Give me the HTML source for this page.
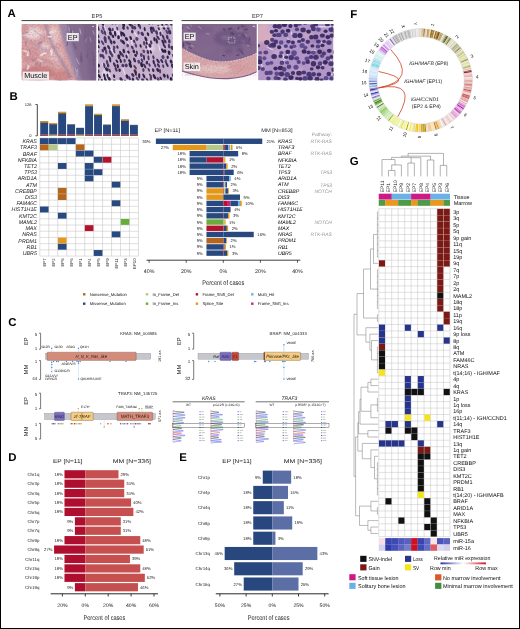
<!DOCTYPE html>
<html><head><meta charset="utf-8"><title>Figure</title>
<style>
html,body{margin:0;padding:0;background:#fff;}
body{width:520px;height:629px;overflow:hidden;font-family:'Liberation Sans', sans-serif;}
svg{display:block;font-family:"Liberation Sans",sans-serif;opacity:0.999;will-change:transform;}
svg text{text-rendering:geometricPrecision;}
</style></head><body>
<svg width="520" height="629" viewBox="0 0 520 629">
<rect x="0" y="0" width="520" height="629" fill="#fff"/>
<defs>
<filter id="bl1" x="-20%" y="-20%" width="140%" height="140%"><feGaussianBlur stdDeviation="1.6"/></filter>
<filter id="bl08" x="-20%" y="-20%" width="140%" height="140%"><feGaussianBlur stdDeviation="0.9"/></filter>
<filter id="bl05" x="-20%" y="-20%" width="140%" height="140%"><feGaussianBlur stdDeviation="0.5"/></filter>
<filter id="bl03" x="-20%" y="-20%" width="140%" height="140%"><feGaussianBlur stdDeviation="0.32"/></filter>
<filter id="nz1" x="0" y="0" width="100%" height="100%"><feTurbulence type="fractalNoise" baseFrequency="0.55" numOctaves="3" seed="3" result="n"/><feColorMatrix in="n" type="matrix" values="0 0 0 0 0.25  0 0 0 0 0.15  0 0 0 0 0.35  0 0 0 -3.2 1.75"/><feGaussianBlur stdDeviation="0.35"/></filter>
<filter id="nz2" x="0" y="0" width="100%" height="100%"><feTurbulence type="fractalNoise" baseFrequency="0.35" numOctaves="2" seed="11" result="n"/><feColorMatrix in="n" type="matrix" values="0 0 0 0 1  0 0 0 0 0.95  0 0 0 0 0.95  0 0 0 3.4 -1.75"/></filter>
<clipPath id="ca1"><rect x="21.5" y="24" width="74.8" height="56.4"/></clipPath>
<clipPath id="ca2"><rect x="98" y="24" width="74.9" height="56.4"/></clipPath>
<clipPath id="ca3"><rect x="181.9" y="24" width="74.8" height="56.4"/></clipPath>
<clipPath id="ca4"><rect x="258.1" y="24" width="75.4" height="56.4"/></clipPath>
</defs>
<line x1="21.50" y1="20.60" x2="172.60" y2="20.60" stroke="#222" stroke-width="0.9"/>
<line x1="181.50" y1="20.60" x2="333.30" y2="20.60" stroke="#222" stroke-width="0.9"/>
<text x="97.00" y="17.94" font-size="5.7" text-anchor="middle" fill="#333">EP5</text>
<text x="257.50" y="17.94" font-size="5.7" text-anchor="middle" fill="#333">EP7</text>
<g clip-path="url(#ca1)">
<rect x="21.50" y="24.00" width="74.80" height="56.40" fill="#dca6a4"/>
<g filter="url(#bl1)">
<ellipse cx="33" cy="33" rx="10" ry="6" fill="#efd8d6"/>
<ellipse cx="54" cy="36" rx="6" ry="10" fill="#e8c2c0"/>
<ellipse cx="56" cy="56" rx="7" ry="7" fill="#e6bcba"/>
<ellipse cx="30" cy="54" rx="9" ry="8" fill="#d89a9a"/>
<ellipse cx="38" cy="73" rx="18" ry="7" fill="#cc8280"/>
<ellipse cx="62" cy="76" rx="9" ry="6" fill="#d08a88"/>
<ellipse cx="25" cy="29" rx="4" ry="5" fill="#d69c9c"/>
<ellipse cx="45" cy="47" rx="5" ry="4" fill="#eacaca"/>
<path d="M59 22 L98 22 L98 82 L77 82 L72 66 L66 50 L62 36 Z" fill="#846c8e"/>
<path d="M59 22 L66 22 L70 40 L76 60 L82 82 L77 82 L72 66 L66 50 L62 36 Z" fill="#9a86a6"/>
<path d="M82 22 L98 22 L98 82 L90 82 Z" fill="#7a6286"/>
</g>
<g filter="url(#bl08)" fill="none" opacity="0.85">
<path d="M45 23 C48 33 50 42 56 52 S66 68 71 78" stroke="#94809e" stroke-width="2.2"/>
<path d="M22 37 C30 42 38 47 50 52" stroke="#b494aa" stroke-width="1.8"/>
<path d="M30 24 C34 30 40 36 47 40" stroke="#c09eae" stroke-width="1.2"/>
<path d="M24 60 C34 58 44 60 54 64" stroke="#b88a92" stroke-width="1.4"/>
</g>
<g filter="url(#bl05)">
<ellipse cx="72.7" cy="32.4" rx="2.2" ry="0.6" fill="#b4a0b8" transform="rotate(86 72.7 32.4)"/>
<ellipse cx="69.1" cy="28.8" rx="2.7" ry="0.6" fill="#b4a0b8" transform="rotate(77 69.1 28.8)"/>
<ellipse cx="76.0" cy="70.3" rx="2.7" ry="0.6" fill="#b4a0b8" transform="rotate(65 76.0 70.3)"/>
<ellipse cx="93.3" cy="56.3" rx="4.9" ry="0.6" fill="#6a5478" transform="rotate(76 93.3 56.3)"/>
<ellipse cx="80.4" cy="31.5" rx="3.6" ry="0.6" fill="#b4a0b8" transform="rotate(77 80.4 31.5)"/>
<ellipse cx="81.2" cy="59.8" rx="3.6" ry="0.6" fill="#6a5478" transform="rotate(75 81.2 59.8)"/>
<ellipse cx="80.6" cy="58.7" rx="3.6" ry="0.6" fill="#705880" transform="rotate(80 80.6 58.7)"/>
<ellipse cx="77.4" cy="75.7" rx="2.7" ry="0.6" fill="#a590ac" transform="rotate(74 77.4 75.7)"/>
<ellipse cx="85.1" cy="37.7" rx="3.6" ry="0.6" fill="#705880" transform="rotate(83 85.1 37.7)"/>
<ellipse cx="86.1" cy="40.1" rx="2.4" ry="0.6" fill="#9a84a4" transform="rotate(99 86.1 40.1)"/>
<ellipse cx="67.4" cy="43.2" rx="3.3" ry="0.6" fill="#6a5478" transform="rotate(97 67.4 43.2)"/>
<ellipse cx="87.2" cy="56.1" rx="2.9" ry="0.6" fill="#705880" transform="rotate(95 87.2 56.1)"/>
<ellipse cx="81.6" cy="56.5" rx="4.5" ry="0.6" fill="#705880" transform="rotate(78 81.6 56.5)"/>
<ellipse cx="77.6" cy="61.2" rx="4.1" ry="0.6" fill="#b4a0b8" transform="rotate(62 77.6 61.2)"/>
<ellipse cx="94.8" cy="70.0" rx="3.2" ry="0.6" fill="#705880" transform="rotate(71 94.8 70.0)"/>
<ellipse cx="65.9" cy="27.3" rx="2.4" ry="0.6" fill="#a590ac" transform="rotate(91 65.9 27.3)"/>
<ellipse cx="67.5" cy="46.5" rx="2.4" ry="0.6" fill="#9a84a4" transform="rotate(71 67.5 46.5)"/>
<ellipse cx="90.5" cy="39.6" rx="3.1" ry="0.6" fill="#9a84a4" transform="rotate(77 90.5 39.6)"/>
<ellipse cx="93.6" cy="32.5" rx="2.7" ry="0.6" fill="#a590ac" transform="rotate(67 93.6 32.5)"/>
<ellipse cx="71.3" cy="32.2" rx="3.8" ry="0.6" fill="#705880" transform="rotate(81 71.3 32.2)"/>
<ellipse cx="93.5" cy="62.7" rx="3.9" ry="0.6" fill="#6a5478" transform="rotate(81 93.5 62.7)"/>
<ellipse cx="77.1" cy="72.8" rx="4.0" ry="0.6" fill="#b4a0b8" transform="rotate(98 77.1 72.8)"/>
<ellipse cx="74.9" cy="46.3" rx="3.9" ry="0.6" fill="#6a5478" transform="rotate(64 74.9 46.3)"/>
<ellipse cx="43.5" cy="54.1" rx="3.9" ry="1.1" fill="#f3e2e0" transform="rotate(157 43.5 54.1)"/>
<ellipse cx="45.3" cy="32.3" rx="2.1" ry="0.8" fill="#ecd0ce" transform="rotate(85 45.3 32.3)"/>
<ellipse cx="26.4" cy="51.3" rx="3.9" ry="0.9" fill="#ecd0ce" transform="rotate(15 26.4 51.3)"/>
<ellipse cx="25.9" cy="43.2" rx="2.2" ry="1.2" fill="#c98886" transform="rotate(93 25.9 43.2)"/>
<ellipse cx="29.8" cy="77.3" rx="2.4" ry="1.1" fill="#f3e2e0" transform="rotate(136 29.8 77.3)"/>
<ellipse cx="33.3" cy="60.0" rx="1.7" ry="1.3" fill="#b08a9c" transform="rotate(66 33.3 60.0)"/>
<ellipse cx="28.3" cy="67.2" rx="2.8" ry="1.2" fill="#ecd0ce" transform="rotate(115 28.3 67.2)"/>
<ellipse cx="45.3" cy="68.2" rx="3.4" ry="0.7" fill="#c98886" transform="rotate(147 45.3 68.2)"/>
<ellipse cx="50.1" cy="36.7" rx="2.8" ry="0.8" fill="#f3e2e0" transform="rotate(178 50.1 36.7)"/>
<ellipse cx="52.0" cy="50.4" rx="2.0" ry="1.0" fill="#ecd0ce" transform="rotate(81 52.0 50.4)"/>
<ellipse cx="57.6" cy="79.3" rx="3.9" ry="0.8" fill="#c98886" transform="rotate(18 57.6 79.3)"/>
<ellipse cx="39.9" cy="42.9" rx="2.7" ry="1.4" fill="#b08a9c" transform="rotate(151 39.9 42.9)"/>
<ellipse cx="40.2" cy="60.6" rx="3.5" ry="0.6" fill="#f0dcda" transform="rotate(22 40.2 60.6)"/>
<ellipse cx="36.8" cy="63.8" rx="2.0" ry="1.3" fill="#c58088" transform="rotate(142 36.8 63.8)"/>
<ellipse cx="34.6" cy="68.8" rx="3.9" ry="0.9" fill="#c58088" transform="rotate(134 34.6 68.8)"/>
<ellipse cx="25.2" cy="32.9" rx="4.0" ry="0.5" fill="#b08a9c" transform="rotate(163 25.2 32.9)"/>
<ellipse cx="52.6" cy="32.2" rx="3.6" ry="1.4" fill="#f0dcda" transform="rotate(169 52.6 32.2)"/>
<ellipse cx="27.9" cy="54.7" rx="1.6" ry="1.2" fill="#f0dcda" transform="rotate(117 27.9 54.7)"/>
<ellipse cx="42.0" cy="76.3" rx="2.6" ry="1.3" fill="#c98886" transform="rotate(5 42.0 76.3)"/>
<ellipse cx="30.1" cy="52.1" rx="3.4" ry="0.8" fill="#b08a9c" transform="rotate(75 30.1 52.1)"/>
<ellipse cx="27.0" cy="75.0" rx="2.4" ry="0.9" fill="#b08a9c" transform="rotate(147 27.0 75.0)"/>
<ellipse cx="41.6" cy="70.3" rx="3.7" ry="0.6" fill="#c98886" transform="rotate(94 41.6 70.3)"/>
<ellipse cx="22.7" cy="48.6" rx="2.0" ry="0.5" fill="#c98886" transform="rotate(31 22.7 48.6)"/>
<ellipse cx="40.0" cy="64.6" rx="2.9" ry="0.8" fill="#b08a9c" transform="rotate(96 40.0 64.6)"/>
<ellipse cx="40.3" cy="67.5" rx="3.7" ry="0.6" fill="#c98886" transform="rotate(50 40.3 67.5)"/>
<ellipse cx="51.3" cy="52.4" rx="2.9" ry="1.2" fill="#f3e2e0" transform="rotate(80 51.3 52.4)"/>
</g>
<rect x="21.50" y="24.00" width="74.80" height="56.40" fill="#000" filter="url(#nz1)" opacity="0.32"/>
<rect x="66.60" y="33.00" width="12.20" height="8.20" fill="#f4f0f2" opacity="0.93"/>
<text x="72.70" y="39.81" font-size="7.3" text-anchor="middle" fill="#111">EP</text>
<rect x="22.60" y="71.60" width="26.40" height="8.20" fill="#f4f0f2" opacity="0.93"/>
<text x="35.80" y="78.21" font-size="7.3" text-anchor="middle" fill="#111">Muscle</text>
<rect x="92.30" y="25.90" width="1.60" height="0.80" fill="#fff"/>
</g>
<g clip-path="url(#ca2)">
<rect x="98.00" y="24.00" width="74.90" height="56.40" fill="#c6b2cc"/>
<g filter="url(#bl1)">
<ellipse cx="143.9" cy="52.3" rx="6.6" ry="3.4" fill="#c2a6c2" transform="rotate(68 143.9 52.3)"/>
<ellipse cx="136.1" cy="69.2" rx="6.5" ry="2.5" fill="#d0b0c0" transform="rotate(68 136.1 69.2)"/>
<ellipse cx="163.7" cy="76.8" rx="5.3" ry="3.1" fill="#b7a0c0" transform="rotate(68 163.7 76.8)"/>
<ellipse cx="161.0" cy="31.7" rx="4.6" ry="2.9" fill="#e2d6e4" transform="rotate(68 161.0 31.7)"/>
<ellipse cx="148.3" cy="48.0" rx="5.1" ry="2.6" fill="#e2d6e4" transform="rotate(68 148.3 48.0)"/>
<ellipse cx="165.3" cy="32.6" rx="7.6" ry="3.3" fill="#b7a0c0" transform="rotate(68 165.3 32.6)"/>
<ellipse cx="117.0" cy="31.7" rx="6.3" ry="3.5" fill="#e2d6e4" transform="rotate(68 117.0 31.7)"/>
<ellipse cx="127.9" cy="51.3" rx="8.9" ry="3.7" fill="#b7a0c0" transform="rotate(68 127.9 51.3)"/>
<ellipse cx="151.0" cy="79.7" rx="6.0" ry="2.8" fill="#d8bfd0" transform="rotate(68 151.0 79.7)"/>
<ellipse cx="121.9" cy="64.4" rx="4.1" ry="3.1" fill="#c2a6c2" transform="rotate(68 121.9 64.4)"/>
<ellipse cx="150.7" cy="45.5" rx="6.6" ry="2.6" fill="#e2d6e4" transform="rotate(68 150.7 45.5)"/>
<ellipse cx="106.5" cy="75.4" rx="5.1" ry="3.8" fill="#e2d6e4" transform="rotate(68 106.5 75.4)"/>
<ellipse cx="117.9" cy="26.2" rx="7.9" ry="2.5" fill="#b7a0c0" transform="rotate(68 117.9 26.2)"/>
<ellipse cx="159.5" cy="71.6" rx="7.4" ry="3.9" fill="#c2a6c2" transform="rotate(68 159.5 71.6)"/>
</g>
<g filter="url(#bl03)">
<ellipse cx="109.2" cy="75.5" rx="4.5" ry="0.5" fill="#efe6ef" transform="rotate(73 109.2 75.5)"/>
<ellipse cx="104.7" cy="27.2" rx="4.9" ry="0.5" fill="#efe6ef" transform="rotate(67 104.7 27.2)"/>
<ellipse cx="103.4" cy="76.5" rx="4.7" ry="0.5" fill="#efe6ef" transform="rotate(76 103.4 76.5)"/>
<ellipse cx="104.3" cy="71.9" rx="2.7" ry="0.5" fill="#efe6ef" transform="rotate(77 104.3 71.9)"/>
<ellipse cx="132.0" cy="43.0" rx="4.4" ry="0.5" fill="#efe6ef" transform="rotate(78 132.0 43.0)"/>
<ellipse cx="118.1" cy="31.2" rx="4.3" ry="0.5" fill="#efe6ef" transform="rotate(63 118.1 31.2)"/>
<ellipse cx="106.2" cy="33.0" rx="2.7" ry="0.5" fill="#efe6ef" transform="rotate(62 106.2 33.0)"/>
<ellipse cx="121.4" cy="41.1" rx="5.2" ry="0.5" fill="#efe6ef" transform="rotate(64 121.4 41.1)"/>
<ellipse cx="135.5" cy="34.0" rx="3.7" ry="0.5" fill="#efe6ef" transform="rotate(58 135.5 34.0)"/>
<ellipse cx="116.8" cy="24.9" rx="5.1" ry="0.5" fill="#efe6ef" transform="rotate(70 116.8 24.9)"/>
<ellipse cx="112.2" cy="50.6" rx="5.8" ry="0.5" fill="#efe6ef" transform="rotate(60 112.2 50.6)"/>
<ellipse cx="159.4" cy="48.2" rx="4.2" ry="0.5" fill="#efe6ef" transform="rotate(76 159.4 48.2)"/>
<ellipse cx="127.5" cy="52.4" rx="4.9" ry="0.5" fill="#efe6ef" transform="rotate(80 127.5 52.4)"/>
<ellipse cx="123.7" cy="70.6" rx="5.0" ry="0.5" fill="#efe6ef" transform="rotate(72 123.7 70.6)"/>
<ellipse cx="128.4" cy="43.5" rx="2.7" ry="0.5" fill="#efe6ef" transform="rotate(61 128.4 43.5)"/>
<ellipse cx="103.3" cy="65.5" rx="3.4" ry="0.5" fill="#efe6ef" transform="rotate(62 103.3 65.5)"/>
<ellipse cx="102.7" cy="24.0" rx="2.0" ry="1.1" fill="#2c2044" transform="rotate(64 102.7 24.0)"/>
<ellipse cx="105.5" cy="21.9" rx="2.1" ry="1.5" fill="#4a3566" transform="rotate(67 105.5 21.9)"/>
<ellipse cx="112.2" cy="22.9" rx="1.7" ry="1.2" fill="#2c2044" transform="rotate(67 112.2 22.9)"/>
<ellipse cx="115.9" cy="22.7" rx="1.8" ry="1.4" fill="#3f2d5a" transform="rotate(81 115.9 22.7)"/>
<ellipse cx="118.6" cy="22.0" rx="2.0" ry="1.3" fill="#54406e" transform="rotate(65 118.6 22.0)"/>
<ellipse cx="123.6" cy="24.8" rx="2.4" ry="1.4" fill="#2c2044" transform="rotate(81 123.6 24.8)"/>
<ellipse cx="129.9" cy="24.0" rx="2.7" ry="1.4" fill="#2c2044" transform="rotate(56 129.9 24.0)"/>
<ellipse cx="134.7" cy="22.3" rx="2.3" ry="1.4" fill="#33244c" transform="rotate(72 134.7 22.3)"/>
<ellipse cx="138.7" cy="24.8" rx="2.5" ry="1.1" fill="#33244c" transform="rotate(78 138.7 24.8)"/>
<ellipse cx="149.0" cy="23.1" rx="1.8" ry="1.0" fill="#54406e" transform="rotate(70 149.0 23.1)"/>
<ellipse cx="152.2" cy="21.9" rx="2.6" ry="1.2" fill="#54406e" transform="rotate(81 152.2 21.9)"/>
<ellipse cx="162.1" cy="23.4" rx="2.7" ry="1.1" fill="#3f2d5a" transform="rotate(82 162.1 23.4)"/>
<ellipse cx="166.4" cy="23.4" rx="1.8" ry="1.5" fill="#4a3566" transform="rotate(83 166.4 23.4)"/>
<ellipse cx="171.0" cy="24.0" rx="1.9" ry="1.1" fill="#4a3566" transform="rotate(58 171.0 24.0)"/>
<ellipse cx="98.2" cy="28.1" rx="2.9" ry="1.0" fill="#3f2d5a" transform="rotate(71 98.2 28.1)"/>
<ellipse cx="103.3" cy="28.3" rx="2.3" ry="1.0" fill="#54406e" transform="rotate(70 103.3 28.3)"/>
<ellipse cx="109.9" cy="29.6" rx="2.3" ry="1.4" fill="#2c2044" transform="rotate(56 109.9 29.6)"/>
<ellipse cx="112.8" cy="29.5" rx="1.8" ry="1.0" fill="#54406e" transform="rotate(86 112.8 29.5)"/>
<ellipse cx="117.3" cy="28.5" rx="2.0" ry="1.0" fill="#4a3566" transform="rotate(76 117.3 28.5)"/>
<ellipse cx="123.5" cy="28.2" rx="1.7" ry="1.2" fill="#2c2044" transform="rotate(56 123.5 28.2)"/>
<ellipse cx="127.6" cy="27.9" rx="1.8" ry="1.1" fill="#4a3566" transform="rotate(67 127.6 27.9)"/>
<ellipse cx="132.5" cy="27.0" rx="2.6" ry="1.4" fill="#4a3566" transform="rotate(86 132.5 27.0)"/>
<ellipse cx="134.8" cy="27.8" rx="1.8" ry="1.5" fill="#4a3566" transform="rotate(84 134.8 27.8)"/>
<ellipse cx="140.0" cy="26.8" rx="2.5" ry="1.0" fill="#4a3566" transform="rotate(77 140.0 26.8)"/>
<ellipse cx="144.7" cy="29.1" rx="2.2" ry="1.0" fill="#2c2044" transform="rotate(81 144.7 29.1)"/>
<ellipse cx="151.2" cy="28.4" rx="1.8" ry="1.4" fill="#2c2044" transform="rotate(79 151.2 28.4)"/>
<ellipse cx="153.4" cy="29.4" rx="2.8" ry="1.3" fill="#3f2d5a" transform="rotate(71 153.4 29.4)"/>
<ellipse cx="158.6" cy="27.6" rx="2.9" ry="1.1" fill="#3f2d5a" transform="rotate(79 158.6 27.6)"/>
<ellipse cx="163.9" cy="27.9" rx="1.9" ry="1.1" fill="#2c2044" transform="rotate(61 163.9 27.9)"/>
<ellipse cx="168.2" cy="27.7" rx="2.2" ry="1.3" fill="#3f2d5a" transform="rotate(80 168.2 27.7)"/>
<ellipse cx="95.8" cy="32.1" rx="2.4" ry="1.4" fill="#2c2044" transform="rotate(64 95.8 32.1)"/>
<ellipse cx="102.3" cy="32.0" rx="2.6" ry="1.2" fill="#54406e" transform="rotate(64 102.3 32.0)"/>
<ellipse cx="105.1" cy="32.9" rx="2.7" ry="1.1" fill="#4a3566" transform="rotate(76 105.1 32.9)"/>
<ellipse cx="110.5" cy="33.4" rx="2.1" ry="1.4" fill="#33244c" transform="rotate(69 110.5 33.4)"/>
<ellipse cx="115.2" cy="33.7" rx="2.9" ry="1.2" fill="#33244c" transform="rotate(82 115.2 33.7)"/>
<ellipse cx="121.3" cy="33.9" rx="2.9" ry="1.1" fill="#33244c" transform="rotate(83 121.3 33.9)"/>
<ellipse cx="123.6" cy="34.4" rx="2.7" ry="1.3" fill="#2c2044" transform="rotate(59 123.6 34.4)"/>
<ellipse cx="132.3" cy="31.7" rx="1.7" ry="1.3" fill="#3f2d5a" transform="rotate(74 132.3 31.7)"/>
<ellipse cx="138.5" cy="32.7" rx="1.8" ry="1.1" fill="#54406e" transform="rotate(80 138.5 32.7)"/>
<ellipse cx="142.3" cy="33.8" rx="2.3" ry="1.5" fill="#4a3566" transform="rotate(55 142.3 33.8)"/>
<ellipse cx="148.0" cy="34.1" rx="2.0" ry="1.1" fill="#2c2044" transform="rotate(71 148.0 34.1)"/>
<ellipse cx="151.6" cy="31.4" rx="2.5" ry="1.2" fill="#4a3566" transform="rotate(71 151.6 31.4)"/>
<ellipse cx="156.6" cy="32.5" rx="2.5" ry="1.3" fill="#4a3566" transform="rotate(71 156.6 32.5)"/>
<ellipse cx="160.5" cy="33.9" rx="2.3" ry="1.1" fill="#3f2d5a" transform="rotate(79 160.5 33.9)"/>
<ellipse cx="167.0" cy="32.0" rx="2.6" ry="1.1" fill="#54406e" transform="rotate(62 167.0 32.0)"/>
<ellipse cx="169.7" cy="32.0" rx="2.5" ry="1.5" fill="#3f2d5a" transform="rotate(69 169.7 32.0)"/>
<ellipse cx="98.0" cy="36.1" rx="2.2" ry="1.3" fill="#3f2d5a" transform="rotate(75 98.0 36.1)"/>
<ellipse cx="105.1" cy="38.8" rx="2.9" ry="1.5" fill="#4a3566" transform="rotate(79 105.1 38.8)"/>
<ellipse cx="109.0" cy="37.7" rx="2.1" ry="1.3" fill="#4a3566" transform="rotate(70 109.0 37.7)"/>
<ellipse cx="112.9" cy="36.3" rx="1.8" ry="1.2" fill="#33244c" transform="rotate(58 112.9 36.3)"/>
<ellipse cx="118.5" cy="37.2" rx="2.1" ry="1.4" fill="#33244c" transform="rotate(80 118.5 37.2)"/>
<ellipse cx="126.5" cy="38.9" rx="2.1" ry="1.4" fill="#33244c" transform="rotate(61 126.5 38.9)"/>
<ellipse cx="130.7" cy="38.0" rx="2.2" ry="1.2" fill="#33244c" transform="rotate(68 130.7 38.0)"/>
<ellipse cx="136.8" cy="38.9" rx="2.0" ry="1.5" fill="#54406e" transform="rotate(66 136.8 38.9)"/>
<ellipse cx="145.9" cy="39.0" rx="2.6" ry="1.3" fill="#33244c" transform="rotate(65 145.9 39.0)"/>
<ellipse cx="154.4" cy="39.1" rx="2.2" ry="1.1" fill="#2c2044" transform="rotate(86 154.4 39.1)"/>
<ellipse cx="158.0" cy="37.6" rx="2.8" ry="1.1" fill="#3f2d5a" transform="rotate(55 158.0 37.6)"/>
<ellipse cx="163.2" cy="37.0" rx="2.6" ry="1.0" fill="#3f2d5a" transform="rotate(67 163.2 37.0)"/>
<ellipse cx="167.3" cy="37.3" rx="2.3" ry="1.2" fill="#3f2d5a" transform="rotate(76 167.3 37.3)"/>
<ellipse cx="174.1" cy="39.2" rx="1.8" ry="1.0" fill="#2c2044" transform="rotate(64 174.1 39.2)"/>
<ellipse cx="98.4" cy="41.3" rx="2.3" ry="1.4" fill="#3f2d5a" transform="rotate(59 98.4 41.3)"/>
<ellipse cx="102.6" cy="42.8" rx="2.7" ry="1.1" fill="#54406e" transform="rotate(59 102.6 42.8)"/>
<ellipse cx="105.5" cy="41.5" rx="1.9" ry="1.1" fill="#4a3566" transform="rotate(70 105.5 41.5)"/>
<ellipse cx="111.0" cy="41.7" rx="2.9" ry="1.2" fill="#3f2d5a" transform="rotate(68 111.0 41.7)"/>
<ellipse cx="114.2" cy="42.2" rx="1.7" ry="1.4" fill="#3f2d5a" transform="rotate(56 114.2 42.2)"/>
<ellipse cx="121.2" cy="40.8" rx="1.8" ry="1.1" fill="#54406e" transform="rotate(65 121.2 40.8)"/>
<ellipse cx="123.3" cy="42.3" rx="2.4" ry="1.4" fill="#33244c" transform="rotate(61 123.3 42.3)"/>
<ellipse cx="134.2" cy="41.4" rx="1.9" ry="1.1" fill="#4a3566" transform="rotate(67 134.2 41.4)"/>
<ellipse cx="144.2" cy="43.3" rx="2.2" ry="1.2" fill="#54406e" transform="rotate(82 144.2 43.3)"/>
<ellipse cx="146.7" cy="43.2" rx="1.8" ry="1.0" fill="#2c2044" transform="rotate(73 146.7 43.2)"/>
<ellipse cx="151.2" cy="42.4" rx="2.2" ry="1.1" fill="#4a3566" transform="rotate(77 151.2 42.4)"/>
<ellipse cx="156.6" cy="40.9" rx="2.8" ry="1.2" fill="#33244c" transform="rotate(80 156.6 40.9)"/>
<ellipse cx="162.9" cy="41.9" rx="2.6" ry="1.1" fill="#33244c" transform="rotate(62 162.9 41.9)"/>
<ellipse cx="165.0" cy="41.1" rx="2.4" ry="1.2" fill="#3f2d5a" transform="rotate(58 165.0 41.1)"/>
<ellipse cx="169.3" cy="41.2" rx="2.2" ry="1.3" fill="#4a3566" transform="rotate(82 169.3 41.2)"/>
<ellipse cx="98.3" cy="46.5" rx="1.9" ry="1.0" fill="#2c2044" transform="rotate(60 98.3 46.5)"/>
<ellipse cx="104.8" cy="48.5" rx="1.9" ry="1.5" fill="#2c2044" transform="rotate(62 104.8 48.5)"/>
<ellipse cx="108.8" cy="47.4" rx="2.6" ry="1.3" fill="#3f2d5a" transform="rotate(58 108.8 47.4)"/>
<ellipse cx="114.2" cy="47.4" rx="1.9" ry="1.2" fill="#54406e" transform="rotate(75 114.2 47.4)"/>
<ellipse cx="117.4" cy="47.1" rx="1.8" ry="1.1" fill="#3f2d5a" transform="rotate(68 117.4 47.1)"/>
<ellipse cx="127.7" cy="45.5" rx="1.8" ry="1.3" fill="#54406e" transform="rotate(83 127.7 45.5)"/>
<ellipse cx="132.3" cy="47.5" rx="2.0" ry="1.2" fill="#4a3566" transform="rotate(65 132.3 47.5)"/>
<ellipse cx="135.9" cy="45.5" rx="2.3" ry="1.1" fill="#54406e" transform="rotate(75 135.9 45.5)"/>
<ellipse cx="140.6" cy="46.0" rx="1.8" ry="1.0" fill="#2c2044" transform="rotate(71 140.6 46.0)"/>
<ellipse cx="146.2" cy="47.0" rx="1.7" ry="1.0" fill="#4a3566" transform="rotate(77 146.2 47.0)"/>
<ellipse cx="149.9" cy="45.6" rx="2.2" ry="1.5" fill="#3f2d5a" transform="rotate(72 149.9 45.6)"/>
<ellipse cx="164.3" cy="45.8" rx="2.8" ry="1.1" fill="#3f2d5a" transform="rotate(59 164.3 45.8)"/>
<ellipse cx="169.0" cy="46.1" rx="2.4" ry="1.1" fill="#4a3566" transform="rotate(82 169.0 46.1)"/>
<ellipse cx="172.2" cy="48.0" rx="2.3" ry="1.5" fill="#3f2d5a" transform="rotate(60 172.2 48.0)"/>
<ellipse cx="97.3" cy="50.9" rx="1.9" ry="1.2" fill="#4a3566" transform="rotate(67 97.3 50.9)"/>
<ellipse cx="102.8" cy="50.6" rx="1.8" ry="1.2" fill="#4a3566" transform="rotate(81 102.8 50.6)"/>
<ellipse cx="106.1" cy="51.8" rx="2.8" ry="1.1" fill="#54406e" transform="rotate(78 106.1 51.8)"/>
<ellipse cx="110.5" cy="52.7" rx="2.9" ry="1.3" fill="#4a3566" transform="rotate(64 110.5 52.7)"/>
<ellipse cx="114.1" cy="50.8" rx="2.8" ry="1.1" fill="#54406e" transform="rotate(75 114.1 50.8)"/>
<ellipse cx="120.4" cy="53.2" rx="2.5" ry="1.1" fill="#33244c" transform="rotate(74 120.4 53.2)"/>
<ellipse cx="123.8" cy="51.0" rx="2.2" ry="1.2" fill="#33244c" transform="rotate(76 123.8 51.0)"/>
<ellipse cx="128.4" cy="52.2" rx="1.7" ry="1.1" fill="#33244c" transform="rotate(56 128.4 52.2)"/>
<ellipse cx="133.9" cy="51.4" rx="1.9" ry="1.2" fill="#2c2044" transform="rotate(65 133.9 51.4)"/>
<ellipse cx="136.9" cy="52.7" rx="2.2" ry="1.0" fill="#3f2d5a" transform="rotate(78 136.9 52.7)"/>
<ellipse cx="143.8" cy="51.4" rx="1.7" ry="1.3" fill="#54406e" transform="rotate(64 143.8 51.4)"/>
<ellipse cx="147.9" cy="52.0" rx="2.3" ry="1.2" fill="#3f2d5a" transform="rotate(75 147.9 52.0)"/>
<ellipse cx="150.8" cy="51.8" rx="2.0" ry="1.0" fill="#33244c" transform="rotate(68 150.8 51.8)"/>
<ellipse cx="162.7" cy="50.6" rx="2.4" ry="1.2" fill="#2c2044" transform="rotate(62 162.7 50.6)"/>
<ellipse cx="165.0" cy="51.1" rx="1.8" ry="1.4" fill="#2c2044" transform="rotate(65 165.0 51.1)"/>
<ellipse cx="169.1" cy="52.8" rx="2.3" ry="1.4" fill="#2c2044" transform="rotate(80 169.1 52.8)"/>
<ellipse cx="100.8" cy="55.6" rx="1.8" ry="1.4" fill="#4a3566" transform="rotate(76 100.8 55.6)"/>
<ellipse cx="103.2" cy="56.6" rx="2.6" ry="1.2" fill="#4a3566" transform="rotate(69 103.2 56.6)"/>
<ellipse cx="109.8" cy="57.7" rx="2.3" ry="1.0" fill="#3f2d5a" transform="rotate(58 109.8 57.7)"/>
<ellipse cx="112.2" cy="55.3" rx="1.9" ry="1.2" fill="#54406e" transform="rotate(85 112.2 55.3)"/>
<ellipse cx="118.9" cy="56.8" rx="2.5" ry="1.5" fill="#2c2044" transform="rotate(78 118.9 56.8)"/>
<ellipse cx="122.4" cy="54.8" rx="2.8" ry="1.1" fill="#4a3566" transform="rotate(56 122.4 54.8)"/>
<ellipse cx="126.6" cy="56.7" rx="1.9" ry="1.0" fill="#33244c" transform="rotate(74 126.6 56.7)"/>
<ellipse cx="135.6" cy="55.3" rx="1.7" ry="1.3" fill="#33244c" transform="rotate(56 135.6 55.3)"/>
<ellipse cx="141.4" cy="55.0" rx="2.1" ry="1.4" fill="#54406e" transform="rotate(74 141.4 55.0)"/>
<ellipse cx="144.0" cy="57.6" rx="2.8" ry="1.0" fill="#3f2d5a" transform="rotate(85 144.0 57.6)"/>
<ellipse cx="148.5" cy="57.8" rx="2.6" ry="1.0" fill="#4a3566" transform="rotate(85 148.5 57.8)"/>
<ellipse cx="153.4" cy="57.3" rx="2.1" ry="1.1" fill="#4a3566" transform="rotate(76 153.4 57.3)"/>
<ellipse cx="163.0" cy="57.1" rx="2.1" ry="1.5" fill="#54406e" transform="rotate(67 163.0 57.1)"/>
<ellipse cx="167.7" cy="57.2" rx="1.7" ry="1.2" fill="#33244c" transform="rotate(81 167.7 57.2)"/>
<ellipse cx="173.5" cy="56.5" rx="2.7" ry="1.0" fill="#4a3566" transform="rotate(62 173.5 56.5)"/>
<ellipse cx="95.5" cy="60.1" rx="2.9" ry="1.0" fill="#2c2044" transform="rotate(80 95.5 60.1)"/>
<ellipse cx="107.2" cy="62.6" rx="2.8" ry="1.2" fill="#54406e" transform="rotate(75 107.2 62.6)"/>
<ellipse cx="110.2" cy="60.2" rx="2.3" ry="1.0" fill="#33244c" transform="rotate(78 110.2 60.2)"/>
<ellipse cx="116.9" cy="61.3" rx="2.1" ry="1.0" fill="#2c2044" transform="rotate(58 116.9 61.3)"/>
<ellipse cx="120.7" cy="60.9" rx="2.1" ry="1.1" fill="#2c2044" transform="rotate(76 120.7 60.9)"/>
<ellipse cx="124.6" cy="60.7" rx="2.0" ry="1.2" fill="#54406e" transform="rotate(84 124.6 60.7)"/>
<ellipse cx="129.8" cy="61.4" rx="2.4" ry="1.2" fill="#2c2044" transform="rotate(56 129.8 61.4)"/>
<ellipse cx="134.5" cy="60.0" rx="2.6" ry="1.3" fill="#3f2d5a" transform="rotate(69 134.5 60.0)"/>
<ellipse cx="138.8" cy="61.7" rx="2.0" ry="1.4" fill="#54406e" transform="rotate(72 138.8 61.7)"/>
<ellipse cx="142.0" cy="60.3" rx="2.3" ry="1.0" fill="#4a3566" transform="rotate(66 142.0 60.3)"/>
<ellipse cx="146.9" cy="62.6" rx="1.9" ry="1.3" fill="#3f2d5a" transform="rotate(88 146.9 62.6)"/>
<ellipse cx="153.7" cy="62.0" rx="2.2" ry="1.1" fill="#33244c" transform="rotate(79 153.7 62.0)"/>
<ellipse cx="158.0" cy="61.0" rx="2.7" ry="1.2" fill="#3f2d5a" transform="rotate(55 158.0 61.0)"/>
<ellipse cx="161.8" cy="61.0" rx="2.4" ry="1.2" fill="#3f2d5a" transform="rotate(60 161.8 61.0)"/>
<ellipse cx="165.8" cy="61.3" rx="2.2" ry="1.1" fill="#54406e" transform="rotate(80 165.8 61.3)"/>
<ellipse cx="171.1" cy="61.6" rx="2.1" ry="1.3" fill="#33244c" transform="rotate(70 171.1 61.6)"/>
<ellipse cx="98.5" cy="65.5" rx="1.9" ry="1.4" fill="#2c2044" transform="rotate(79 98.5 65.5)"/>
<ellipse cx="104.3" cy="65.5" rx="2.8" ry="1.1" fill="#4a3566" transform="rotate(77 104.3 65.5)"/>
<ellipse cx="108.2" cy="65.8" rx="1.7" ry="1.2" fill="#3f2d5a" transform="rotate(87 108.2 65.8)"/>
<ellipse cx="114.5" cy="64.8" rx="2.7" ry="1.2" fill="#3f2d5a" transform="rotate(66 114.5 64.8)"/>
<ellipse cx="117.7" cy="66.2" rx="2.3" ry="1.2" fill="#2c2044" transform="rotate(82 117.7 66.2)"/>
<ellipse cx="122.9" cy="65.5" rx="1.8" ry="1.5" fill="#4a3566" transform="rotate(80 122.9 65.5)"/>
<ellipse cx="126.2" cy="65.4" rx="1.8" ry="1.5" fill="#4a3566" transform="rotate(57 126.2 65.4)"/>
<ellipse cx="130.3" cy="65.2" rx="2.8" ry="1.5" fill="#2c2044" transform="rotate(68 130.3 65.2)"/>
<ellipse cx="135.1" cy="67.2" rx="2.7" ry="1.1" fill="#54406e" transform="rotate(57 135.1 67.2)"/>
<ellipse cx="141.6" cy="64.7" rx="2.7" ry="1.4" fill="#2c2044" transform="rotate(77 141.6 64.7)"/>
<ellipse cx="144.7" cy="66.0" rx="2.7" ry="1.1" fill="#3f2d5a" transform="rotate(59 144.7 66.0)"/>
<ellipse cx="149.5" cy="65.0" rx="1.9" ry="1.0" fill="#4a3566" transform="rotate(69 149.5 65.0)"/>
<ellipse cx="155.0" cy="65.2" rx="2.4" ry="1.0" fill="#4a3566" transform="rotate(71 155.0 65.2)"/>
<ellipse cx="158.5" cy="65.4" rx="2.4" ry="1.1" fill="#3f2d5a" transform="rotate(58 158.5 65.4)"/>
<ellipse cx="163.2" cy="66.1" rx="2.0" ry="1.0" fill="#4a3566" transform="rotate(77 163.2 66.1)"/>
<ellipse cx="167.1" cy="64.7" rx="2.6" ry="1.1" fill="#3f2d5a" transform="rotate(63 167.1 64.7)"/>
<ellipse cx="172.6" cy="65.9" rx="2.5" ry="1.5" fill="#33244c" transform="rotate(75 172.6 65.9)"/>
<ellipse cx="98.2" cy="71.4" rx="1.9" ry="1.3" fill="#54406e" transform="rotate(83 98.2 71.4)"/>
<ellipse cx="106.7" cy="69.3" rx="2.2" ry="1.4" fill="#2c2044" transform="rotate(59 106.7 69.3)"/>
<ellipse cx="109.5" cy="70.4" rx="2.3" ry="1.2" fill="#54406e" transform="rotate(60 109.5 70.4)"/>
<ellipse cx="116.1" cy="69.4" rx="2.5" ry="1.2" fill="#4a3566" transform="rotate(66 116.1 69.4)"/>
<ellipse cx="119.6" cy="70.2" rx="1.8" ry="1.3" fill="#33244c" transform="rotate(87 119.6 70.2)"/>
<ellipse cx="135.3" cy="71.5" rx="2.3" ry="1.4" fill="#3f2d5a" transform="rotate(58 135.3 71.5)"/>
<ellipse cx="143.4" cy="70.0" rx="2.1" ry="1.2" fill="#54406e" transform="rotate(83 143.4 70.0)"/>
<ellipse cx="148.8" cy="69.8" rx="2.0" ry="1.0" fill="#4a3566" transform="rotate(66 148.8 69.8)"/>
<ellipse cx="153.2" cy="70.2" rx="2.0" ry="1.2" fill="#3f2d5a" transform="rotate(72 153.2 70.2)"/>
<ellipse cx="157.7" cy="70.0" rx="2.1" ry="1.3" fill="#33244c" transform="rotate(65 157.7 70.0)"/>
<ellipse cx="160.0" cy="71.2" rx="2.4" ry="1.0" fill="#4a3566" transform="rotate(84 160.0 71.2)"/>
<ellipse cx="99.2" cy="76.1" rx="2.3" ry="1.2" fill="#2c2044" transform="rotate(57 99.2 76.1)"/>
<ellipse cx="104.3" cy="75.8" rx="2.5" ry="1.1" fill="#2c2044" transform="rotate(75 104.3 75.8)"/>
<ellipse cx="107.5" cy="75.7" rx="2.2" ry="1.0" fill="#33244c" transform="rotate(84 107.5 75.7)"/>
<ellipse cx="114.1" cy="76.1" rx="2.0" ry="1.1" fill="#2c2044" transform="rotate(74 114.1 76.1)"/>
<ellipse cx="127.1" cy="76.5" rx="2.3" ry="1.4" fill="#2c2044" transform="rotate(71 127.1 76.5)"/>
<ellipse cx="132.8" cy="75.0" rx="2.2" ry="1.3" fill="#3f2d5a" transform="rotate(55 132.8 75.0)"/>
<ellipse cx="135.8" cy="73.9" rx="2.0" ry="1.0" fill="#33244c" transform="rotate(76 135.8 73.9)"/>
<ellipse cx="139.2" cy="75.7" rx="2.7" ry="1.1" fill="#33244c" transform="rotate(88 139.2 75.7)"/>
<ellipse cx="143.9" cy="75.9" rx="2.6" ry="1.1" fill="#33244c" transform="rotate(63 143.9 75.9)"/>
<ellipse cx="150.6" cy="75.8" rx="2.6" ry="1.1" fill="#54406e" transform="rotate(60 150.6 75.8)"/>
<ellipse cx="154.4" cy="76.6" rx="2.9" ry="1.3" fill="#33244c" transform="rotate(63 154.4 76.6)"/>
<ellipse cx="164.3" cy="75.6" rx="2.1" ry="1.3" fill="#2c2044" transform="rotate(68 164.3 75.6)"/>
<ellipse cx="167.7" cy="76.6" rx="2.3" ry="1.0" fill="#33244c" transform="rotate(79 167.7 76.6)"/>
<ellipse cx="173.3" cy="75.6" rx="2.2" ry="1.4" fill="#4a3566" transform="rotate(69 173.3 75.6)"/>
<ellipse cx="97.2" cy="79.2" rx="2.9" ry="1.3" fill="#54406e" transform="rotate(57 97.2 79.2)"/>
<ellipse cx="101.9" cy="81.4" rx="2.4" ry="1.1" fill="#2c2044" transform="rotate(82 101.9 81.4)"/>
<ellipse cx="105.4" cy="79.5" rx="2.6" ry="1.1" fill="#2c2044" transform="rotate(67 105.4 79.5)"/>
<ellipse cx="109.3" cy="79.1" rx="2.4" ry="1.4" fill="#33244c" transform="rotate(69 109.3 79.1)"/>
<ellipse cx="114.3" cy="81.1" rx="1.9" ry="1.5" fill="#54406e" transform="rotate(88 114.3 81.1)"/>
<ellipse cx="121.2" cy="79.4" rx="2.4" ry="1.4" fill="#3f2d5a" transform="rotate(58 121.2 79.4)"/>
<ellipse cx="125.3" cy="81.4" rx="1.8" ry="1.2" fill="#3f2d5a" transform="rotate(65 125.3 81.4)"/>
<ellipse cx="129.5" cy="78.3" rx="2.3" ry="1.2" fill="#4a3566" transform="rotate(68 129.5 78.3)"/>
<ellipse cx="133.0" cy="80.2" rx="2.8" ry="1.2" fill="#2c2044" transform="rotate(85 133.0 80.2)"/>
<ellipse cx="137.5" cy="79.0" rx="2.7" ry="1.1" fill="#54406e" transform="rotate(58 137.5 79.0)"/>
<ellipse cx="142.7" cy="80.0" rx="1.8" ry="1.5" fill="#4a3566" transform="rotate(60 142.7 80.0)"/>
<ellipse cx="147.2" cy="79.8" rx="2.1" ry="1.0" fill="#4a3566" transform="rotate(58 147.2 79.8)"/>
<ellipse cx="150.8" cy="78.4" rx="2.7" ry="1.2" fill="#54406e" transform="rotate(88 150.8 78.4)"/>
<ellipse cx="158.1" cy="79.2" rx="2.2" ry="1.3" fill="#54406e" transform="rotate(58 158.1 79.2)"/>
<ellipse cx="160.7" cy="78.4" rx="1.9" ry="1.0" fill="#33244c" transform="rotate(62 160.7 78.4)"/>
<ellipse cx="171.2" cy="79.9" rx="2.8" ry="1.4" fill="#2c2044" transform="rotate(83 171.2 79.9)"/>
</g>
<rect x="157.20" y="26.40" width="13.30" height="0.90" fill="#fff"/>
</g>
<g clip-path="url(#ca3)">
<rect x="181.90" y="24.00" width="74.80" height="56.40" fill="#fbf9fa"/>
<g filter="url(#bl05)">
<path d="M181 24 L257 24 L257 71.5 Q246 77.5 228 78.6 Q210 79 196 75 Q188 73 181 70.6 Z" fill="#d9a6a8"/>
<path d="M181 70.6 Q188 73 196 75 Q210 79 228 78.6 Q246 77.5 257 71.5" fill="none" stroke="#7e5e86" stroke-width="1.2"/>
<path d="M181 24 L257 24 L257 53 Q250 56 243 58.6 Q226 63.5 210 60.5 Q196 56.5 181 47.8 Z" fill="#80668c"/>
</g>
<g filter="url(#bl1)">
<ellipse cx="232" cy="38" rx="18" ry="9" fill="#6c5480" opacity="0.9"/>
<ellipse cx="248.6" cy="44.4" rx="2.3" ry="1.6" fill="#5c4870" opacity="0.8"/>
<ellipse cx="228.8" cy="50.9" rx="4.0" ry="1.8" fill="#644e78" opacity="0.8"/>
<ellipse cx="243.5" cy="35.6" rx="2.7" ry="2.2" fill="#5c4870" opacity="0.8"/>
<ellipse cx="186.7" cy="32.7" rx="3.1" ry="2.5" fill="#8c6e90" opacity="0.8"/>
<ellipse cx="242.6" cy="27.2" rx="4.4" ry="2.2" fill="#644e78" opacity="0.8"/>
<ellipse cx="187.9" cy="29.8" rx="4.3" ry="2.5" fill="#94748e" opacity="0.8"/>
<ellipse cx="225.3" cy="37.5" rx="4.0" ry="1.9" fill="#94748e" opacity="0.8"/>
<ellipse cx="202.0" cy="29.2" rx="3.4" ry="1.4" fill="#5c4870" opacity="0.8"/>
<ellipse cx="240.5" cy="49.8" rx="4.7" ry="1.9" fill="#5c4870" opacity="0.8"/>
<ellipse cx="239.9" cy="30.1" rx="4.5" ry="1.3" fill="#a07e98" opacity="0.8"/>
<ellipse cx="244.7" cy="49.1" rx="2.4" ry="1.8" fill="#8c6e90" opacity="0.8"/>
<ellipse cx="248.8" cy="36.0" rx="2.1" ry="1.3" fill="#94748e" opacity="0.8"/>
<ellipse cx="206.6" cy="32.1" rx="2.3" ry="1.7" fill="#94748e" opacity="0.8"/>
<ellipse cx="199.5" cy="27.5" rx="4.1" ry="2.0" fill="#5c4870" opacity="0.8"/>
<ellipse cx="214.7" cy="29.9" rx="3.3" ry="1.5" fill="#8c6e90" opacity="0.8"/>
<ellipse cx="203.0" cy="47.8" rx="3.0" ry="1.4" fill="#644e78" opacity="0.8"/>
<ellipse cx="200" cy="30" rx="14" ry="5" fill="#7a6088" opacity="0.9"/>
<ellipse cx="205" cy="50" rx="10" ry="4" fill="#846a8c" opacity="0.8"/>
<ellipse cx="215" cy="69" rx="22" ry="4" fill="#e6c3be" opacity="0.9"/>
<ellipse cx="240" cy="68" rx="12" ry="4" fill="#d5a09e" opacity="0.9"/>
<ellipse cx="190" cy="60" rx="7" ry="5" fill="#d9aaa8" opacity="0.9"/>
</g>
<g filter="url(#bl05)">
<ellipse cx="190.1" cy="39.1" rx="2.2" ry="0.6" fill="#544068" transform="rotate(10 190.1 39.1)"/>
<ellipse cx="248.2" cy="45.7" rx="1.6" ry="0.7" fill="#a88aa6" transform="rotate(21 248.2 45.7)"/>
<ellipse cx="237.9" cy="55.1" rx="2.1" ry="0.6" fill="#5a446e" transform="rotate(167 237.9 55.1)"/>
<ellipse cx="189.2" cy="34.0" rx="3.0" ry="0.5" fill="#a88aa6" transform="rotate(26 189.2 34.0)"/>
<ellipse cx="229.3" cy="38.7" rx="2.2" ry="0.8" fill="#8a6c90" transform="rotate(0 229.3 38.7)"/>
<ellipse cx="243.6" cy="41.3" rx="1.6" ry="0.7" fill="#8a6c90" transform="rotate(39 243.6 41.3)"/>
<ellipse cx="224.3" cy="29.3" rx="1.6" ry="0.9" fill="#5a446e" transform="rotate(35 224.3 29.3)"/>
<ellipse cx="187.9" cy="27.7" rx="2.4" ry="0.7" fill="#a88aa6" transform="rotate(32 187.9 27.7)"/>
<ellipse cx="192.1" cy="45.8" rx="2.5" ry="0.6" fill="#a88aa6" transform="rotate(36 192.1 45.8)"/>
<ellipse cx="186.9" cy="47.7" rx="2.0" ry="0.9" fill="#9a7c9c" transform="rotate(93 186.9 47.7)"/>
<ellipse cx="207.7" cy="33.7" rx="2.5" ry="1.0" fill="#9a7c9c" transform="rotate(3 207.7 33.7)"/>
<ellipse cx="249.4" cy="39.8" rx="2.9" ry="0.6" fill="#5a446e" transform="rotate(101 249.4 39.8)"/>
<ellipse cx="254.9" cy="26.1" rx="2.6" ry="0.8" fill="#9a7c9c" transform="rotate(64 254.9 26.1)"/>
<ellipse cx="251.0" cy="55.0" rx="1.3" ry="0.7" fill="#5a446e" transform="rotate(147 251.0 55.0)"/>
<ellipse cx="246.0" cy="35.0" rx="2.6" ry="0.7" fill="#9a7c9c" transform="rotate(52 246.0 35.0)"/>
<ellipse cx="190.0" cy="47.7" rx="2.1" ry="0.5" fill="#544068" transform="rotate(24 190.0 47.7)"/>
<ellipse cx="200.0" cy="27.7" rx="2.4" ry="0.6" fill="#a88aa6" transform="rotate(45 200.0 27.7)"/>
<ellipse cx="242.5" cy="25.9" rx="1.4" ry="0.8" fill="#5a446e" transform="rotate(47 242.5 25.9)"/>
<ellipse cx="244.0" cy="44.7" rx="2.1" ry="0.6" fill="#8a6c90" transform="rotate(19 244.0 44.7)"/>
<ellipse cx="246.3" cy="47.2" rx="1.3" ry="0.6" fill="#8a6c90" transform="rotate(105 246.3 47.2)"/>
<ellipse cx="238.4" cy="28.4" rx="1.4" ry="0.9" fill="#544068" transform="rotate(107 238.4 28.4)"/>
<ellipse cx="245.7" cy="29.6" rx="2.3" ry="0.9" fill="#5a446e" transform="rotate(171 245.7 29.6)"/>
<ellipse cx="183.4" cy="44.7" rx="2.6" ry="0.8" fill="#544068" transform="rotate(95 183.4 44.7)"/>
<ellipse cx="239.5" cy="35.5" rx="1.7" ry="0.7" fill="#8a6c90" transform="rotate(152 239.5 35.5)"/>
<ellipse cx="223.8" cy="55.6" rx="1.8" ry="0.7" fill="#544068" transform="rotate(10 223.8 55.6)"/>
<ellipse cx="220.3" cy="54.7" rx="3.1" ry="0.6" fill="#8a6c90" transform="rotate(119 220.3 54.7)"/>
<ellipse cx="182.9" cy="28.4" rx="1.6" ry="0.7" fill="#5a446e" transform="rotate(91 182.9 28.4)"/>
<ellipse cx="183.5" cy="29.3" rx="3.1" ry="0.9" fill="#8a6c90" transform="rotate(114 183.5 29.3)"/>
<ellipse cx="241.9" cy="52.4" rx="3.0" ry="0.5" fill="#544068" transform="rotate(48 241.9 52.4)"/>
<ellipse cx="232.2" cy="33.5" rx="2.3" ry="1.0" fill="#544068" transform="rotate(18 232.2 33.5)"/>
<ellipse cx="191.0" cy="25.4" rx="1.7" ry="0.5" fill="#9a7c9c" transform="rotate(55 191.0 25.4)"/>
<ellipse cx="229.9" cy="28.7" rx="2.4" ry="1.0" fill="#544068" transform="rotate(162 229.9 28.7)"/>
<ellipse cx="188.3" cy="43.3" rx="3.1" ry="0.7" fill="#544068" transform="rotate(24 188.3 43.3)"/>
</g>
<path d="M181 47.8 Q196 56.5 210 60.5 Q226 63.5 243 58.6 Q250 56 257 53" fill="none" stroke="#f3ecf0" stroke-width="0.7" stroke-dasharray="1.6 1.3"/>
<rect x="181.90" y="24.00" width="74.80" height="52.00" fill="#000" filter="url(#nz1)" opacity="0.24"/>
<rect x="228.3" y="37.3" width="6.6" height="5.6" fill="none" stroke="#efe8f0" stroke-width="0.6" stroke-dasharray="1.3 1.1"/>
<rect x="183.60" y="32.60" width="12.00" height="8.00" fill="#f4f0f2" opacity="0.92"/>
<text x="189.60" y="39.31" font-size="7.3" text-anchor="middle" fill="#111">EP</text>
<rect x="183.60" y="62.60" width="16.40" height="8.40" fill="#f4f0f2" opacity="0.92"/>
<text x="191.80" y="69.41" font-size="7.3" text-anchor="middle" fill="#111">Skin</text>
<rect x="252.80" y="25.90" width="1.60" height="0.80" fill="#fff"/>
</g>
<g clip-path="url(#ca4)">
<rect x="258.10" y="24.00" width="75.40" height="56.40" fill="#b296c6"/>
<g filter="url(#bl1)">
<ellipse cx="265" cy="34" rx="10" ry="12" fill="#d6acbe"/>
<ellipse cx="262" cy="50" rx="5" ry="8" fill="#b893b8"/>
<ellipse cx="282.8" cy="46.8" rx="4.2" ry="2.5" fill="#c2a8d0"/>
<ellipse cx="314.6" cy="40.1" rx="4.8" ry="3.4" fill="#a084b8"/>
<ellipse cx="308.2" cy="35.3" rx="5.8" ry="2.9" fill="#c8a4c4"/>
<ellipse cx="283.6" cy="50.8" rx="6.3" ry="2.1" fill="#b89cc8"/>
<ellipse cx="277.7" cy="52.7" rx="4.5" ry="3.2" fill="#c2a8d0"/>
<ellipse cx="327.6" cy="33.1" rx="6.8" ry="2.6" fill="#b89cc8"/>
<ellipse cx="296.9" cy="39.9" rx="7.0" ry="2.6" fill="#c2a8d0"/>
<ellipse cx="273.3" cy="27.7" rx="6.5" ry="2.9" fill="#c2a8d0"/>
<ellipse cx="298.7" cy="70.7" rx="4.4" ry="3.5" fill="#c8a4c4"/>
<ellipse cx="278.0" cy="77.7" rx="6.0" ry="2.3" fill="#b89cc8"/>
<ellipse cx="309.4" cy="31.9" rx="3.8" ry="3.2" fill="#b89cc8"/>
<ellipse cx="320.3" cy="53.0" rx="6.0" ry="3.5" fill="#9a7cb2"/>
</g>
<g filter="url(#bl03)">
<ellipse cx="281.1" cy="60.8" rx="2.8" ry="0.45" fill="#efe4f0" transform="rotate(127 281.1 60.8)"/>
<ellipse cx="291.3" cy="33.4" rx="2.3" ry="0.45" fill="#efe4f0" transform="rotate(99 291.3 33.4)"/>
<ellipse cx="270.3" cy="48.7" rx="3.5" ry="0.45" fill="#efe4f0" transform="rotate(27 270.3 48.7)"/>
<ellipse cx="322.3" cy="42.5" rx="2.7" ry="0.45" fill="#efe4f0" transform="rotate(20 322.3 42.5)"/>
<ellipse cx="322.5" cy="64.0" rx="2.1" ry="0.45" fill="#efe4f0" transform="rotate(63 322.5 64.0)"/>
<ellipse cx="287.1" cy="55.4" rx="2.7" ry="0.45" fill="#efe4f0" transform="rotate(117 287.1 55.4)"/>
<ellipse cx="262.5" cy="66.8" rx="3.5" ry="0.45" fill="#efe4f0" transform="rotate(69 262.5 66.8)"/>
<ellipse cx="283.3" cy="55.9" rx="3.1" ry="0.45" fill="#efe4f0" transform="rotate(78 283.3 55.9)"/>
<ellipse cx="288.8" cy="40.1" rx="3.1" ry="0.45" fill="#efe4f0" transform="rotate(59 288.8 40.1)"/>
<ellipse cx="330.8" cy="59.6" rx="2.0" ry="0.45" fill="#efe4f0" transform="rotate(59 330.8 59.6)"/>
<ellipse cx="331.0" cy="74.3" rx="3.4" ry="0.45" fill="#efe4f0" transform="rotate(5 331.0 74.3)"/>
<ellipse cx="280.2" cy="74.6" rx="2.1" ry="0.45" fill="#efe4f0" transform="rotate(97 280.2 74.6)"/>
<ellipse cx="284.2" cy="60.2" rx="2.4" ry="0.45" fill="#efe4f0" transform="rotate(149 284.2 60.2)"/>
<ellipse cx="313.6" cy="50.4" rx="2.4" ry="0.45" fill="#efe4f0" transform="rotate(7 313.6 50.4)"/>
<ellipse cx="275.1" cy="26.2" rx="2.4" ry="2.3" fill="#423268"/>
<ellipse cx="279.2" cy="26.4" rx="2.6" ry="2.4" fill="#423268"/>
<ellipse cx="284.4" cy="24.5" rx="2.7" ry="2.5" fill="#3a2c5e"/>
<ellipse cx="290.4" cy="25.9" rx="2.1" ry="2.0" fill="#3a2c5e"/>
<ellipse cx="296.0" cy="25.3" rx="2.2" ry="2.2" fill="#423268"/>
<ellipse cx="299.5" cy="23.5" rx="2.5" ry="2.3" fill="#544282"/>
<ellipse cx="305.1" cy="23.5" rx="1.9" ry="1.6" fill="#5e4c92"/>
<ellipse cx="312.5" cy="26.2" rx="2.4" ry="2.0" fill="#4a3876"/>
<ellipse cx="315.7" cy="24.0" rx="2.6" ry="2.2" fill="#423268"/>
<ellipse cx="327.4" cy="24.9" rx="2.3" ry="2.2" fill="#423268"/>
<ellipse cx="332.9" cy="23.9" rx="2.1" ry="1.8" fill="#423268"/>
<ellipse cx="271.9" cy="31.8" rx="2.3" ry="2.1" fill="#4a3876"/>
<ellipse cx="276.0" cy="30.7" rx="2.1" ry="1.7" fill="#3a2c5e"/>
<ellipse cx="282.6" cy="31.8" rx="2.3" ry="2.3" fill="#4a3876"/>
<ellipse cx="288.1" cy="30.7" rx="2.3" ry="2.0" fill="#3a2c5e"/>
<ellipse cx="297.0" cy="29.4" rx="2.2" ry="1.8" fill="#544282"/>
<ellipse cx="303.1" cy="29.9" rx="2.7" ry="2.4" fill="#423268"/>
<ellipse cx="308.6" cy="31.6" rx="2.4" ry="2.1" fill="#3a2c5e"/>
<ellipse cx="313.4" cy="29.0" rx="2.5" ry="2.2" fill="#4a3876"/>
<ellipse cx="318.4" cy="29.5" rx="2.4" ry="2.3" fill="#5e4c92"/>
<ellipse cx="325.6" cy="31.3" rx="2.0" ry="1.8" fill="#3a2c5e"/>
<ellipse cx="331.3" cy="29.5" rx="2.8" ry="2.5" fill="#4a3876"/>
<ellipse cx="335.8" cy="31.7" rx="2.8" ry="2.6" fill="#3a2c5e"/>
<ellipse cx="274.6" cy="35.2" rx="2.3" ry="1.9" fill="#4a3876"/>
<ellipse cx="278.9" cy="34.9" rx="2.7" ry="2.2" fill="#544282"/>
<ellipse cx="285.7" cy="34.9" rx="2.5" ry="2.1" fill="#544282"/>
<ellipse cx="295.0" cy="35.5" rx="2.7" ry="2.6" fill="#4a3876"/>
<ellipse cx="300.0" cy="35.4" rx="2.6" ry="2.5" fill="#3a2c5e"/>
<ellipse cx="311.4" cy="37.3" rx="2.3" ry="2.2" fill="#423268"/>
<ellipse cx="315.7" cy="37.0" rx="2.6" ry="2.4" fill="#423268"/>
<ellipse cx="322.4" cy="35.6" rx="2.6" ry="2.2" fill="#423268"/>
<ellipse cx="327.8" cy="37.1" rx="2.4" ry="2.1" fill="#3a2c5e"/>
<ellipse cx="332.0" cy="35.6" rx="2.5" ry="2.2" fill="#423268"/>
<ellipse cx="266.8" cy="42.4" rx="2.7" ry="2.5" fill="#423268"/>
<ellipse cx="272.2" cy="39.8" rx="2.2" ry="2.1" fill="#544282"/>
<ellipse cx="275.8" cy="41.8" rx="2.3" ry="2.2" fill="#4a3876"/>
<ellipse cx="281.2" cy="42.5" rx="2.3" ry="2.3" fill="#5e4c92"/>
<ellipse cx="288.5" cy="41.6" rx="2.3" ry="1.9" fill="#4a3876"/>
<ellipse cx="292.9" cy="42.5" rx="2.0" ry="1.9" fill="#423268"/>
<ellipse cx="299.1" cy="41.4" rx="2.1" ry="1.7" fill="#4a3876"/>
<ellipse cx="302.8" cy="39.9" rx="2.2" ry="2.0" fill="#4a3876"/>
<ellipse cx="307.8" cy="41.8" rx="2.3" ry="2.1" fill="#4a3876"/>
<ellipse cx="318.4" cy="41.6" rx="2.5" ry="2.1" fill="#4a3876"/>
<ellipse cx="324.0" cy="41.6" rx="2.0" ry="1.8" fill="#4a3876"/>
<ellipse cx="329.0" cy="42.6" rx="2.7" ry="2.4" fill="#4a3876"/>
<ellipse cx="258.1" cy="45.7" rx="2.0" ry="1.7" fill="#4a3876"/>
<ellipse cx="270.4" cy="45.6" rx="2.3" ry="2.1" fill="#544282"/>
<ellipse cx="273.2" cy="45.1" rx="2.8" ry="2.7" fill="#423268"/>
<ellipse cx="279.2" cy="47.3" rx="2.1" ry="2.0" fill="#3a2c5e"/>
<ellipse cx="285.8" cy="46.1" rx="2.2" ry="1.9" fill="#544282"/>
<ellipse cx="291.5" cy="47.1" rx="2.1" ry="1.8" fill="#4a3876"/>
<ellipse cx="294.3" cy="46.3" rx="2.0" ry="1.8" fill="#5e4c92"/>
<ellipse cx="302.1" cy="45.6" rx="2.6" ry="2.5" fill="#5e4c92"/>
<ellipse cx="305.3" cy="47.6" rx="2.2" ry="1.9" fill="#5e4c92"/>
<ellipse cx="312.4" cy="45.9" rx="2.0" ry="1.6" fill="#3a2c5e"/>
<ellipse cx="318.0" cy="46.6" rx="2.3" ry="2.0" fill="#544282"/>
<ellipse cx="322.5" cy="45.5" rx="2.1" ry="1.8" fill="#3a2c5e"/>
<ellipse cx="260.2" cy="52.7" rx="1.9" ry="1.8" fill="#5e4c92"/>
<ellipse cx="265.8" cy="52.5" rx="2.4" ry="2.1" fill="#544282"/>
<ellipse cx="281.4" cy="52.7" rx="2.2" ry="1.8" fill="#5e4c92"/>
<ellipse cx="287.8" cy="51.9" rx="2.4" ry="2.2" fill="#3a2c5e"/>
<ellipse cx="294.0" cy="53.1" rx="2.8" ry="2.8" fill="#5e4c92"/>
<ellipse cx="304.1" cy="51.5" rx="2.5" ry="2.3" fill="#3a2c5e"/>
<ellipse cx="308.7" cy="52.4" rx="2.2" ry="1.9" fill="#423268"/>
<ellipse cx="313.3" cy="52.7" rx="2.5" ry="2.1" fill="#5e4c92"/>
<ellipse cx="319.6" cy="51.7" rx="2.4" ry="2.2" fill="#3a2c5e"/>
<ellipse cx="323.9" cy="53.4" rx="2.1" ry="2.0" fill="#4a3876"/>
<ellipse cx="329.3" cy="50.8" rx="2.4" ry="2.1" fill="#3a2c5e"/>
<ellipse cx="335.2" cy="52.1" rx="2.5" ry="2.4" fill="#5e4c92"/>
<ellipse cx="259.5" cy="57.9" rx="2.6" ry="2.2" fill="#5e4c92"/>
<ellipse cx="264.4" cy="58.2" rx="2.0" ry="2.0" fill="#5e4c92"/>
<ellipse cx="274.1" cy="56.4" rx="2.8" ry="2.5" fill="#423268"/>
<ellipse cx="280.5" cy="56.1" rx="2.1" ry="1.9" fill="#423268"/>
<ellipse cx="286.3" cy="57.3" rx="2.0" ry="1.7" fill="#423268"/>
<ellipse cx="291.3" cy="57.6" rx="2.7" ry="2.7" fill="#4a3876"/>
<ellipse cx="296.6" cy="58.3" rx="2.6" ry="2.1" fill="#544282"/>
<ellipse cx="306.9" cy="58.7" rx="2.5" ry="2.1" fill="#5e4c92"/>
<ellipse cx="311.1" cy="56.9" rx="2.4" ry="2.0" fill="#4a3876"/>
<ellipse cx="315.9" cy="57.2" rx="2.7" ry="2.5" fill="#423268"/>
<ellipse cx="322.1" cy="56.1" rx="2.1" ry="1.8" fill="#544282"/>
<ellipse cx="327.9" cy="58.4" rx="2.4" ry="2.1" fill="#544282"/>
<ellipse cx="331.3" cy="56.9" rx="2.0" ry="1.9" fill="#423268"/>
<ellipse cx="259.8" cy="61.8" rx="2.6" ry="2.5" fill="#3a2c5e"/>
<ellipse cx="267.7" cy="63.4" rx="2.3" ry="2.0" fill="#5e4c92"/>
<ellipse cx="271.3" cy="62.9" rx="2.2" ry="1.8" fill="#5e4c92"/>
<ellipse cx="281.9" cy="62.7" rx="2.4" ry="2.2" fill="#544282"/>
<ellipse cx="287.1" cy="62.8" rx="2.1" ry="1.8" fill="#5e4c92"/>
<ellipse cx="298.7" cy="62.1" rx="2.1" ry="2.0" fill="#544282"/>
<ellipse cx="303.7" cy="63.1" rx="2.0" ry="1.9" fill="#5e4c92"/>
<ellipse cx="307.7" cy="61.9" rx="2.3" ry="2.1" fill="#423268"/>
<ellipse cx="313.5" cy="63.7" rx="2.7" ry="2.7" fill="#423268"/>
<ellipse cx="320.1" cy="63.5" rx="2.4" ry="2.2" fill="#544282"/>
<ellipse cx="325.3" cy="62.3" rx="2.5" ry="2.4" fill="#3a2c5e"/>
<ellipse cx="331.1" cy="63.7" rx="2.8" ry="2.4" fill="#4a3876"/>
<ellipse cx="258.4" cy="68.0" rx="2.4" ry="2.1" fill="#4a3876"/>
<ellipse cx="262.8" cy="68.9" rx="2.1" ry="2.0" fill="#544282"/>
<ellipse cx="275.6" cy="68.5" rx="2.2" ry="1.9" fill="#3a2c5e"/>
<ellipse cx="280.5" cy="68.0" rx="2.7" ry="2.2" fill="#3a2c5e"/>
<ellipse cx="284.1" cy="69.4" rx="2.4" ry="2.3" fill="#544282"/>
<ellipse cx="289.0" cy="66.8" rx="2.3" ry="2.3" fill="#544282"/>
<ellipse cx="296.0" cy="67.3" rx="2.6" ry="2.5" fill="#5e4c92"/>
<ellipse cx="311.7" cy="68.9" rx="1.9" ry="1.7" fill="#423268"/>
<ellipse cx="318.0" cy="67.3" rx="2.2" ry="2.1" fill="#3a2c5e"/>
<ellipse cx="322.6" cy="67.7" rx="2.0" ry="1.7" fill="#423268"/>
<ellipse cx="333.5" cy="69.7" rx="2.3" ry="2.2" fill="#423268"/>
<ellipse cx="266.8" cy="73.0" rx="2.3" ry="2.2" fill="#544282"/>
<ellipse cx="270.4" cy="72.7" rx="2.4" ry="2.3" fill="#544282"/>
<ellipse cx="276.8" cy="73.7" rx="2.4" ry="2.2" fill="#5e4c92"/>
<ellipse cx="281.5" cy="74.0" rx="2.6" ry="2.4" fill="#423268"/>
<ellipse cx="287.1" cy="74.4" rx="2.8" ry="2.5" fill="#544282"/>
<ellipse cx="293.0" cy="72.9" rx="2.1" ry="2.0" fill="#423268"/>
<ellipse cx="299.0" cy="73.2" rx="2.8" ry="2.4" fill="#423268"/>
<ellipse cx="303.8" cy="72.5" rx="2.4" ry="2.0" fill="#4a3876"/>
<ellipse cx="309.1" cy="74.3" rx="2.7" ry="2.6" fill="#4a3876"/>
<ellipse cx="313.7" cy="74.2" rx="2.3" ry="2.2" fill="#4a3876"/>
<ellipse cx="319.0" cy="74.5" rx="2.3" ry="2.0" fill="#423268"/>
<ellipse cx="328.8" cy="74.0" rx="2.3" ry="2.2" fill="#423268"/>
<ellipse cx="335.0" cy="74.8" rx="2.2" ry="2.1" fill="#4a3876"/>
<ellipse cx="268.4" cy="78.6" rx="2.2" ry="2.0" fill="#544282"/>
<ellipse cx="275.8" cy="78.1" rx="2.4" ry="2.0" fill="#544282"/>
<ellipse cx="278.7" cy="78.4" rx="2.0" ry="1.6" fill="#4a3876"/>
<ellipse cx="285.5" cy="79.3" rx="2.3" ry="2.1" fill="#4a3876"/>
<ellipse cx="291.0" cy="77.6" rx="2.6" ry="2.3" fill="#3a2c5e"/>
<ellipse cx="297.0" cy="78.4" rx="1.9" ry="1.6" fill="#423268"/>
<ellipse cx="300.3" cy="79.0" rx="2.2" ry="2.1" fill="#3a2c5e"/>
<ellipse cx="305.1" cy="78.5" rx="2.7" ry="2.6" fill="#544282"/>
<ellipse cx="310.2" cy="78.2" rx="2.6" ry="2.5" fill="#423268"/>
<ellipse cx="317.1" cy="79.2" rx="2.5" ry="2.4" fill="#423268"/>
<ellipse cx="321.6" cy="80.1" rx="2.0" ry="1.8" fill="#4a3876"/>
<ellipse cx="326.0" cy="78.2" rx="2.4" ry="2.2" fill="#5e4c92"/>
<ellipse cx="331.6" cy="78.6" rx="2.3" ry="2.3" fill="#544282"/>
</g>
<rect x="318.30" y="26.40" width="12.80" height="0.90" fill="#fff"/>
</g>
<rect x="40.25" y="121.30" width="7.92" height="14.50" fill="#27497f"/>
<rect x="40.25" y="121.30" width="7.92" height="1.30" fill="#e3981c"/>
<rect x="40.25" y="134.10" width="7.92" height="0.70" fill="#5d9a55"/>
<rect x="40.25" y="134.80" width="7.92" height="1.00" fill="#cf2a5e"/>
<rect x="49.22" y="123.00" width="7.92" height="12.80" fill="#27497f"/>
<rect x="49.22" y="123.00" width="7.92" height="1.30" fill="#e3981c"/>
<rect x="49.22" y="134.10" width="7.92" height="0.70" fill="#5d9a55"/>
<rect x="49.22" y="134.80" width="7.92" height="1.00" fill="#d9a066"/>
<rect x="58.19" y="111.90" width="7.92" height="23.90" fill="#27497f"/>
<rect x="58.19" y="111.90" width="7.92" height="1.50" fill="#e3981c"/>
<rect x="58.19" y="134.10" width="7.92" height="0.70" fill="#5d9a55"/>
<rect x="58.19" y="134.80" width="7.92" height="1.00" fill="#cf2a5e"/>
<rect x="67.16" y="124.40" width="7.92" height="11.40" fill="#27497f"/>
<rect x="67.16" y="124.40" width="7.92" height="0.50" fill="#7a6a50"/>
<rect x="67.16" y="134.10" width="7.92" height="0.70" fill="#5d9a55"/>
<rect x="67.16" y="134.80" width="7.92" height="1.00" fill="#cf2a5e"/>
<rect x="76.13" y="127.80" width="7.92" height="8.00" fill="#27497f"/>
<rect x="76.13" y="134.10" width="7.92" height="0.70" fill="#5d9a55"/>
<rect x="76.13" y="134.80" width="7.92" height="1.00" fill="#d9a066"/>
<rect x="85.10" y="104.70" width="7.92" height="31.10" fill="#27497f"/>
<rect x="85.10" y="104.70" width="7.92" height="1.60" fill="#e3981c"/>
<rect x="85.10" y="134.10" width="7.92" height="0.70" fill="#5d9a55"/>
<rect x="85.10" y="134.80" width="7.92" height="1.00" fill="#cf2a5e"/>
<rect x="94.07" y="113.90" width="7.92" height="21.90" fill="#27497f"/>
<rect x="94.07" y="113.90" width="7.92" height="1.20" fill="#e3981c"/>
<rect x="94.07" y="134.10" width="7.92" height="0.70" fill="#5d9a55"/>
<rect x="94.07" y="134.80" width="7.92" height="1.00" fill="#cf2a5e"/>
<rect x="103.04" y="124.70" width="7.92" height="11.10" fill="#27497f"/>
<rect x="103.04" y="124.70" width="7.92" height="0.40" fill="#7a6a50"/>
<rect x="103.04" y="134.10" width="7.92" height="0.70" fill="#5d9a55"/>
<rect x="103.04" y="134.80" width="7.92" height="1.00" fill="#cf2a5e"/>
<rect x="112.01" y="104.70" width="7.92" height="31.10" fill="#27497f"/>
<rect x="112.01" y="104.70" width="7.92" height="1.50" fill="#e3981c"/>
<rect x="112.01" y="134.10" width="7.92" height="0.70" fill="#5d9a55"/>
<rect x="112.01" y="134.80" width="7.92" height="1.00" fill="#cf2a5e"/>
<rect x="120.98" y="119.60" width="7.92" height="16.20" fill="#27497f"/>
<rect x="120.98" y="119.60" width="7.92" height="1.20" fill="#e3981c"/>
<rect x="120.98" y="134.10" width="7.92" height="0.70" fill="#5d9a55"/>
<rect x="120.98" y="134.80" width="7.92" height="1.00" fill="#cf2a5e"/>
<rect x="129.95" y="124.90" width="7.92" height="10.90" fill="#27497f"/>
<rect x="129.95" y="124.90" width="7.92" height="0.40" fill="#7a6a50"/>
<rect x="129.95" y="134.10" width="7.92" height="0.70" fill="#5d9a55"/>
<rect x="129.95" y="134.80" width="7.92" height="1.00" fill="#cf2a5e"/>
<line x1="37.30" y1="104.50" x2="37.30" y2="135.80" stroke="#111" stroke-width="0.8"/>
<line x1="35.40" y1="104.50" x2="37.30" y2="104.50" stroke="#111" stroke-width="0.7"/>
<line x1="35.40" y1="135.80" x2="37.30" y2="135.80" stroke="#111" stroke-width="0.7"/>
<text x="31.40" y="106.33" font-size="4.0" text-anchor="end" fill="#111">126</text>
<text x="31.40" y="137.03" font-size="4.0" text-anchor="end" fill="#111">0</text>
<rect x="39.80" y="138.00" width="98.67" height="118.08" fill="#fff"/>
<path d="M39.80 138.00V256.08M48.77 138.00V256.08M57.74 138.00V256.08M66.71 138.00V256.08M75.68 138.00V256.08M84.65 138.00V256.08M93.62 138.00V256.08M102.59 138.00V256.08M111.56 138.00V256.08M120.53 138.00V256.08M129.50 138.00V256.08M138.47 138.00V256.08M39.80 138.00H138.47M39.80 144.22H138.47M39.80 150.43H138.47M39.80 156.65H138.47M39.80 162.86H138.47M39.80 169.07H138.47M39.80 175.29H138.47M39.80 181.50H138.47M39.80 187.72H138.47M39.80 193.94H138.47M39.80 200.15H138.47M39.80 206.37H138.47M39.80 212.58H138.47M39.80 218.80H138.47M39.80 225.01H138.47M39.80 231.22H138.47M39.80 237.44H138.47M39.80 243.66H138.47M39.80 249.87H138.47M39.80 256.08H138.47" stroke="#c4c4c4" stroke-width="0.55" fill="none"/>
<rect x="39.97" y="138.17" width="8.63" height="5.88" fill="#27497f"/>
<rect x="48.94" y="138.17" width="8.63" height="5.88" fill="#27497f"/>
<rect x="57.91" y="138.17" width="8.63" height="5.88" fill="#27497f"/>
<rect x="66.88" y="138.17" width="8.63" height="5.88" fill="#27497f"/>
<rect x="39.97" y="144.38" width="8.63" height="5.88" fill="#b4651e"/>
<rect x="48.94" y="144.38" width="8.63" height="5.88" fill="#b4c88a"/>
<rect x="75.85" y="144.38" width="8.63" height="5.88" fill="#b4651e"/>
<rect x="75.85" y="150.60" width="8.63" height="5.88" fill="#27497f"/>
<rect x="84.82" y="150.60" width="8.63" height="5.88" fill="#27497f"/>
<rect x="93.79" y="156.81" width="8.63" height="5.88" fill="#27497f"/>
<rect x="102.76" y="156.81" width="8.63" height="5.88" fill="#b5122e"/>
<rect x="57.91" y="163.03" width="8.63" height="5.88" fill="#27497f"/>
<rect x="84.82" y="163.03" width="8.63" height="5.88" fill="#27497f"/>
<rect x="84.82" y="169.24" width="8.63" height="5.88" fill="#27497f"/>
<rect x="93.79" y="169.24" width="8.63" height="5.88" fill="#27497f"/>
<rect x="84.82" y="175.46" width="8.63" height="5.88" fill="#27497f"/>
<rect x="111.73" y="181.67" width="8.63" height="5.88" fill="#27497f"/>
<rect x="57.91" y="187.89" width="8.63" height="5.88" fill="#b4651e"/>
<rect x="57.91" y="194.10" width="8.63" height="5.88" fill="#b4651e"/>
<rect x="111.73" y="200.32" width="8.63" height="5.88" fill="#27497f"/>
<rect x="39.97" y="206.53" width="8.63" height="5.88" fill="#27497f"/>
<rect x="57.91" y="212.75" width="8.63" height="5.88" fill="#27497f"/>
<rect x="120.70" y="218.97" width="8.63" height="5.88" fill="#68ac3a"/>
<rect x="84.82" y="225.18" width="8.63" height="5.88" fill="#b5122e"/>
<rect x="111.73" y="231.39" width="8.63" height="5.88" fill="#27497f"/>
<rect x="57.91" y="237.61" width="8.63" height="5.88" fill="#e3981c"/>
<rect x="57.91" y="243.82" width="8.63" height="5.88" fill="#27497f"/>
<rect x="93.79" y="250.04" width="8.63" height="5.88" fill="#27497f"/>
<text x="36.90" y="143.10" font-size="5.3" text-anchor="end" fill="#1a1a1a" font-style="italic">KRAS</text>
<text x="36.90" y="149.32" font-size="5.3" text-anchor="end" fill="#1a1a1a" font-style="italic">TRAF3</text>
<text x="36.90" y="155.53" font-size="5.3" text-anchor="end" fill="#1a1a1a" font-style="italic">BRAF</text>
<text x="36.90" y="161.75" font-size="5.3" text-anchor="end" fill="#1a1a1a" font-style="italic">NFKBIA</text>
<text x="36.90" y="167.96" font-size="5.3" text-anchor="end" fill="#1a1a1a" font-style="italic">TET2</text>
<text x="36.90" y="174.18" font-size="5.3" text-anchor="end" fill="#1a1a1a" font-style="italic">TP53</text>
<text x="36.90" y="180.39" font-size="5.3" text-anchor="end" fill="#1a1a1a" font-style="italic">ARID1A</text>
<text x="36.90" y="186.61" font-size="5.3" text-anchor="end" fill="#1a1a1a" font-style="italic">ATM</text>
<text x="36.90" y="192.82" font-size="5.3" text-anchor="end" fill="#1a1a1a" font-style="italic">CREBBP</text>
<text x="36.90" y="199.04" font-size="5.3" text-anchor="end" fill="#1a1a1a" font-style="italic">DIS3</text>
<text x="36.90" y="205.25" font-size="5.3" text-anchor="end" fill="#1a1a1a" font-style="italic">FAM46C</text>
<text x="36.90" y="211.47" font-size="5.3" text-anchor="end" fill="#1a1a1a" font-style="italic">HIST1H1E</text>
<text x="36.90" y="217.68" font-size="5.3" text-anchor="end" fill="#1a1a1a" font-style="italic">KMT2C</text>
<text x="36.90" y="223.90" font-size="5.3" text-anchor="end" fill="#1a1a1a" font-style="italic">MAML2</text>
<text x="36.90" y="230.11" font-size="5.3" text-anchor="end" fill="#1a1a1a" font-style="italic">MAX</text>
<text x="36.90" y="236.33" font-size="5.3" text-anchor="end" fill="#1a1a1a" font-style="italic">NRAS</text>
<text x="36.90" y="242.54" font-size="5.3" text-anchor="end" fill="#1a1a1a" font-style="italic">PRDM1</text>
<text x="36.90" y="248.76" font-size="5.3" text-anchor="end" fill="#1a1a1a" font-style="italic">RB1</text>
<text x="36.90" y="254.97" font-size="5.3" text-anchor="end" fill="#1a1a1a" font-style="italic">UBR5</text>
<text x="44.48" y="258.4" font-size="4.3" text-anchor="end" fill="#333" transform="rotate(-90 44.48 258.4)" dy="1.5">EP7</text>
<text x="53.45" y="258.4" font-size="4.3" text-anchor="end" fill="#333" transform="rotate(-90 53.45 258.4)" dy="1.5">EP2</text>
<text x="62.42" y="258.4" font-size="4.3" text-anchor="end" fill="#333" transform="rotate(-90 62.42 258.4)" dy="1.5">EP8</text>
<text x="71.39" y="258.4" font-size="4.3" text-anchor="end" fill="#333" transform="rotate(-90 71.39 258.4)" dy="1.5">EP6</text>
<text x="80.36" y="258.4" font-size="4.3" text-anchor="end" fill="#333" transform="rotate(-90 80.36 258.4)" dy="1.5">EP1</text>
<text x="89.33" y="258.4" font-size="4.3" text-anchor="end" fill="#333" transform="rotate(-90 89.33 258.4)" dy="1.5">EP4</text>
<text x="98.31" y="258.4" font-size="4.3" text-anchor="end" fill="#333" transform="rotate(-90 98.31 258.4)" dy="1.5">EP5</text>
<text x="107.28" y="258.4" font-size="4.3" text-anchor="end" fill="#333" transform="rotate(-90 107.28 258.4)" dy="1.5">EP9</text>
<text x="116.25" y="258.4" font-size="4.3" text-anchor="end" fill="#333" transform="rotate(-90 116.25 258.4)" dy="1.5">EP11</text>
<text x="125.22" y="258.4" font-size="4.3" text-anchor="end" fill="#333" transform="rotate(-90 125.22 258.4)" dy="1.5">EP3</text>
<text x="134.19" y="258.4" font-size="4.3" text-anchor="end" fill="#333" transform="rotate(-90 134.19 258.4)" dy="1.5">EP10</text>
<rect x="155.89" y="138.56" width="67.46" height="5.40" fill="#27497f"/>
<text x="150.59" y="142.76" font-size="4.2" text-anchor="end" fill="#222">36%</text>
<rect x="223.30" y="138.56" width="38.96" height="5.40" fill="#27497f"/>
<text x="266.43" y="142.76" font-size="4.2" fill="#222">21%</text>
<text x="277.90" y="142.92" font-size="5.2" fill="#000" font-style="italic">KRAS</text>
<text x="331.90" y="143.01" font-size="4.9" text-anchor="end" fill="#959595" font-style="italic">RTK-RAS</text>
<rect x="206.45" y="144.77" width="16.90" height="5.40" fill="#b4c88a"/>
<rect x="172.74" y="144.77" width="33.76" height="5.40" fill="#e3981c"/>
<text x="169.04" y="148.98" font-size="4.2" text-anchor="end" fill="#222">27%</text>
<rect x="223.30" y="144.77" width="1.51" height="5.40" fill="#b5122e"/>
<rect x="225.06" y="144.77" width="3.37" height="5.40" fill="#27497f"/>
<rect x="228.68" y="144.77" width="1.33" height="5.40" fill="#6fb2e6"/>
<rect x="230.62" y="144.77" width="1.88" height="5.40" fill="#e3981c"/>
<text x="236.08" y="148.98" font-size="4.2" fill="#222">5%</text>
<text x="277.90" y="149.13" font-size="5.2" fill="#000" font-style="italic">TRAF3</text>
<rect x="189.59" y="150.99" width="33.76" height="5.40" fill="#27497f"/>
<text x="185.89" y="155.19" font-size="4.2" text-anchor="end" fill="#222">18%</text>
<rect x="223.30" y="150.99" width="14.86" height="5.40" fill="#27497f"/>
<text x="241.73" y="155.19" font-size="4.2" fill="#222">8%</text>
<text x="277.90" y="155.35" font-size="5.2" fill="#000" font-style="italic">BRAF</text>
<text x="331.90" y="155.44" font-size="4.9" text-anchor="end" fill="#959595" font-style="italic">RTK-RAS</text>
<rect x="206.45" y="157.20" width="16.90" height="5.40" fill="#b5122e"/>
<rect x="189.59" y="157.20" width="16.90" height="5.40" fill="#27497f"/>
<text x="185.89" y="161.41" font-size="4.2" text-anchor="end" fill="#222">18%</text>
<rect x="223.30" y="157.20" width="0.96" height="5.40" fill="#b4c88a"/>
<rect x="224.23" y="157.20" width="1.14" height="5.40" fill="#e3981c"/>
<text x="228.94" y="161.41" font-size="4.2" fill="#222">1%</text>
<text x="277.90" y="161.56" font-size="5.2" fill="#000" font-style="italic">NFKBIA</text>
<rect x="189.59" y="163.42" width="33.76" height="5.40" fill="#27497f"/>
<text x="185.89" y="167.62" font-size="4.2" text-anchor="end" fill="#222">18%</text>
<rect x="223.30" y="163.42" width="0.40" height="5.40" fill="#b5122e"/>
<rect x="223.67" y="163.42" width="2.44" height="5.40" fill="#27497f"/>
<rect x="226.08" y="163.42" width="1.51" height="5.40" fill="#e3981c"/>
<text x="231.16" y="167.62" font-size="4.2" fill="#222">2%</text>
<text x="277.90" y="167.78" font-size="5.2" fill="#000" font-style="italic">TET2</text>
<rect x="189.59" y="169.63" width="33.76" height="5.40" fill="#27497f"/>
<text x="185.89" y="173.84" font-size="4.2" text-anchor="end" fill="#222">18%</text>
<rect x="223.30" y="169.63" width="1.14" height="5.40" fill="#b5122e"/>
<rect x="224.41" y="169.63" width="9.30" height="5.40" fill="#27497f"/>
<text x="237.28" y="173.84" font-size="4.2" fill="#222">6%</text>
<text x="277.90" y="173.99" font-size="5.2" fill="#000" font-style="italic">TP53</text>
<text x="331.90" y="174.09" font-size="4.9" text-anchor="end" fill="#959595" font-style="italic">TP53</text>
<rect x="206.45" y="175.85" width="16.90" height="5.40" fill="#27497f"/>
<text x="202.75" y="180.05" font-size="4.2" text-anchor="end" fill="#222">9%</text>
<rect x="223.30" y="175.85" width="0.40" height="5.40" fill="#b5122e"/>
<rect x="223.67" y="175.85" width="5.59" height="5.40" fill="#27497f"/>
<rect x="229.23" y="175.85" width="1.51" height="5.40" fill="#6fb2e6"/>
<text x="234.32" y="180.05" font-size="4.2" fill="#222">4%</text>
<text x="277.90" y="180.21" font-size="5.2" fill="#000" font-style="italic">ARID1A</text>
<rect x="206.45" y="182.06" width="16.90" height="5.40" fill="#27497f"/>
<text x="202.75" y="186.27" font-size="4.2" text-anchor="end" fill="#222">9%</text>
<rect x="223.30" y="182.06" width="0.59" height="5.40" fill="#b5122e"/>
<rect x="223.86" y="182.06" width="0.96" height="5.40" fill="#b4c88a"/>
<rect x="225.34" y="182.06" width="1.70" height="5.40" fill="#27497f"/>
<text x="230.61" y="186.27" font-size="4.2" fill="#222">2%</text>
<text x="277.90" y="186.42" font-size="5.2" fill="#000" font-style="italic">ATM</text>
<text x="331.90" y="186.52" font-size="4.9" text-anchor="end" fill="#959595" font-style="italic">TP53</text>
<rect x="206.45" y="188.28" width="16.90" height="5.40" fill="#e3981c"/>
<text x="202.75" y="192.48" font-size="4.2" text-anchor="end" fill="#222">9%</text>
<rect x="223.30" y="188.28" width="0.59" height="5.40" fill="#b5122e"/>
<rect x="223.86" y="188.28" width="0.96" height="5.40" fill="#b4c88a"/>
<rect x="225.34" y="188.28" width="2.63" height="5.40" fill="#27497f"/>
<rect x="227.93" y="188.28" width="0.96" height="5.40" fill="#e3981c"/>
<text x="232.46" y="192.48" font-size="4.2" fill="#222">3%</text>
<text x="277.90" y="192.64" font-size="5.2" fill="#000" font-style="italic">CREBBP</text>
<text x="331.90" y="192.73" font-size="4.9" text-anchor="end" fill="#959595" font-style="italic">NOTCH</text>
<rect x="206.45" y="194.49" width="16.90" height="5.40" fill="#e3981c"/>
<text x="202.75" y="198.70" font-size="4.2" text-anchor="end" fill="#222">9%</text>
<rect x="223.30" y="194.49" width="16.72" height="5.40" fill="#27497f"/>
<text x="243.59" y="198.70" font-size="4.2" fill="#222">9%</text>
<text x="277.90" y="198.85" font-size="5.2" fill="#000" font-style="italic">DIS3</text>
<rect x="206.45" y="200.71" width="16.90" height="5.40" fill="#27497f"/>
<text x="202.75" y="204.91" font-size="4.2" text-anchor="end" fill="#222">9%</text>
<rect x="223.30" y="200.71" width="3.74" height="5.40" fill="#b5122e"/>
<rect x="227.01" y="200.71" width="3.55" height="5.40" fill="#c4247c"/>
<rect x="230.53" y="200.71" width="7.45" height="5.40" fill="#27497f"/>
<rect x="237.95" y="200.71" width="2.07" height="5.40" fill="#6fb2e6"/>
<rect x="239.99" y="200.71" width="1.70" height="5.40" fill="#e3981c"/>
<text x="245.25" y="204.91" font-size="4.2" fill="#222">10%</text>
<text x="277.90" y="205.07" font-size="5.2" fill="#000" font-style="italic">FAM46C</text>
<rect x="206.45" y="206.92" width="16.90" height="5.40" fill="#27497f"/>
<text x="202.75" y="211.13" font-size="4.2" text-anchor="end" fill="#222">9%</text>
<rect x="223.30" y="206.92" width="7.26" height="5.40" fill="#27497f"/>
<text x="234.13" y="211.13" font-size="4.2" fill="#222">4%</text>
<text x="277.90" y="211.28" font-size="5.2" fill="#000" font-style="italic">HIST1H1E</text>
<rect x="206.45" y="213.14" width="16.90" height="5.40" fill="#27497f"/>
<text x="202.75" y="217.34" font-size="4.2" text-anchor="end" fill="#222">9%</text>
<rect x="223.30" y="213.14" width="0.59" height="5.40" fill="#b5122e"/>
<rect x="223.86" y="213.14" width="4.11" height="5.40" fill="#27497f"/>
<rect x="227.94" y="213.14" width="1.51" height="5.40" fill="#e3981c"/>
<text x="233.02" y="217.34" font-size="4.2" fill="#222">3%</text>
<text x="277.90" y="217.50" font-size="5.2" fill="#000" font-style="italic">KMT2C</text>
<rect x="206.45" y="219.35" width="16.90" height="5.40" fill="#68ac3a"/>
<text x="202.75" y="223.56" font-size="4.2" text-anchor="end" fill="#222">9%</text>
<rect x="223.30" y="219.35" width="1.14" height="5.40" fill="#b4c88a"/>
<rect x="224.41" y="219.35" width="1.14" height="5.40" fill="#e3981c"/>
<text x="229.12" y="223.56" font-size="4.2" fill="#222">1%</text>
<text x="277.90" y="223.71" font-size="5.2" fill="#000" font-style="italic">MAML2</text>
<text x="331.90" y="223.81" font-size="4.9" text-anchor="end" fill="#959595" font-style="italic">NOTCH</text>
<rect x="206.45" y="225.57" width="16.90" height="5.40" fill="#b5122e"/>
<text x="202.75" y="229.77" font-size="4.2" text-anchor="end" fill="#222">9%</text>
<rect x="223.30" y="225.57" width="0.40" height="5.40" fill="#b5122e"/>
<rect x="223.67" y="225.57" width="3.18" height="5.40" fill="#27497f"/>
<rect x="226.82" y="225.57" width="1.33" height="5.40" fill="#e3981c"/>
<text x="231.72" y="229.77" font-size="4.2" fill="#222">2%</text>
<text x="277.90" y="229.93" font-size="5.2" fill="#000" font-style="italic">MAX</text>
<rect x="206.45" y="231.78" width="16.90" height="5.40" fill="#27497f"/>
<text x="202.75" y="235.99" font-size="4.2" text-anchor="end" fill="#222">9%</text>
<rect x="223.30" y="231.78" width="30.44" height="5.40" fill="#27497f"/>
<text x="257.31" y="235.99" font-size="4.2" fill="#222">16%</text>
<text x="277.90" y="236.14" font-size="5.2" fill="#000" font-style="italic">NRAS</text>
<text x="331.90" y="236.24" font-size="4.9" text-anchor="end" fill="#959595" font-style="italic">RTK-RAS</text>
<rect x="206.45" y="238.00" width="16.90" height="5.40" fill="#b4651e"/>
<text x="202.75" y="242.20" font-size="4.2" text-anchor="end" fill="#222">9%</text>
<rect x="223.30" y="238.00" width="0.40" height="5.40" fill="#b5122e"/>
<rect x="223.67" y="238.00" width="2.63" height="5.40" fill="#27497f"/>
<rect x="226.27" y="238.00" width="0.77" height="5.40" fill="#e3981c"/>
<text x="230.61" y="242.20" font-size="4.2" fill="#222">2%</text>
<text x="277.90" y="242.36" font-size="5.2" fill="#000" font-style="italic">PRDM1</text>
<rect x="206.45" y="244.21" width="16.90" height="5.40" fill="#27497f"/>
<text x="202.75" y="248.42" font-size="4.2" text-anchor="end" fill="#222">9%</text>
<rect x="223.30" y="244.21" width="0.59" height="5.40" fill="#b5122e"/>
<rect x="223.86" y="244.21" width="0.77" height="5.40" fill="#27497f"/>
<rect x="224.60" y="244.21" width="1.33" height="5.40" fill="#e3981c"/>
<text x="229.50" y="248.42" font-size="4.2" fill="#222">1%</text>
<text x="277.90" y="248.57" font-size="5.2" fill="#000" font-style="italic">RB1</text>
<rect x="206.45" y="250.43" width="16.90" height="5.40" fill="#27497f"/>
<text x="202.75" y="254.63" font-size="4.2" text-anchor="end" fill="#222">9%</text>
<rect x="223.30" y="250.43" width="0.59" height="5.40" fill="#b5122e"/>
<rect x="223.86" y="250.43" width="3.18" height="5.40" fill="#27497f"/>
<rect x="227.01" y="250.43" width="1.33" height="5.40" fill="#e3981c"/>
<text x="231.91" y="254.63" font-size="4.2" fill="#222">3%</text>
<text x="277.90" y="254.79" font-size="5.2" fill="#000" font-style="italic">UBR5</text>
<line x1="223.30" y1="138.30" x2="223.30" y2="255.88" stroke="#8090b0" stroke-width="0.35" opacity="0.75"/>
<text x="331.90" y="136.45" font-size="4.9" text-anchor="end" fill="#959595">Pathway:</text>
<text x="154.60" y="132.16" font-size="5.2" fill="#222" textLength="25.40" lengthAdjust="spacingAndGlyphs">EP [N=11]</text>
<text x="261.20" y="132.16" font-size="5.2" fill="#222" textLength="31.40" lengthAdjust="spacingAndGlyphs">MM [N=853]</text>
<line x1="146.50" y1="260.20" x2="300.40" y2="260.20" stroke="#111" stroke-width="0.8"/>
<line x1="149.14" y1="260.20" x2="149.14" y2="262.80" stroke="#111" stroke-width="0.7"/>
<text x="149.14" y="272.90" font-size="5.3" text-anchor="middle" fill="#222">40%</text>
<line x1="186.22" y1="260.20" x2="186.22" y2="262.80" stroke="#111" stroke-width="0.7"/>
<text x="186.22" y="272.90" font-size="5.3" text-anchor="middle" fill="#222">20%</text>
<line x1="223.30" y1="260.20" x2="223.30" y2="262.80" stroke="#111" stroke-width="0.7"/>
<text x="223.30" y="272.90" font-size="5.3" text-anchor="middle" fill="#222">0%</text>
<line x1="260.38" y1="260.20" x2="260.38" y2="262.80" stroke="#111" stroke-width="0.7"/>
<text x="260.38" y="272.90" font-size="5.3" text-anchor="middle" fill="#222">20%</text>
<line x1="297.46" y1="260.20" x2="297.46" y2="262.80" stroke="#111" stroke-width="0.7"/>
<text x="297.46" y="272.90" font-size="5.3" text-anchor="middle" fill="#222">40%</text>
<text x="223.30" y="285.23" font-size="6.8" text-anchor="middle" fill="#222" textLength="42.00" lengthAdjust="spacingAndGlyphs">Percent of cases</text>
<rect x="83.00" y="293.10" width="2.40" height="2.40" fill="#b4651e"/>
<text x="89.70" y="295.80" font-size="4.2" fill="#111">Nonsense_Mutation</text>
<rect x="83.00" y="302.50" width="2.40" height="2.40" fill="#27497f"/>
<text x="89.70" y="305.20" font-size="4.2" fill="#111">Missense_Mutation</text>
<rect x="145.80" y="293.10" width="2.40" height="2.40" fill="#b4c88a"/>
<text x="152.50" y="295.80" font-size="4.2" fill="#111">In_Frame_Del</text>
<rect x="145.80" y="302.50" width="2.40" height="2.40" fill="#68ac3a"/>
<text x="152.50" y="305.20" font-size="4.2" fill="#111">In_Frame_Ins</text>
<rect x="195.70" y="293.10" width="2.40" height="2.40" fill="#b5122e"/>
<text x="202.40" y="295.80" font-size="4.2" fill="#111">Frame_Shift_Del</text>
<rect x="195.70" y="302.50" width="2.40" height="2.40" fill="#e3981c"/>
<text x="202.40" y="305.20" font-size="4.2" fill="#111">Splice_Site</text>
<rect x="251.10" y="293.10" width="2.40" height="2.40" fill="#6fb2e6"/>
<text x="257.80" y="295.80" font-size="4.2" fill="#111">Multi_Hit</text>
<rect x="251.10" y="302.50" width="2.40" height="2.40" fill="#c4247c"/>
<text x="257.80" y="305.20" font-size="4.2" fill="#111">Frame_Shift_Ins</text>
<path d="M39.00 333.20H40.60V349.10H39.00" fill="none" stroke="#222" stroke-width="0.6"/>
<text x="37.20" y="335.51" font-size="4.5" text-anchor="end" fill="#222">5</text>
<text x="37.20" y="350.11" font-size="4.5" text-anchor="end" fill="#222">1</text>
<path d="M39.00 360.60H40.60V379.40H39.00" fill="none" stroke="#222" stroke-width="0.6"/>
<text x="37.20" y="362.91" font-size="4.5" text-anchor="end" fill="#222">1</text>
<text x="37.20" y="380.41" font-size="4.5" text-anchor="end" fill="#222">44</text>
<text x="26.00" y="341.20" font-size="5.8" text-anchor="middle" fill="#222" transform="rotate(-90 26.00 341.20)" dy="2.08">EP</text>
<text x="26.00" y="369.60" font-size="5.8" text-anchor="middle" fill="#222" transform="rotate(-90 26.00 369.60)" dy="2.08">MM</text>
<rect x="45.60" y="353.30" width="105.20" height="5.90" fill="#c6c6cc" stroke="#8a8a90" stroke-width="0.35"/>
<rect x="47.00" y="352.20" width="89.20" height="8.20" rx="0.7" fill="#d48b7a" stroke="#6b4a40" stroke-width="0.35"/>
<text x="91.20" y="358.01" font-size="4.5" text-anchor="middle" fill="#2a1a16" font-style="italic" textLength="31.50" lengthAdjust="spacingAndGlyphs">H_N_K_Ras_like</text>
<text x="156.80" y="335.24" font-size="4.3" text-anchor="end" fill="#222" textLength="36.60" lengthAdjust="spacingAndGlyphs">KRAS: NM_004985</text>
<text x="159.60" y="356.20" font-size="3.8" text-anchor="middle" fill="#222" transform="rotate(-90 159.60 356.20)" dy="1.36">191 aa</text>
<line x1="51.70" y1="348.40" x2="51.70" y2="352.20" stroke="#9ab8d8" stroke-width="0.4"/>
<circle cx="51.70" cy="348.30" r="0.72" fill="#3f8fe0"/>
<line x1="78.50" y1="348.40" x2="78.50" y2="352.20" stroke="#9ab8d8" stroke-width="0.4"/>
<circle cx="78.50" cy="348.30" r="0.72" fill="#3f8fe0"/>
<text x="41.40" y="347.78" font-size="3.3" fill="#111">G12R</text>
<text x="54.40" y="347.78" font-size="3.3" fill="#111">G13D</text>
<text x="66.30" y="347.78" font-size="3.3" fill="#111">A59G</text>
<text x="80.00" y="347.78" font-size="3.3" fill="#111">Q61H</text>
<line x1="51.70" y1="360.40" x2="51.70" y2="371.60" stroke="#8db4e6" stroke-width="0.5" stroke-dasharray="1 0.7"/>
<circle cx="51.70" cy="362.20" r="0.72" fill="#3f8fe0"/>
<circle cx="51.70" cy="364.50" r="0.72" fill="#3f8fe0"/>
<circle cx="51.70" cy="367.50" r="0.72" fill="#3f8fe0"/>
<circle cx="51.70" cy="371.60" r="0.72" fill="#3f8fe0"/>
<line x1="78.50" y1="360.40" x2="78.50" y2="379.00" stroke="#b7cde8" stroke-width="0.4"/>
<circle cx="78.50" cy="361.60" r="0.72" fill="#3f8fe0"/>
<circle cx="78.50" cy="363.30" r="0.72" fill="#3f8fe0"/>
<circle cx="78.50" cy="379.00" r="0.72" fill="#3f8fe0"/>
<circle cx="53.60" cy="361.50" r="0.7" fill="#3f8fe0"/>
<circle cx="56.60" cy="361.50" r="0.7" fill="#3f8fe0"/>
<circle cx="58.30" cy="361.50" r="0.7" fill="#3f8fe0"/>
<circle cx="66.40" cy="361.50" r="0.7" fill="#3f8fe0"/>
<circle cx="72.50" cy="361.50" r="0.7" fill="#3f8fe0"/>
<circle cx="77.00" cy="361.50" r="0.7" fill="#3f8fe0"/>
<circle cx="80.20" cy="361.50" r="0.7" fill="#3f8fe0"/>
<circle cx="110.00" cy="361.50" r="0.7" fill="#3f8fe0"/>
<circle cx="126.00" cy="361.50" r="0.7" fill="#3f8fe0"/>
<text x="61.40" y="365.08" font-size="3.3" fill="#111">A59E/V/S</text>
<text x="54.60" y="371.58" font-size="3.3" fill="#111">G13D/C/R</text>
<text x="45.20" y="376.78" font-size="3.3" fill="#111">G12A/V/</text>
<text x="45.20" y="380.48" font-size="3.3" fill="#111">D/R/C/S</text>
<text x="80.60" y="380.28" font-size="3.3" fill="#111">Q61H/R/L/K/E</text>
<path d="M192.10 333.20H193.70V349.10H192.10" fill="none" stroke="#222" stroke-width="0.6"/>
<text x="190.30" y="335.51" font-size="4.5" text-anchor="end" fill="#222">5</text>
<text x="190.30" y="350.11" font-size="4.5" text-anchor="end" fill="#222">1</text>
<path d="M192.10 360.60H193.70V379.40H192.10" fill="none" stroke="#222" stroke-width="0.6"/>
<text x="190.30" y="362.91" font-size="4.5" text-anchor="end" fill="#222">1</text>
<text x="190.30" y="380.41" font-size="4.5" text-anchor="end" fill="#222">32</text>
<text x="179.30" y="341.20" font-size="5.8" text-anchor="middle" fill="#222" transform="rotate(-90 179.30 341.20)" dy="2.08">EP</text>
<text x="179.30" y="369.60" font-size="5.8" text-anchor="middle" fill="#222" transform="rotate(-90 179.30 369.60)" dy="2.08">MM</text>
<rect x="198.00" y="353.30" width="110.50" height="5.90" fill="#c6c6cc" stroke="#8a8a90" stroke-width="0.35"/>
<text x="219.20" y="357.90" font-size="3.9" text-anchor="end" fill="#222" font-style="italic">Raf</text>
<rect x="220.00" y="352.20" width="11.30" height="8.20" rx="0.7" fill="#7a6cb9" stroke="#4a4080" stroke-width="0.35"/>
<text x="225.60" y="357.76" font-size="3.8" text-anchor="middle" fill="#2a2450" font-style="italic">RBD</text>
<rect x="232.00" y="352.20" width="6.60" height="8.20" rx="0.7" fill="#c24a3b" stroke="#7a2a20" stroke-width="0.35"/>
<text x="235.30" y="357.76" font-size="3.8" text-anchor="middle" fill="#4a1510">C1</text>
<rect x="263.80" y="352.20" width="36.80" height="8.20" rx="0.7" fill="#f3cc86" stroke="#6b4a20" stroke-width="0.35"/>
<rect x="263.80" y="352.30" width="1.10" height="8.00" fill="#8a3a2a"/>
<text x="282.60" y="358.05" font-size="4.6" text-anchor="middle" fill="#2a1a06" font-style="italic" textLength="32.50" lengthAdjust="spacingAndGlyphs">Pkinase/PKc_like</text>
<text x="306.80" y="335.24" font-size="4.3" text-anchor="end" fill="#222" textLength="37.20" lengthAdjust="spacingAndGlyphs">BRAF: NM_004333</text>
<text x="312.40" y="356.20" font-size="3.8" text-anchor="middle" fill="#222" transform="rotate(-90 312.40 356.20)" dy="1.36">766 aa</text>
<line x1="283.90" y1="344.90" x2="283.90" y2="352.20" stroke="#9cc0ea" stroke-width="0.5"/>
<circle cx="283.90" cy="344.80" r="0.72" fill="#3f8fe0"/>
<text x="286.40" y="343.98" font-size="3.3" fill="#111">V600E</text>
<line x1="283.90" y1="360.40" x2="283.90" y2="379.00" stroke="#9cc0ea" stroke-width="0.5" stroke-dasharray="1.2 0.6"/>
<circle cx="283.90" cy="361.60" r="0.72" fill="#3f8fe0"/>
<circle cx="283.90" cy="367.40" r="0.72" fill="#3f8fe0"/>
<circle cx="283.90" cy="379.00" r="0.72" fill="#3f8fe0"/>
<text x="286.40" y="380.28" font-size="3.3" fill="#111">V600E</text>
<circle cx="208.70" cy="361.50" r="0.7" fill="#3f8fe0"/>
<circle cx="215.00" cy="361.50" r="0.7" fill="#3f8fe0"/>
<circle cx="254.60" cy="361.50" r="0.7" fill="#3f8fe0"/>
<circle cx="255.80" cy="361.50" r="0.7" fill="#3f8fe0"/>
<circle cx="264.60" cy="361.50" r="0.7" fill="#3f8fe0"/>
<circle cx="265.40" cy="361.50" r="0.7" fill="#3f8fe0"/>
<circle cx="269.90" cy="361.50" r="0.7" fill="#3f8fe0"/>
<circle cx="282.60" cy="361.50" r="0.7" fill="#3f8fe0"/>
<circle cx="285.00" cy="361.50" r="0.7" fill="#3f8fe0"/>
<path d="M39.00 393.20H40.60V408.70H39.00" fill="none" stroke="#222" stroke-width="0.6"/>
<text x="37.20" y="395.51" font-size="4.5" text-anchor="end" fill="#222">5</text>
<text x="37.20" y="409.71" font-size="4.5" text-anchor="end" fill="#222">1</text>
<path d="M39.00 423.40H40.60V439.00H39.00" fill="none" stroke="#222" stroke-width="0.6"/>
<text x="37.20" y="425.71" font-size="4.5" text-anchor="end" fill="#222">1</text>
<text x="37.20" y="440.01" font-size="4.5" text-anchor="end" fill="#222">5</text>
<text x="25.70" y="401.00" font-size="5.8" text-anchor="middle" fill="#222" transform="rotate(-90 25.70 401.00)" dy="2.08">EP</text>
<text x="25.70" y="431.30" font-size="5.8" text-anchor="middle" fill="#222" transform="rotate(-90 25.70 431.30)" dy="2.08">MM</text>
<rect x="44.60" y="413.30" width="110.60" height="6.20" fill="#c6c6cc" stroke="#8a8a90" stroke-width="0.35"/>
<rect x="54.50" y="412.20" width="9.90" height="8.30" rx="0.7" fill="#7a6cb9" stroke="#4a4080" stroke-width="0.35"/>
<text x="59.50" y="417.90" font-size="3.9" text-anchor="middle" fill="#2a2450" font-style="italic">RING</text>
<rect x="71.00" y="412.20" width="11.00" height="8.30" rx="0.7" fill="#f3cc86" stroke="#6b4a20" stroke-width="0.35"/>
<rect x="82.00" y="412.20" width="11.20" height="8.30" rx="0.7" fill="#f3cc86" stroke="#6b4a20" stroke-width="0.35"/>
<text x="82.20" y="418.11" font-size="4.5" text-anchor="middle" fill="#2a1a06" font-style="italic">zf-TRAF</text>
<rect x="117.00" y="412.20" width="35.60" height="8.30" rx="0.7" fill="#d48b7a" stroke="#6b4a40" stroke-width="0.35"/>
<text x="134.90" y="418.18" font-size="4.7" text-anchor="middle" fill="#2a1a16" textLength="28.00" lengthAdjust="spacingAndGlyphs">MATH_TRAF3</text>
<text x="157.30" y="395.34" font-size="4.3" text-anchor="end" fill="#222" textLength="39.20" lengthAdjust="spacingAndGlyphs">TRAF3: NM_145725</text>
<text x="159.30" y="416.20" font-size="3.8" text-anchor="middle" fill="#222" transform="rotate(-90 159.30 416.20)" dy="1.36">571 aa</text>
<line x1="78.30" y1="408.80" x2="78.30" y2="412.20" stroke="#bbb" stroke-width="0.35"/>
<circle cx="78.30" cy="408.60" r="0.72" fill="#e8901a"/>
<line x1="139.20" y1="408.80" x2="139.20" y2="412.20" stroke="#bbb" stroke-width="0.35"/>
<circle cx="139.20" cy="408.60" r="0.72" fill="#6aad3a"/>
<line x1="141.90" y1="408.80" x2="141.90" y2="412.20" stroke="#bbb" stroke-width="0.35"/>
<circle cx="141.90" cy="408.60" r="0.72" fill="#e8901a"/>
<text x="81.00" y="407.65" font-size="3.2" fill="#111">E174*</text>
<text x="116.30" y="407.65" font-size="3.2" fill="#111" textLength="20.60" lengthAdjust="spacingAndGlyphs">F490_T495del</text>
<text x="145.00" y="407.65" font-size="3.2" fill="#111" textLength="8.00" lengthAdjust="spacingAndGlyphs">R505*</text>
<line x1="145.00" y1="408.30" x2="153.30" y2="408.30" stroke="#333" stroke-width="0.3"/>
<circle cx="52.20" cy="423.80" r="0.75" fill="#3f8fe0"/>
<circle cx="53.60" cy="423.80" r="0.75" fill="#c8283a"/>
<circle cx="55.00" cy="423.80" r="0.75" fill="#3f8fe0"/>
<circle cx="58.30" cy="423.80" r="0.75" fill="#3f8fe0"/>
<circle cx="60.00" cy="423.80" r="0.75" fill="#e8901a"/>
<circle cx="61.50" cy="423.80" r="0.75" fill="#e8901a"/>
<circle cx="63.00" cy="423.80" r="0.75" fill="#7ab8ea"/>
<circle cx="71.20" cy="423.80" r="0.75" fill="#c8283a"/>
<circle cx="72.60" cy="423.80" r="0.75" fill="#e8901a"/>
<circle cx="74.60" cy="423.80" r="0.75" fill="#c8283a"/>
<circle cx="76.00" cy="423.80" r="0.75" fill="#e8901a"/>
<circle cx="78.20" cy="423.80" r="0.75" fill="#7ab8ea"/>
<circle cx="79.60" cy="423.80" r="0.75" fill="#e8901a"/>
<circle cx="81.00" cy="423.80" r="0.75" fill="#e8901a"/>
<circle cx="100.60" cy="423.80" r="0.75" fill="#7ab8ea"/>
<circle cx="108.00" cy="423.80" r="0.75" fill="#c8283a"/>
<circle cx="111.00" cy="423.80" r="0.75" fill="#e8901a"/>
<circle cx="120.60" cy="423.80" r="0.75" fill="#c8283a"/>
<circle cx="123.00" cy="423.80" r="0.75" fill="#3f8fe0"/>
<circle cx="124.60" cy="423.80" r="0.75" fill="#3f8fe0"/>
<circle cx="126.00" cy="423.80" r="0.75" fill="#7ab8ea"/>
<circle cx="127.60" cy="423.80" r="0.75" fill="#c8283a"/>
<circle cx="130.80" cy="423.80" r="0.75" fill="#3f8fe0"/>
<circle cx="132.20" cy="423.80" r="0.75" fill="#7ab8ea"/>
<circle cx="134.00" cy="423.80" r="0.75" fill="#e8901a"/>
<circle cx="135.60" cy="423.80" r="0.75" fill="#c8283a"/>
<circle cx="137.20" cy="423.80" r="0.75" fill="#3f8fe0"/>
<circle cx="139.00" cy="423.80" r="0.75" fill="#c8283a"/>
<circle cx="140.60" cy="423.80" r="0.75" fill="#7ab8ea"/>
<circle cx="148.60" cy="423.80" r="0.75" fill="#c8283a"/>
<circle cx="150.00" cy="423.80" r="0.75" fill="#8a1a1a"/>
<line x1="104.20" y1="420.50" x2="104.20" y2="427.00" stroke="#bbb" stroke-width="0.35"/>
<circle cx="104.20" cy="427.00" r="0.72" fill="#e8901a"/>
<line x1="134.10" y1="420.50" x2="134.10" y2="427.00" stroke="#bbb" stroke-width="0.35"/>
<circle cx="134.10" cy="427.00" r="0.72" fill="#3f8fe0"/>
<text x="208.80" y="399.79" font-size="5.0" text-anchor="middle" fill="#111" font-style="italic">KRAS</text>
<line x1="172.60" y1="401.80" x2="244.70" y2="401.80" stroke="#444" stroke-width="0.75"/>
<text x="188.60" y="406.25" font-size="3.2" text-anchor="middle" fill="#222">WT</text>
<text x="226.30" y="406.25" font-size="3.2" text-anchor="middle" fill="#222">p.G12R (c.34G&gt;C)</text>
<path d="M173.00 410.80C175.24 411.87 184.21 411.72 184.21 412.33C184.21 412.94 175.24 412.79 173.00 413.86" fill="none" stroke="#222" stroke-width="0.45"/>
<path d="M173.00 413.43C175.44 414.56 185.21 414.40 185.21 415.04C185.21 415.68 175.44 415.52 173.00 416.65" fill="none" stroke="#3a4ad8" stroke-width="0.45"/>
<path d="M173.00 416.20C175.42 417.31 185.11 417.15 185.11 417.78C185.11 418.41 175.42 418.26 173.00 419.36" fill="none" stroke="#3a4ad8" stroke-width="0.45"/>
<path d="M173.00 418.92C174.97 419.80 182.83 419.68 182.83 420.18C182.83 420.69 174.97 420.56 173.00 421.45" fill="none" stroke="#3aa83a" stroke-width="0.45"/>
<path d="M173.00 421.09C175.15 422.26 183.74 422.10 183.74 422.77C183.74 423.44 175.15 423.27 173.00 424.44" fill="none" stroke="#3a4ad8" stroke-width="0.45"/>
<path d="M173.00 423.97C174.61 425.13 181.07 424.97 181.07 425.63C181.07 426.29 174.61 426.12 173.00 427.28" fill="none" stroke="#3aa83a" stroke-width="0.45"/>
<path d="M173.00 426.82C174.75 427.84 181.73 427.70 181.73 428.28C181.73 428.87 174.75 428.72 173.00 429.74" fill="none" stroke="#222" stroke-width="0.45"/>
<path d="M173.00 429.33C175.07 430.38 183.37 430.23 183.37 430.83C183.37 431.43 175.07 431.28 173.00 432.32" fill="none" stroke="#3a4ad8" stroke-width="0.45"/>
<path d="M173.00 431.90C174.72 432.78 181.58 432.66 181.58 433.16C181.58 433.66 174.72 433.54 173.00 434.42" fill="none" stroke="#d83a3a" stroke-width="0.45"/>
<path d="M173.00 434.06C175.42 435.03 185.08 434.89 185.08 435.44C185.08 435.99 175.42 435.85 173.00 436.82" fill="none" stroke="#3a4ad8" stroke-width="0.45"/>
<path d="M173.00 436.43C174.66 437.55 181.30 437.39 181.30 438.03C181.30 438.66 174.66 438.50 173.00 439.62" fill="none" stroke="#222" stroke-width="0.45"/>
<path d="M173.00 439.17C174.64 440.30 181.19 440.14 181.19 440.78C181.19 441.43 174.64 441.26 173.00 442.39" fill="none" stroke="#3a4ad8" stroke-width="0.45"/>
<line x1="173.00" y1="410.60" x2="173.00" y2="442.00" stroke="#c44" stroke-width="0.35"/>
<path d="M210.80 410.80C212.43 411.87 218.93 411.72 218.93 412.33C218.93 412.94 212.43 412.79 210.80 413.86" fill="none" stroke="#222" stroke-width="0.45"/>
<path d="M210.80 413.43C213.17 414.30 222.66 414.18 222.66 414.68C222.66 415.18 213.17 415.05 210.80 415.93" fill="none" stroke="#3a4ad8" stroke-width="0.45"/>
<path d="M210.80 415.58C212.52 416.52 219.38 416.39 219.38 416.92C219.38 417.46 212.52 417.33 210.80 418.27" fill="none" stroke="#3a4ad8" stroke-width="0.45"/>
<path d="M210.80 417.89C213.17 419.08 222.66 418.91 222.66 419.58C222.66 420.26 213.17 420.09 210.80 421.28" fill="none" stroke="#3aa83a" stroke-width="0.45"/>
<path d="M210.80 420.80C213.26 421.77 223.11 421.63 223.11 422.18C223.11 422.73 213.26 422.60 210.80 423.56" fill="none" stroke="#3a4ad8" stroke-width="0.45"/>
<path d="M210.80 423.18C212.98 424.22 221.69 424.07 221.69 424.67C221.69 425.27 212.98 425.12 210.80 426.16" fill="none" stroke="#222" stroke-width="0.45"/>
<path d="M210.80 425.74C213.24 426.68 223.00 426.55 223.00 427.09C223.00 427.62 213.24 427.49 210.80 428.43" fill="none" stroke="#3aa83a" stroke-width="0.45"/>
<path d="M210.80 428.05C213.27 429.14 223.13 428.99 223.13 429.61C223.13 430.24 213.27 430.08 210.80 431.17" fill="none" stroke="#3a4ad8" stroke-width="0.45"/>
<path d="M210.80 430.74C212.60 431.89 219.79 431.73 219.79 432.39C219.79 433.05 212.60 432.88 210.80 434.04" fill="none" stroke="#d83a3a" stroke-width="0.45"/>
<path d="M210.80 433.58C212.47 434.57 219.13 434.43 219.13 434.99C219.13 435.56 212.47 435.41 210.80 436.40" fill="none" stroke="#3a4ad8" stroke-width="0.45"/>
<path d="M210.80 436.01C212.37 436.93 218.63 436.80 218.63 437.32C218.63 437.85 212.37 437.72 210.80 438.64" fill="none" stroke="#222" stroke-width="0.45"/>
<path d="M210.80 438.27C212.90 439.24 221.32 439.10 221.32 439.66C221.32 440.21 212.90 440.07 210.80 441.04" fill="none" stroke="#3a4ad8" stroke-width="0.45"/>
<path d="M210.80 440.65C212.98 441.53 221.69 441.40 221.69 441.90C221.69 442.41 212.98 442.28 210.80 443.16" fill="none" stroke="#3a4ad8" stroke-width="0.45"/>
<line x1="210.80" y1="410.60" x2="210.80" y2="442.00" stroke="#c44" stroke-width="0.35"/>
<rect x="199.40" y="411.45" width="1.30" height="0.70" fill="#3a4ad8"/>
<rect x="201.50" y="411.50" width="2.28" height="0.60" fill="#9a9aa8"/>
<rect x="199.40" y="414.08" width="1.30" height="0.70" fill="#3a4ad8"/>
<rect x="201.50" y="414.13" width="2.22" height="0.60" fill="#9a9aa8"/>
<rect x="199.40" y="416.71" width="1.30" height="0.70" fill="#3aa83a"/>
<rect x="201.50" y="416.76" width="3.24" height="0.60" fill="#9a9aa8"/>
<rect x="199.40" y="419.34" width="1.30" height="0.70" fill="#3aa83a"/>
<rect x="201.50" y="419.39" width="2.56" height="0.60" fill="#9a9aa8"/>
<rect x="199.40" y="421.97" width="1.30" height="0.70" fill="#3a4ad8"/>
<rect x="201.50" y="422.02" width="2.23" height="0.60" fill="#9a9aa8"/>
<rect x="199.40" y="424.60" width="1.30" height="0.70" fill="#3a4ad8"/>
<rect x="201.50" y="424.65" width="2.56" height="0.60" fill="#9a9aa8"/>
<rect x="199.40" y="427.23" width="1.30" height="0.70" fill="#222"/>
<rect x="201.50" y="427.28" width="3.01" height="0.60" fill="#9a9aa8"/>
<rect x="199.40" y="429.86" width="1.30" height="0.70" fill="#3aa83a"/>
<rect x="201.50" y="429.91" width="1.71" height="0.60" fill="#9a9aa8"/>
<rect x="199.40" y="432.49" width="1.30" height="0.70" fill="#3a4ad8"/>
<rect x="201.50" y="432.54" width="3.55" height="0.60" fill="#9a9aa8"/>
<rect x="199.40" y="435.12" width="1.30" height="0.70" fill="#222"/>
<rect x="201.50" y="435.17" width="1.65" height="0.60" fill="#9a9aa8"/>
<rect x="199.40" y="437.75" width="1.30" height="0.70" fill="#d83a3a"/>
<rect x="201.50" y="437.80" width="3.10" height="0.60" fill="#9a9aa8"/>
<rect x="199.40" y="440.38" width="1.30" height="0.70" fill="#3a4ad8"/>
<rect x="201.50" y="440.43" width="3.29" height="0.60" fill="#9a9aa8"/>
<rect x="237.60" y="411.45" width="1.30" height="0.70" fill="#3a4ad8"/>
<rect x="239.70" y="411.50" width="1.64" height="0.60" fill="#9a9aa8"/>
<rect x="237.60" y="414.08" width="1.30" height="0.70" fill="#3a4ad8"/>
<rect x="239.70" y="414.13" width="3.18" height="0.60" fill="#9a9aa8"/>
<rect x="237.60" y="416.71" width="1.30" height="0.70" fill="#3aa83a"/>
<rect x="239.70" y="416.76" width="2.33" height="0.60" fill="#9a9aa8"/>
<rect x="237.60" y="419.34" width="1.30" height="0.70" fill="#3aa83a"/>
<rect x="239.70" y="419.39" width="2.76" height="0.60" fill="#9a9aa8"/>
<rect x="237.60" y="421.97" width="1.30" height="0.70" fill="#3a4ad8"/>
<rect x="239.70" y="422.02" width="1.62" height="0.60" fill="#9a9aa8"/>
<rect x="237.60" y="424.60" width="1.30" height="0.70" fill="#3a4ad8"/>
<rect x="239.70" y="424.65" width="1.69" height="0.60" fill="#9a9aa8"/>
<rect x="237.60" y="427.23" width="1.30" height="0.70" fill="#222"/>
<rect x="239.70" y="427.28" width="1.96" height="0.60" fill="#9a9aa8"/>
<rect x="237.60" y="429.86" width="1.30" height="0.70" fill="#3aa83a"/>
<rect x="239.70" y="429.91" width="3.51" height="0.60" fill="#9a9aa8"/>
<rect x="237.60" y="432.49" width="1.30" height="0.70" fill="#3a4ad8"/>
<rect x="239.70" y="432.54" width="1.99" height="0.60" fill="#9a9aa8"/>
<rect x="237.60" y="435.12" width="1.30" height="0.70" fill="#222"/>
<rect x="239.70" y="435.17" width="3.11" height="0.60" fill="#9a9aa8"/>
<rect x="237.60" y="437.75" width="1.30" height="0.70" fill="#d83a3a"/>
<rect x="239.70" y="437.80" width="3.46" height="0.60" fill="#9a9aa8"/>
<rect x="237.60" y="440.38" width="1.30" height="0.70" fill="#3a4ad8"/>
<rect x="239.70" y="440.43" width="3.48" height="0.60" fill="#9a9aa8"/>
<rect x="172.60" y="423.5" width="72.10" height="4.1" fill="none" stroke="#333" stroke-width="0.4"/>
<text x="289.40" y="399.79" font-size="5.0" text-anchor="middle" fill="#111" font-style="italic">TRAF3</text>
<line x1="255.70" y1="401.80" x2="329.00" y2="401.80" stroke="#444" stroke-width="0.75"/>
<text x="272.00" y="406.25" font-size="3.2" text-anchor="middle" fill="#222">WT</text>
<text x="310.40" y="406.25" font-size="3.2" text-anchor="middle" fill="#222">p.R505* (c.1513C&gt;T)</text>
<path d="M256.20 410.80C258.05 411.78 265.47 411.64 265.47 412.20C265.47 412.77 258.05 412.63 256.20 413.61" fill="none" stroke="#222" stroke-width="0.45"/>
<path d="M256.20 413.22C258.48 414.26 267.58 414.11 267.58 414.70C267.58 415.30 258.48 415.15 256.20 416.19" fill="none" stroke="#3a4ad8" stroke-width="0.45"/>
<path d="M256.20 415.77C258.45 416.68 267.44 416.55 267.44 417.07C267.44 417.59 258.45 417.46 256.20 418.37" fill="none" stroke="#3a4ad8" stroke-width="0.45"/>
<path d="M256.20 418.01C258.56 419.13 268.00 418.97 268.00 419.62C268.00 420.26 258.56 420.10 256.20 421.22" fill="none" stroke="#3aa83a" stroke-width="0.45"/>
<path d="M256.20 420.77C258.65 421.66 268.43 421.53 268.43 422.04C268.43 422.55 258.65 422.42 256.20 423.31" fill="none" stroke="#3a4ad8" stroke-width="0.45"/>
<path d="M256.20 422.95C258.04 423.86 265.40 423.73 265.40 424.24C265.40 424.76 258.04 424.63 256.20 425.53" fill="none" stroke="#3aa83a" stroke-width="0.45"/>
<path d="M256.20 425.17C258.62 426.24 268.29 426.09 268.29 426.70C268.29 427.31 258.62 427.15 256.20 428.22" fill="none" stroke="#222" stroke-width="0.45"/>
<path d="M256.20 427.80C258.62 428.78 268.32 428.64 268.32 429.20C268.32 429.76 258.62 429.62 256.20 430.60" fill="none" stroke="#3a4ad8" stroke-width="0.45"/>
<path d="M256.20 430.21C258.01 431.25 265.26 431.11 265.26 431.70C265.26 432.30 258.01 432.15 256.20 433.20" fill="none" stroke="#d83a3a" stroke-width="0.45"/>
<path d="M256.20 432.78C257.88 433.75 264.59 433.62 264.59 434.17C264.59 434.73 257.88 434.59 256.20 435.57" fill="none" stroke="#3a4ad8" stroke-width="0.45"/>
<path d="M256.20 435.18C257.85 436.07 264.44 435.95 264.44 436.46C264.44 436.97 257.85 436.85 256.20 437.75" fill="none" stroke="#222" stroke-width="0.45"/>
<path d="M256.20 437.39C258.70 438.48 268.68 438.32 268.68 438.95C268.68 439.57 258.70 439.41 256.20 440.51" fill="none" stroke="#3a4ad8" stroke-width="0.45"/>
<path d="M256.20 440.07C257.75 441.00 263.94 440.86 263.94 441.39C263.94 441.92 257.75 441.79 256.20 442.71" fill="none" stroke="#3a4ad8" stroke-width="0.45"/>
<line x1="256.20" y1="410.60" x2="256.20" y2="442.00" stroke="#c44" stroke-width="0.35"/>
<path d="M293.60 410.80C295.63 411.99 303.77 411.82 303.77 412.49C303.77 413.17 295.63 413.00 293.60 414.19" fill="none" stroke="#222" stroke-width="0.45"/>
<path d="M293.60 413.71C295.34 414.72 302.29 414.57 302.29 415.15C302.29 415.72 295.34 415.58 293.60 416.58" fill="none" stroke="#3a4ad8" stroke-width="0.45"/>
<path d="M293.60 416.18C295.93 417.24 305.23 417.09 305.23 417.70C305.23 418.30 295.93 418.15 293.60 419.21" fill="none" stroke="#3a4ad8" stroke-width="0.45"/>
<path d="M293.60 418.79C295.52 419.81 303.21 419.66 303.21 420.24C303.21 420.82 295.52 420.68 293.60 421.70" fill="none" stroke="#3aa83a" stroke-width="0.45"/>
<path d="M293.60 421.29C296.02 422.18 305.68 422.06 305.68 422.57C305.68 423.08 296.02 422.95 293.60 423.84" fill="none" stroke="#3a4ad8" stroke-width="0.45"/>
<path d="M293.60 423.48C295.59 424.37 303.57 424.24 303.57 424.75C303.57 425.25 295.59 425.13 293.60 426.01" fill="none" stroke="#222" stroke-width="0.45"/>
<path d="M293.60 425.66C295.23 426.80 301.75 426.64 301.75 427.29C301.75 427.94 295.23 427.77 293.60 428.91" fill="none" stroke="#3aa83a" stroke-width="0.45"/>
<path d="M293.60 428.46C296.05 429.56 305.85 429.41 305.85 430.04C305.85 430.67 296.05 430.51 293.60 431.62" fill="none" stroke="#3a4ad8" stroke-width="0.45"/>
<path d="M293.60 431.17C295.89 432.25 305.04 432.09 305.04 432.71C305.04 433.32 295.89 433.17 293.60 434.24" fill="none" stroke="#d83a3a" stroke-width="0.45"/>
<path d="M293.60 433.81C295.53 434.72 303.27 434.59 303.27 435.11C303.27 435.63 295.53 435.50 293.60 436.41" fill="none" stroke="#3a4ad8" stroke-width="0.45"/>
<path d="M293.60 436.04C295.94 436.97 305.32 436.83 305.32 437.36C305.32 437.89 295.94 437.76 293.60 438.68" fill="none" stroke="#222" stroke-width="0.45"/>
<path d="M293.60 438.31C295.55 439.28 303.37 439.14 303.37 439.69C303.37 440.25 295.55 440.11 293.60 441.08" fill="none" stroke="#3a4ad8" stroke-width="0.45"/>
<path d="M293.60 440.69C295.95 441.88 305.36 441.71 305.36 442.39C305.36 443.07 295.95 442.90 293.60 444.09" fill="none" stroke="#3a4ad8" stroke-width="0.45"/>
<line x1="293.60" y1="410.60" x2="293.60" y2="442.00" stroke="#c44" stroke-width="0.35"/>
<rect x="282.60" y="411.45" width="1.30" height="0.70" fill="#3a4ad8"/>
<rect x="284.70" y="411.50" width="3.55" height="0.60" fill="#9a9aa8"/>
<rect x="282.60" y="414.08" width="1.30" height="0.70" fill="#3a4ad8"/>
<rect x="284.70" y="414.13" width="2.51" height="0.60" fill="#9a9aa8"/>
<rect x="282.60" y="416.71" width="1.30" height="0.70" fill="#3aa83a"/>
<rect x="284.70" y="416.76" width="2.58" height="0.60" fill="#9a9aa8"/>
<rect x="282.60" y="419.34" width="1.30" height="0.70" fill="#3aa83a"/>
<rect x="284.70" y="419.39" width="3.06" height="0.60" fill="#9a9aa8"/>
<rect x="282.60" y="421.97" width="1.30" height="0.70" fill="#3a4ad8"/>
<rect x="284.70" y="422.02" width="2.56" height="0.60" fill="#9a9aa8"/>
<rect x="282.60" y="424.60" width="1.30" height="0.70" fill="#3a4ad8"/>
<rect x="284.70" y="424.65" width="2.18" height="0.60" fill="#9a9aa8"/>
<rect x="282.60" y="427.23" width="1.30" height="0.70" fill="#222"/>
<rect x="284.70" y="427.28" width="2.41" height="0.60" fill="#9a9aa8"/>
<rect x="282.60" y="429.86" width="1.30" height="0.70" fill="#3aa83a"/>
<rect x="284.70" y="429.91" width="1.89" height="0.60" fill="#9a9aa8"/>
<rect x="282.60" y="432.49" width="1.30" height="0.70" fill="#3a4ad8"/>
<rect x="284.70" y="432.54" width="2.35" height="0.60" fill="#9a9aa8"/>
<rect x="282.60" y="435.12" width="1.30" height="0.70" fill="#222"/>
<rect x="284.70" y="435.17" width="3.58" height="0.60" fill="#9a9aa8"/>
<rect x="282.60" y="437.75" width="1.30" height="0.70" fill="#d83a3a"/>
<rect x="284.70" y="437.80" width="3.52" height="0.60" fill="#9a9aa8"/>
<rect x="282.60" y="440.38" width="1.30" height="0.70" fill="#3a4ad8"/>
<rect x="284.70" y="440.43" width="2.85" height="0.60" fill="#9a9aa8"/>
<rect x="321.00" y="411.45" width="1.30" height="0.70" fill="#3a4ad8"/>
<rect x="323.10" y="411.50" width="2.60" height="0.60" fill="#9a9aa8"/>
<rect x="321.00" y="414.08" width="1.30" height="0.70" fill="#3a4ad8"/>
<rect x="323.10" y="414.13" width="2.28" height="0.60" fill="#9a9aa8"/>
<rect x="321.00" y="416.71" width="1.30" height="0.70" fill="#3aa83a"/>
<rect x="323.10" y="416.76" width="1.78" height="0.60" fill="#9a9aa8"/>
<rect x="321.00" y="419.34" width="1.30" height="0.70" fill="#3aa83a"/>
<rect x="323.10" y="419.39" width="2.14" height="0.60" fill="#9a9aa8"/>
<rect x="321.00" y="421.97" width="1.30" height="0.70" fill="#3a4ad8"/>
<rect x="323.10" y="422.02" width="3.16" height="0.60" fill="#9a9aa8"/>
<rect x="321.00" y="424.60" width="1.30" height="0.70" fill="#3a4ad8"/>
<rect x="323.10" y="424.65" width="3.33" height="0.60" fill="#9a9aa8"/>
<rect x="321.00" y="427.23" width="1.30" height="0.70" fill="#222"/>
<rect x="323.10" y="427.28" width="2.32" height="0.60" fill="#9a9aa8"/>
<rect x="321.00" y="429.86" width="1.30" height="0.70" fill="#3aa83a"/>
<rect x="323.10" y="429.91" width="3.17" height="0.60" fill="#9a9aa8"/>
<rect x="321.00" y="432.49" width="1.30" height="0.70" fill="#3a4ad8"/>
<rect x="323.10" y="432.54" width="3.15" height="0.60" fill="#9a9aa8"/>
<rect x="321.00" y="435.12" width="1.30" height="0.70" fill="#222"/>
<rect x="323.10" y="435.17" width="2.99" height="0.60" fill="#9a9aa8"/>
<rect x="321.00" y="437.75" width="1.30" height="0.70" fill="#d83a3a"/>
<rect x="323.10" y="437.80" width="2.93" height="0.60" fill="#9a9aa8"/>
<rect x="321.00" y="440.38" width="1.30" height="0.70" fill="#3a4ad8"/>
<rect x="323.10" y="440.43" width="3.12" height="0.60" fill="#9a9aa8"/>
<rect x="255.70" y="423.5" width="73.30" height="4.1" fill="none" stroke="#333" stroke-width="0.4"/>
<rect x="64.48" y="470.20" width="20.82" height="8.20" fill="#ae0f2f"/>
<rect x="85.30" y="470.20" width="33.20" height="8.20" fill="#c6504f"/>
<text x="39.40" y="475.88" font-size="4.4" text-anchor="end" fill="#222">Chr1q</text>
<text x="62.88" y="475.80" font-size="4.2" text-anchor="end" fill="#222">18%</text>
<text x="120.50" y="475.80" font-size="4.2" fill="#222">29%</text>
<rect x="64.48" y="479.61" width="20.82" height="8.20" fill="#ae0f2f"/>
<rect x="85.30" y="479.61" width="38.93" height="8.20" fill="#c6504f"/>
<text x="39.40" y="485.29" font-size="4.4" text-anchor="end" fill="#222">Chr3p</text>
<text x="62.88" y="485.21" font-size="4.2" text-anchor="end" fill="#222">18%</text>
<text x="126.23" y="485.21" font-size="4.2" fill="#222">34%</text>
<rect x="64.48" y="489.02" width="20.82" height="8.20" fill="#ae0f2f"/>
<rect x="85.30" y="489.02" width="38.93" height="8.20" fill="#c6504f"/>
<text x="39.40" y="494.70" font-size="4.4" text-anchor="end" fill="#222">Chr3q</text>
<text x="62.88" y="494.62" font-size="4.2" text-anchor="end" fill="#222">18%</text>
<text x="126.23" y="494.62" font-size="4.2" fill="#222">34%</text>
<rect x="64.48" y="498.43" width="20.82" height="8.20" fill="#ae0f2f"/>
<rect x="85.30" y="498.43" width="45.80" height="8.20" fill="#c6504f"/>
<text x="39.40" y="504.11" font-size="4.4" text-anchor="end" fill="#222">Chr5p</text>
<text x="62.88" y="504.03" font-size="4.2" text-anchor="end" fill="#222">18%</text>
<text x="133.10" y="504.03" font-size="4.2" fill="#222">40%</text>
<rect x="64.48" y="507.84" width="20.82" height="8.20" fill="#ae0f2f"/>
<rect x="85.30" y="507.84" width="48.09" height="8.20" fill="#c6504f"/>
<text x="39.40" y="513.52" font-size="4.4" text-anchor="end" fill="#222">Chr5q</text>
<text x="62.88" y="513.44" font-size="4.2" text-anchor="end" fill="#222">18%</text>
<text x="135.39" y="513.44" font-size="4.2" fill="#222">42%</text>
<rect x="74.89" y="517.25" width="10.41" height="8.20" fill="#ae0f2f"/>
<rect x="85.30" y="517.25" width="35.49" height="8.20" fill="#c6504f"/>
<text x="39.40" y="522.93" font-size="4.4" text-anchor="end" fill="#222">Chr7p</text>
<text x="73.29" y="522.85" font-size="4.2" text-anchor="end" fill="#222">9%</text>
<text x="122.79" y="522.85" font-size="4.2" fill="#222">31%</text>
<rect x="74.89" y="526.66" width="10.41" height="8.20" fill="#ae0f2f"/>
<rect x="85.30" y="526.66" width="35.49" height="8.20" fill="#c6504f"/>
<text x="39.40" y="532.34" font-size="4.4" text-anchor="end" fill="#222">Chr7q</text>
<text x="73.29" y="532.26" font-size="4.2" text-anchor="end" fill="#222">9%</text>
<text x="122.79" y="532.26" font-size="4.2" fill="#222">31%</text>
<rect x="64.48" y="536.07" width="20.82" height="8.20" fill="#ae0f2f"/>
<rect x="85.30" y="536.07" width="54.96" height="8.20" fill="#c6504f"/>
<text x="39.40" y="541.75" font-size="4.4" text-anchor="end" fill="#222">Chr9p</text>
<text x="62.88" y="541.67" font-size="4.2" text-anchor="end" fill="#222">18%</text>
<text x="142.26" y="541.67" font-size="4.2" fill="#222">48%</text>
<rect x="54.08" y="545.48" width="31.22" height="8.20" fill="#ae0f2f"/>
<rect x="85.30" y="545.48" width="58.40" height="8.20" fill="#c6504f"/>
<text x="39.40" y="551.16" font-size="4.4" text-anchor="end" fill="#222">Chr9q</text>
<text x="52.48" y="551.08" font-size="4.2" text-anchor="end" fill="#222">27%</text>
<text x="145.69" y="551.08" font-size="4.2" fill="#222">51%</text>
<rect x="64.48" y="554.89" width="20.82" height="8.20" fill="#ae0f2f"/>
<rect x="85.30" y="554.89" width="44.66" height="8.20" fill="#c6504f"/>
<text x="39.40" y="560.57" font-size="4.4" text-anchor="end" fill="#222">Chr11q</text>
<text x="62.88" y="560.49" font-size="4.2" text-anchor="end" fill="#222">18%</text>
<text x="131.95" y="560.49" font-size="4.2" fill="#222">39%</text>
<rect x="64.48" y="564.30" width="20.82" height="8.20" fill="#ae0f2f"/>
<rect x="85.30" y="564.30" width="54.96" height="8.20" fill="#c6504f"/>
<text x="39.40" y="569.98" font-size="4.4" text-anchor="end" fill="#222">Chr15q</text>
<text x="62.88" y="569.90" font-size="4.2" text-anchor="end" fill="#222">18%</text>
<text x="142.26" y="569.90" font-size="4.2" fill="#222">48%</text>
<rect x="64.48" y="573.71" width="20.82" height="8.20" fill="#ae0f2f"/>
<rect x="85.30" y="573.71" width="59.54" height="8.20" fill="#c6504f"/>
<text x="39.40" y="579.39" font-size="4.4" text-anchor="end" fill="#222">Chr19p</text>
<text x="62.88" y="579.31" font-size="4.2" text-anchor="end" fill="#222">18%</text>
<text x="146.84" y="579.31" font-size="4.2" fill="#222">52%</text>
<rect x="74.89" y="583.12" width="10.41" height="8.20" fill="#ae0f2f"/>
<rect x="85.30" y="583.12" width="52.67" height="8.20" fill="#c6504f"/>
<text x="39.40" y="588.80" font-size="4.4" text-anchor="end" fill="#222">Chr19q</text>
<text x="73.29" y="588.72" font-size="4.2" text-anchor="end" fill="#222">9%</text>
<text x="139.97" y="588.72" font-size="4.2" fill="#222">46%</text>
<text x="53.00" y="462.60" font-size="5.6" fill="#222" textLength="29.40" lengthAdjust="spacingAndGlyphs">EP [N=11]</text>
<text x="112.80" y="462.60" font-size="5.6" fill="#222" textLength="38.20" lengthAdjust="spacingAndGlyphs">MM [N=336]</text>
<line x1="50.60" y1="593.80" x2="158.00" y2="593.80" stroke="#111" stroke-width="0.9"/>
<line x1="62.40" y1="593.80" x2="62.40" y2="596.50" stroke="#111" stroke-width="0.8"/>
<text x="62.40" y="607.13" font-size="5.1" text-anchor="middle" fill="#222">20%</text>
<line x1="85.30" y1="593.80" x2="85.30" y2="596.50" stroke="#111" stroke-width="0.8"/>
<text x="85.30" y="607.13" font-size="5.1" text-anchor="middle" fill="#222">0%</text>
<line x1="108.20" y1="593.80" x2="108.20" y2="596.50" stroke="#111" stroke-width="0.8"/>
<text x="108.20" y="607.13" font-size="5.1" text-anchor="middle" fill="#222">20%</text>
<line x1="131.10" y1="593.80" x2="131.10" y2="596.50" stroke="#111" stroke-width="0.8"/>
<text x="131.10" y="607.13" font-size="5.1" text-anchor="middle" fill="#222">40%</text>
<line x1="154.00" y1="593.80" x2="154.00" y2="596.50" stroke="#111" stroke-width="0.8"/>
<text x="154.00" y="607.13" font-size="5.1" text-anchor="middle" fill="#222">60%</text>
<text x="104.40" y="619.83" font-size="6.8" text-anchor="middle" fill="#222" textLength="41.80" lengthAdjust="spacingAndGlyphs">Percent of cases</text>
<rect x="262.77" y="470.60" width="9.53" height="13.10" fill="#27477e"/>
<rect x="272.30" y="470.60" width="18.86" height="13.10" fill="#5b6fa6"/>
<text x="210.00" y="478.73" font-size="4.4" text-anchor="end" fill="#222">Chr1p</text>
<text x="260.97" y="478.65" font-size="4.2" text-anchor="end" fill="#222">9%</text>
<text x="293.36" y="478.65" font-size="4.2" fill="#222">18%</text>
<rect x="253.25" y="485.87" width="19.05" height="13.10" fill="#27477e"/>
<rect x="272.30" y="485.87" width="15.72" height="13.10" fill="#5b6fa6"/>
<text x="210.00" y="494.00" font-size="4.4" text-anchor="end" fill="#222">Chr4p</text>
<text x="251.45" y="493.92" font-size="4.2" text-anchor="end" fill="#222">18%</text>
<text x="290.22" y="493.92" font-size="4.2" fill="#222">15%</text>
<rect x="253.25" y="501.14" width="19.05" height="13.10" fill="#27477e"/>
<rect x="272.30" y="501.14" width="11.53" height="13.10" fill="#5b6fa6"/>
<text x="210.00" y="509.27" font-size="4.4" text-anchor="end" fill="#222">Chr4q</text>
<text x="251.45" y="509.19" font-size="4.2" text-anchor="end" fill="#222">18%</text>
<text x="286.03" y="509.19" font-size="4.2" fill="#222">11%</text>
<rect x="253.25" y="516.41" width="19.05" height="13.10" fill="#27477e"/>
<rect x="272.30" y="516.41" width="19.91" height="13.10" fill="#5b6fa6"/>
<text x="210.00" y="524.54" font-size="4.4" text-anchor="end" fill="#222">Chr8p</text>
<text x="251.45" y="524.46" font-size="4.2" text-anchor="end" fill="#222">18%</text>
<text x="294.41" y="524.46" font-size="4.2" fill="#222">19%</text>
<rect x="253.25" y="531.68" width="19.05" height="13.10" fill="#27477e"/>
<rect x="272.30" y="531.68" width="3.14" height="13.10" fill="#5b6fa6"/>
<text x="210.00" y="539.81" font-size="4.4" text-anchor="end" fill="#222">Chr9p</text>
<text x="251.45" y="539.73" font-size="4.2" text-anchor="end" fill="#222">18%</text>
<text x="277.64" y="539.73" font-size="4.2" fill="#222">3%</text>
<rect x="224.67" y="546.95" width="47.63" height="13.10" fill="#27477e"/>
<rect x="272.30" y="546.95" width="45.06" height="13.10" fill="#5b6fa6"/>
<text x="210.00" y="555.08" font-size="4.4" text-anchor="end" fill="#222">Chr13q</text>
<text x="222.87" y="555.00" font-size="4.2" text-anchor="end" fill="#222">45%</text>
<text x="319.56" y="555.00" font-size="4.2" fill="#222">43%</text>
<rect x="234.19" y="562.22" width="38.11" height="13.10" fill="#27477e"/>
<rect x="272.30" y="562.22" width="30.39" height="13.10" fill="#5b6fa6"/>
<text x="210.00" y="570.35" font-size="4.4" text-anchor="end" fill="#222">Chr14q</text>
<text x="232.39" y="570.27" font-size="4.2" text-anchor="end" fill="#222">36%</text>
<text x="304.89" y="570.27" font-size="4.2" fill="#222">29%</text>
<rect x="243.72" y="577.49" width="28.58" height="13.10" fill="#27477e"/>
<rect x="272.30" y="577.49" width="26.20" height="13.10" fill="#5b6fa6"/>
<text x="210.00" y="585.62" font-size="4.4" text-anchor="end" fill="#222">Chr16q</text>
<text x="241.92" y="585.54" font-size="4.2" text-anchor="end" fill="#222">27%</text>
<text x="300.70" y="585.54" font-size="4.2" fill="#222">25%</text>
<text x="222.30" y="462.60" font-size="5.6" fill="#222" textLength="29.40" lengthAdjust="spacingAndGlyphs">EP [N=11]</text>
<text x="283.80" y="462.60" font-size="5.6" fill="#222" textLength="38.20" lengthAdjust="spacingAndGlyphs">MM [N=336]</text>
<line x1="215.80" y1="593.80" x2="328.60" y2="593.80" stroke="#111" stroke-width="0.9"/>
<line x1="219.90" y1="593.80" x2="219.90" y2="596.50" stroke="#111" stroke-width="0.8"/>
<text x="219.90" y="607.13" font-size="5.1" text-anchor="middle" fill="#222">50%</text>
<line x1="246.10" y1="593.80" x2="246.10" y2="596.50" stroke="#111" stroke-width="0.8"/>
<text x="246.10" y="607.13" font-size="5.1" text-anchor="middle" fill="#222">25%</text>
<line x1="272.30" y1="593.80" x2="272.30" y2="596.50" stroke="#111" stroke-width="0.8"/>
<text x="272.30" y="607.13" font-size="5.1" text-anchor="middle" fill="#222">0%</text>
<line x1="298.50" y1="593.80" x2="298.50" y2="596.50" stroke="#111" stroke-width="0.8"/>
<text x="298.50" y="607.13" font-size="5.1" text-anchor="middle" fill="#222">25%</text>
<line x1="324.70" y1="593.80" x2="324.70" y2="596.50" stroke="#111" stroke-width="0.8"/>
<text x="324.70" y="607.13" font-size="5.1" text-anchor="middle" fill="#222">50%</text>
<text x="268.60" y="619.83" font-size="6.8" text-anchor="middle" fill="#222" textLength="41.80" lengthAdjust="spacingAndGlyphs">Percent of cases</text>
<path d="M419.34 28.52A51.8 51.8 0 0 1 443.24 33.66L439.68 41.05A43.6 43.6 0 0 0 419.56 36.71Z" fill="#ebe0cc" stroke="#b0b0b0" stroke-width="0.3"/>
<path d="M420.81 28.75A51.55 51.55 0 0 1 421.41 28.75L421.31 36.45A43.85 43.85 0 0 0 420.80 36.45Z" fill="#e6d9bf"/>
<path d="M421.75 28.76A51.55 51.55 0 0 1 422.77 28.79L422.46 36.49A43.85 43.85 0 0 0 421.59 36.46Z" fill="#ccb280"/>
<path d="M423.63 28.83A51.55 51.55 0 0 1 424.22 28.87L423.70 36.55A43.85 43.85 0 0 0 423.19 36.52Z" fill="#a87d26"/>
<path d="M424.23 28.87A51.55 51.55 0 0 1 424.79 28.91L424.18 36.59A43.85 43.85 0 0 0 423.71 36.55Z" fill="#734c00"/>
<path d="M425.10 28.94A51.55 51.55 0 0 1 425.87 29.01L425.10 36.67A43.85 43.85 0 0 0 424.44 36.61Z" fill="#dbc9a6"/>
<path d="M427.63 29.22A51.55 51.55 0 0 1 428.14 29.29L427.03 36.91A43.85 43.85 0 0 0 426.59 36.85Z" fill="#996600"/>
<path d="M428.29 29.31A51.55 51.55 0 0 1 428.80 29.39L427.59 36.99A43.85 43.85 0 0 0 427.16 36.93Z" fill="#b8944c"/>
<path d="M428.85 29.40A51.55 51.55 0 0 1 429.57 29.52L428.25 37.10A43.85 43.85 0 0 0 427.63 37.00Z" fill="#b8944c"/>
<path d="M431.21 29.83A51.55 51.55 0 0 1 432.08 30.02L430.38 37.53A43.85 43.85 0 0 0 429.64 37.37Z" fill="#996600"/>
<path d="M432.11 30.03A51.55 51.55 0 0 1 432.75 30.18L430.95 37.66A43.85 43.85 0 0 0 430.41 37.54Z" fill="#734c00"/>
<path d="M433.02 30.24A51.55 51.55 0 0 1 434.19 30.55L432.18 37.98A43.85 43.85 0 0 0 431.18 37.72Z" fill="#a87d26"/>
<path d="M434.28 30.57A51.55 51.55 0 0 1 434.69 30.68L432.60 38.10A43.85 43.85 0 0 0 432.25 38.00Z" fill="#734c00"/>
<path d="M434.79 30.71A51.55 51.55 0 0 1 435.41 30.89L433.21 38.27A43.85 43.85 0 0 0 432.68 38.12Z" fill="#f5f0e6"/>
<path d="M435.78 31.00A51.55 51.55 0 0 1 436.94 31.37L434.51 38.68A43.85 43.85 0 0 0 433.52 38.37Z" fill="#996600"/>
<path d="M437.05 31.41A51.55 51.55 0 0 1 437.99 31.74L435.41 38.99A43.85 43.85 0 0 0 434.61 38.72Z" fill="#b8944c"/>
<path d="M438.06 31.76A51.55 51.55 0 0 1 438.73 32.00L436.03 39.22A43.85 43.85 0 0 0 435.47 39.01Z" fill="#734c00"/>
<path d="M438.84 32.05A51.55 51.55 0 0 1 440.04 32.51L437.15 39.65A43.85 43.85 0 0 0 436.13 39.25Z" fill="#734c00"/>
<path d="M440.07 32.53A51.55 51.55 0 0 1 440.98 32.91L437.95 39.99A43.85 43.85 0 0 0 437.17 39.66Z" fill="#ccb280"/>
<path d="M441.28 33.04A51.55 51.55 0 0 1 441.76 33.25L438.61 40.28A43.85 43.85 0 0 0 438.21 40.10Z" fill="#996600"/>
<path d="M441.87 33.30A51.55 51.55 0 0 1 443.03 33.84L439.69 40.78A43.85 43.85 0 0 0 438.71 40.32Z" fill="#c2a366"/>
<text x="432.63" y="24.87" font-size="4.5" text-anchor="middle" fill="#000" transform="rotate(-77.8 432.63 24.87)" dy="1.5">1</text>
<path d="M444.06 34.06A51.8 51.8 0 0 1 462.23 49.34L455.66 54.24A43.6 43.6 0 0 0 440.36 41.38Z" fill="#e4e4d4" stroke="#b0b0b0" stroke-width="0.3"/>
<path d="M445.07 34.88A51.55 51.55 0 0 1 445.42 35.06L441.73 41.82A43.85 43.85 0 0 0 441.43 41.66Z" fill="#a2a268"/>
<path d="M445.58 35.15A51.55 51.55 0 0 1 445.95 35.36L442.18 42.07A43.85 43.85 0 0 0 441.86 41.89Z" fill="#8e8e48"/>
<path d="M446.29 35.55A51.55 51.55 0 0 1 446.87 35.89L442.96 42.52A43.85 43.85 0 0 0 442.47 42.23Z" fill="#5c5c1e"/>
<path d="M447.07 36.00A51.55 51.55 0 0 1 448.12 36.65L444.02 43.17A43.85 43.85 0 0 0 443.13 42.62Z" fill="#5c5c1e"/>
<path d="M448.29 36.76A51.55 51.55 0 0 1 448.82 37.09L444.62 43.55A43.85 43.85 0 0 0 444.17 43.26Z" fill="#cacaa9"/>
<path d="M449.10 37.28A51.55 51.55 0 0 1 449.84 37.78L445.49 44.13A43.85 43.85 0 0 0 444.86 43.70Z" fill="#afaf7e"/>
<path d="M450.06 37.92A51.55 51.55 0 0 1 451.07 38.65L446.54 44.87A43.85 43.85 0 0 0 445.67 44.25Z" fill="#7a7a28"/>
<path d="M451.20 38.74A51.55 51.55 0 0 1 452.28 39.56L447.56 45.64A43.85 43.85 0 0 0 446.65 44.95Z" fill="#dedec9"/>
<path d="M453.12 40.22A51.55 51.55 0 0 1 453.51 40.54L448.61 46.48A43.85 43.85 0 0 0 448.27 46.20Z" fill="#dedec9"/>
<path d="M453.79 40.77A51.55 51.55 0 0 1 454.38 41.27L449.35 47.10A43.85 43.85 0 0 0 448.84 46.67Z" fill="#f2f2ea"/>
<path d="M454.51 41.39A51.55 51.55 0 0 1 455.22 42.01L450.06 47.73A43.85 43.85 0 0 0 449.46 47.20Z" fill="#d0d0b4"/>
<path d="M456.58 43.29A51.55 51.55 0 0 1 456.92 43.62L451.51 49.10A43.85 43.85 0 0 0 451.22 48.82Z" fill="#bcbc94"/>
<path d="M457.16 43.86A51.55 51.55 0 0 1 457.94 44.66L452.38 49.98A43.85 43.85 0 0 0 451.71 49.30Z" fill="#a2a268"/>
<path d="M457.98 44.69A51.55 51.55 0 0 1 458.52 45.27L452.87 50.50A43.85 43.85 0 0 0 452.41 50.01Z" fill="#d0d0b4"/>
<path d="M458.52 45.27A51.55 51.55 0 0 1 459.24 46.07L453.49 51.18A43.85 43.85 0 0 0 452.87 50.50Z" fill="#afaf7e"/>
<path d="M459.32 46.16A51.55 51.55 0 0 1 459.88 46.80L454.03 51.81A43.85 43.85 0 0 0 453.55 51.26Z" fill="#dedec9"/>
<path d="M460.03 46.98A51.55 51.55 0 0 1 460.33 47.33L454.41 52.26A43.85 43.85 0 0 0 454.16 51.95Z" fill="#5c5c1e"/>
<path d="M460.42 47.43A51.55 51.55 0 0 1 461.04 48.21L455.01 53.00A43.85 43.85 0 0 0 454.48 52.34Z" fill="#8e8e48"/>
<path d="M461.10 48.28A51.55 51.55 0 0 1 461.55 48.85L455.44 53.55A43.85 43.85 0 0 0 455.06 53.06Z" fill="#dedec9"/>
<path d="M461.69 49.04A51.55 51.55 0 0 1 461.98 49.42L455.81 54.03A43.85 43.85 0 0 0 455.57 53.71Z" fill="#bcbc94"/>
<text x="457.18" y="36.90" font-size="4.5" text-anchor="middle" fill="#000" transform="rotate(-50.0 457.18 36.90)" dy="1.5">2</text>
<path d="M462.77 50.07A51.8 51.8 0 0 1 470.80 67.16L462.87 69.24A43.6 43.6 0 0 0 456.11 54.86Z" fill="#eeeed7" stroke="#b0b0b0" stroke-width="0.3"/>
<path d="M462.64 50.33A51.55 51.55 0 0 1 463.19 51.11L456.84 55.47A43.85 43.85 0 0 0 456.38 54.81Z" fill="#e1e1b9"/>
<path d="M463.19 51.12A51.55 51.55 0 0 1 463.90 52.18L457.45 56.38A43.85 43.85 0 0 0 456.85 55.47Z" fill="#cfcf92"/>
<path d="M463.96 52.27A51.55 51.55 0 0 1 464.29 52.77L457.78 56.88A43.85 43.85 0 0 0 457.50 56.46Z" fill="#b5b556"/>
<path d="M464.51 53.13A51.55 51.55 0 0 1 464.74 53.51L458.17 57.51A43.85 43.85 0 0 0 457.97 57.19Z" fill="#e1e1b9"/>
<path d="M464.93 53.83A51.55 51.55 0 0 1 465.60 54.98L458.89 58.76A43.85 43.85 0 0 0 458.33 57.78Z" fill="#d4d49c"/>
<path d="M465.77 55.28A51.55 51.55 0 0 1 466.00 55.70L459.24 59.38A43.85 43.85 0 0 0 459.04 59.01Z" fill="#e1e1b9"/>
<path d="M466.21 56.08A51.55 51.55 0 0 1 466.45 56.54L459.62 60.09A43.85 43.85 0 0 0 459.41 59.70Z" fill="#d4d49c"/>
<path d="M466.63 56.89A51.55 51.55 0 0 1 466.98 57.59L460.06 60.98A43.85 43.85 0 0 0 459.77 60.39Z" fill="#dcdcaf"/>
<path d="M467.16 57.96A51.55 51.55 0 0 1 467.63 58.97L460.62 62.15A43.85 43.85 0 0 0 460.22 61.30Z" fill="#cbcb88"/>
<path d="M467.67 59.05A51.55 51.55 0 0 1 467.94 59.66L460.88 62.74A43.85 43.85 0 0 0 460.65 62.22Z" fill="#7e7e2a"/>
<path d="M468.05 59.93A51.55 51.55 0 0 1 468.36 60.66L461.24 63.59A43.85 43.85 0 0 0 460.98 62.97Z" fill="#d4d49c"/>
<path d="M468.44 60.85A51.55 51.55 0 0 1 468.66 61.41L461.50 64.23A43.85 43.85 0 0 0 461.31 63.75Z" fill="#f6f6eb"/>
<path d="M468.72 61.55A51.55 51.55 0 0 1 469.05 62.43L461.83 65.10A43.85 43.85 0 0 0 461.55 64.35Z" fill="#dcdcaf"/>
<path d="M469.14 62.68A51.55 51.55 0 0 1 469.27 63.02L462.01 65.60A43.85 43.85 0 0 0 461.91 65.31Z" fill="#cbcb88"/>
<path d="M469.68 64.21A51.55 51.55 0 0 1 469.81 64.62L462.47 66.96A43.85 43.85 0 0 0 462.36 66.62Z" fill="#dcdcaf"/>
<path d="M469.85 64.74A51.55 51.55 0 0 1 470.09 65.55L462.72 67.75A43.85 43.85 0 0 0 462.51 67.07Z" fill="#d4d49c"/>
<path d="M470.11 65.60A51.55 51.55 0 0 1 470.46 66.84L463.03 68.85A43.85 43.85 0 0 0 462.73 67.80Z" fill="#b5b556"/>
<text x="472.00" y="56.16" font-size="4.5" text-anchor="middle" fill="#000" transform="rotate(-25.2 472.00 56.16)" dy="1.5">3</text>
<path d="M471.03 68.03A51.8 51.8 0 0 1 472.11 86.61L463.98 85.61A43.6 43.6 0 0 0 463.06 69.97Z" fill="#efd3d3" stroke="#b0b0b0" stroke-width="0.3"/>
<path d="M470.82 68.22A51.55 51.55 0 0 1 470.95 68.81L463.45 70.52A43.85 43.85 0 0 0 463.33 70.03Z" fill="#e3b2b2"/>
<path d="M471.03 69.16A51.55 51.55 0 0 1 471.15 69.70L463.61 71.28A43.85 43.85 0 0 0 463.51 70.82Z" fill="#f7e9e9"/>
<path d="M471.21 69.99A51.55 51.55 0 0 1 471.35 70.68L463.78 72.12A43.85 43.85 0 0 0 463.66 71.53Z" fill="#b02424"/>
<path d="M471.38 70.89A51.55 51.55 0 0 1 471.57 71.96L463.97 73.20A43.85 43.85 0 0 0 463.81 72.30Z" fill="#841b1b"/>
<path d="M471.79 73.41A51.55 51.55 0 0 1 471.88 74.10L464.23 75.03A43.85 43.85 0 0 0 464.16 74.44Z" fill="#f7e9e9"/>
<path d="M471.89 74.22A51.55 51.55 0 0 1 471.95 74.76L464.30 75.59A43.85 43.85 0 0 0 464.24 75.12Z" fill="#e3b2b2"/>
<path d="M471.96 74.82A51.55 51.55 0 0 1 472.01 75.36L464.35 76.10A43.85 43.85 0 0 0 464.30 75.64Z" fill="#e3b2b2"/>
<path d="M472.02 75.47A51.55 51.55 0 0 1 472.13 76.74L464.45 77.27A43.85 43.85 0 0 0 464.36 76.19Z" fill="#e3b2b2"/>
<path d="M472.15 77.11A51.55 51.55 0 0 1 472.21 78.31L464.52 78.61A43.85 43.85 0 0 0 464.47 77.58Z" fill="#f7e9e9"/>
<path d="M472.25 80.12A51.55 51.55 0 0 1 472.24 81.39L464.54 81.23A43.85 43.85 0 0 0 464.55 80.15Z" fill="#dfa7a7"/>
<path d="M472.24 81.47A51.55 51.55 0 0 1 472.21 82.31L464.52 82.01A43.85 43.85 0 0 0 464.54 81.29Z" fill="#dfa7a7"/>
<path d="M472.19 82.70A51.55 51.55 0 0 1 472.12 83.95L464.44 83.40A43.85 43.85 0 0 0 464.50 82.34Z" fill="#ebc8c8"/>
<path d="M472.11 84.12A51.55 51.55 0 0 1 471.99 85.45L464.33 84.68A43.85 43.85 0 0 0 464.43 83.55Z" fill="#d48787"/>
<path d="M471.95 85.86A51.55 51.55 0 0 1 471.88 86.49L464.23 85.57A43.85 43.85 0 0 0 464.29 85.03Z" fill="#d48787"/>
<text x="477.30" y="76.99" font-size="4.5" text-anchor="middle" fill="#000" transform="rotate(-3.3 477.30 76.99)" dy="1.5">4</text>
<path d="M472.00 87.51A51.8 51.8 0 0 1 466.61 104.30L459.34 100.50A43.6 43.6 0 0 0 463.88 86.37Z" fill="#f3d8d8" stroke="#b0b0b0" stroke-width="0.3"/>
<path d="M471.73 87.61A51.55 51.55 0 0 1 471.53 88.90L463.94 87.62A43.85 43.85 0 0 0 464.11 86.52Z" fill="#e09c9c"/>
<path d="M471.48 89.19A51.55 51.55 0 0 1 471.33 90.02L463.76 88.57A43.85 43.85 0 0 0 463.89 87.86Z" fill="#e7b0b0"/>
<path d="M471.30 90.15A51.55 51.55 0 0 1 471.03 91.44L463.51 89.78A43.85 43.85 0 0 0 463.74 88.68Z" fill="#cb5858"/>
<path d="M470.96 91.77A51.55 51.55 0 0 1 470.86 92.17L463.37 90.40A43.85 43.85 0 0 0 463.45 90.05Z" fill="#d47575"/>
<path d="M470.86 92.20A51.55 51.55 0 0 1 470.63 93.11L463.17 91.20A43.85 43.85 0 0 0 463.37 90.42Z" fill="#e09c9c"/>
<path d="M470.17 94.78A51.55 51.55 0 0 1 470.05 95.20L462.68 92.98A43.85 43.85 0 0 0 462.78 92.62Z" fill="#f0cece"/>
<path d="M470.04 95.23A51.55 51.55 0 0 1 469.92 95.64L462.56 93.35A43.85 43.85 0 0 0 462.67 93.00Z" fill="#e7b0b0"/>
<path d="M469.86 95.81A51.55 51.55 0 0 1 469.46 97.04L462.17 94.54A43.85 43.85 0 0 0 462.52 93.50Z" fill="#cb5858"/>
<path d="M469.42 97.14A51.55 51.55 0 0 1 469.10 98.04L461.87 95.39A43.85 43.85 0 0 0 462.14 94.63Z" fill="#cb5858"/>
<path d="M469.09 98.07A51.55 51.55 0 0 1 468.73 99.02L461.56 96.22A43.85 43.85 0 0 0 461.86 95.42Z" fill="#cb5858"/>
<path d="M468.65 99.24A51.55 51.55 0 0 1 468.16 100.42L461.07 97.42A43.85 43.85 0 0 0 461.48 96.41Z" fill="#e7b0b0"/>
<path d="M468.04 100.70A51.55 51.55 0 0 1 467.77 101.32L460.74 98.18A43.85 43.85 0 0 0 460.97 97.65Z" fill="#dd9393"/>
<path d="M467.70 101.48A51.55 51.55 0 0 1 467.27 102.41L460.31 99.11A43.85 43.85 0 0 0 460.68 98.32Z" fill="#dd9393"/>
<path d="M467.18 102.59A51.55 51.55 0 0 1 466.61 103.74L459.75 100.24A43.85 43.85 0 0 0 460.24 99.26Z" fill="#f9ebeb"/>
<path d="M466.61 103.74A51.55 51.55 0 0 1 466.43 104.10L459.60 100.55A43.85 43.85 0 0 0 459.75 100.24Z" fill="#cb5858"/>
<text x="474.69" y="97.63" font-size="4.5" text-anchor="middle" fill="#000" transform="rotate(17.8 474.69 97.63)" dy="1.5">5</text>
<path d="M466.18 105.10A51.8 51.8 0 0 1 456.09 118.12L450.49 112.14A43.6 43.6 0 0 0 458.98 101.17Z" fill="#f2d2ef" stroke="#b0b0b0" stroke-width="0.3"/>
<path d="M465.90 105.09A51.55 51.55 0 0 1 465.69 105.47L458.97 101.71A43.85 43.85 0 0 0 459.14 101.39Z" fill="#e6a6df"/>
<path d="M465.57 105.67A51.55 51.55 0 0 1 465.33 106.10L458.66 102.24A43.85 43.85 0 0 0 458.87 101.88Z" fill="#d363c8"/>
<path d="M465.13 106.44A51.55 51.55 0 0 1 464.49 107.49L457.95 103.43A43.85 43.85 0 0 0 458.49 102.54Z" fill="#d363c8"/>
<path d="M464.43 107.60A51.55 51.55 0 0 1 464.00 108.27L457.53 104.09A43.85 43.85 0 0 0 457.90 103.52Z" fill="#e090d8"/>
<path d="M463.83 108.54A51.55 51.55 0 0 1 463.29 109.34L456.93 105.00A43.85 43.85 0 0 0 457.39 104.32Z" fill="#901884"/>
<path d="M463.16 109.54A51.55 51.55 0 0 1 462.57 110.37L456.32 105.88A43.85 43.85 0 0 0 456.82 105.17Z" fill="#e090d8"/>
<path d="M462.49 110.48A51.55 51.55 0 0 1 461.89 111.30L455.74 106.67A43.85 43.85 0 0 0 456.25 105.97Z" fill="#efc7eb"/>
<path d="M461.82 111.39A51.55 51.55 0 0 1 461.06 112.37L455.03 107.58A43.85 43.85 0 0 0 455.68 106.75Z" fill="#d979d0"/>
<path d="M460.90 112.57A51.55 51.55 0 0 1 460.50 113.06L454.56 108.16A43.85 43.85 0 0 0 454.90 107.75Z" fill="#c941bc"/>
<path d="M460.44 113.13A51.55 51.55 0 0 1 460.00 113.67L454.13 108.68A43.85 43.85 0 0 0 454.51 108.23Z" fill="#901884"/>
<path d="M459.81 113.88A51.55 51.55 0 0 1 459.40 114.35L453.62 109.26A43.85 43.85 0 0 0 453.97 108.87Z" fill="#e9b1e3"/>
<path d="M458.46 115.40A51.55 51.55 0 0 1 457.92 115.97L452.36 110.64A43.85 43.85 0 0 0 452.82 110.16Z" fill="#dc84d4"/>
<path d="M457.91 115.98A51.55 51.55 0 0 1 457.43 116.47L451.94 111.07A43.85 43.85 0 0 0 452.35 110.65Z" fill="#efc7eb"/>
<path d="M457.22 116.68A51.55 51.55 0 0 1 456.78 117.11L451.39 111.62A43.85 43.85 0 0 0 451.77 111.24Z" fill="#d979d0"/>
<path d="M456.64 117.25A51.55 51.55 0 0 1 455.99 117.88L450.72 112.27A43.85 43.85 0 0 0 451.27 111.73Z" fill="#e090d8"/>
<text x="465.53" y="115.01" font-size="4.5" text-anchor="middle" fill="#000" transform="rotate(37.8 465.53 115.01)" dy="1.5">6</text>
<path d="M455.43 118.73A51.8 51.8 0 0 1 442.51 127.28L439.06 119.85A43.6 43.6 0 0 0 449.93 112.65Z" fill="#f7ecec" stroke="#b0b0b0" stroke-width="0.3"/>
<path d="M455.16 118.64A51.55 51.55 0 0 1 454.84 118.93L449.74 113.16A43.85 43.85 0 0 0 450.01 112.91Z" fill="#e8c6c6"/>
<path d="M454.53 119.20A51.55 51.55 0 0 1 453.85 119.78L448.90 113.88A43.85 43.85 0 0 0 449.48 113.39Z" fill="#e4bcbc"/>
<path d="M453.64 119.95A51.55 51.55 0 0 1 453.25 120.27L448.39 114.30A43.85 43.85 0 0 0 448.72 114.03Z" fill="#f6e7e7"/>
<path d="M452.36 120.98A51.55 51.55 0 0 1 451.91 121.33L447.25 115.20A43.85 43.85 0 0 0 447.63 114.91Z" fill="#f0d9d9"/>
<path d="M451.67 121.51A51.55 51.55 0 0 1 451.10 121.93L446.56 115.71A43.85 43.85 0 0 0 447.04 115.35Z" fill="#ecd0d0"/>
<path d="M450.78 122.17A51.55 51.55 0 0 1 450.15 122.61L445.76 116.29A43.85 43.85 0 0 0 446.28 115.91Z" fill="#dfaeae"/>
<path d="M449.88 122.80A51.55 51.55 0 0 1 448.82 123.51L444.62 117.05A43.85 43.85 0 0 0 445.52 116.45Z" fill="#f0d9d9"/>
<path d="M448.49 123.72A51.55 51.55 0 0 1 447.36 124.42L443.38 117.83A43.85 43.85 0 0 0 444.34 117.23Z" fill="#f6e7e7"/>
<path d="M447.02 124.62A51.55 51.55 0 0 1 446.69 124.82L442.81 118.17A43.85 43.85 0 0 0 443.09 118.00Z" fill="#e8c6c6"/>
<path d="M446.33 125.03A51.55 51.55 0 0 1 445.34 125.58L441.66 118.82A43.85 43.85 0 0 0 442.50 118.34Z" fill="#d9a0a0"/>
<path d="M445.02 125.75A51.55 51.55 0 0 1 443.95 126.31L440.47 119.44A43.85 43.85 0 0 0 441.39 118.96Z" fill="#f0d9d9"/>
<path d="M443.84 126.36A51.55 51.55 0 0 1 442.82 126.86L439.51 119.91A43.85 43.85 0 0 0 440.38 119.48Z" fill="#fbf6f6"/>
<path d="M442.66 126.94A51.55 51.55 0 0 1 442.49 127.02L439.23 120.04A43.85 43.85 0 0 0 439.38 119.97Z" fill="#f2dede"/>
<text x="451.99" y="127.58" font-size="4.5" text-anchor="middle" fill="#000" transform="rotate(56.5 451.99 127.58)" dy="1.5">7</text>
<path d="M441.69 127.66A51.8 51.8 0 0 1 427.28 131.68L426.24 123.55A43.6 43.6 0 0 0 438.36 120.16Z" fill="#f9e8cc" stroke="#b0b0b0" stroke-width="0.3"/>
<path d="M441.46 127.48A51.55 51.55 0 0 1 440.39 127.94L437.45 120.83A43.85 43.85 0 0 0 438.36 120.44Z" fill="#f4d6a6"/>
<path d="M440.24 128.00A51.55 51.55 0 0 1 439.15 128.43L436.40 121.24A43.85 43.85 0 0 0 437.32 120.88Z" fill="#f3d099"/>
<path d="M439.06 128.47A51.55 51.55 0 0 1 438.11 128.82L435.51 121.57A43.85 43.85 0 0 0 436.32 121.27Z" fill="#e08a00"/>
<path d="M437.97 128.87A51.55 51.55 0 0 1 436.82 129.26L434.41 121.95A43.85 43.85 0 0 0 435.39 121.62Z" fill="#eebf73"/>
<path d="M436.67 129.31A51.55 51.55 0 0 1 435.85 129.57L433.58 122.21A43.85 43.85 0 0 0 434.28 121.99Z" fill="#a86800"/>
<path d="M434.52 129.96A51.55 51.55 0 0 1 433.24 130.30L431.37 122.83A43.85 43.85 0 0 0 432.45 122.55Z" fill="#f7e2bf"/>
<path d="M431.64 130.68A51.55 51.55 0 0 1 430.87 130.84L429.35 123.29A43.85 43.85 0 0 0 430.01 123.15Z" fill="#ecb966"/>
<path d="M430.52 130.91A51.55 51.55 0 0 1 429.74 131.05L428.39 123.47A43.85 43.85 0 0 0 429.05 123.35Z" fill="#f0c480"/>
<path d="M429.69 131.06A51.55 51.55 0 0 1 428.46 131.26L427.30 123.65A43.85 43.85 0 0 0 428.35 123.48Z" fill="#f3d099"/>
<text x="435.95" y="134.91" font-size="4.5" text-anchor="middle" fill="#000" transform="rotate(74.4 435.95 134.91)" dy="1.5">8</text>
<path d="M426.38 131.79A51.8 51.8 0 0 1 413.04 131.53L414.26 123.42A43.6 43.6 0 0 0 425.48 123.64Z" fill="#fcf1cc" stroke="#b0b0b0" stroke-width="0.3"/>
<path d="M426.22 131.55A51.55 51.55 0 0 1 425.07 131.66L424.42 123.99A43.85 43.85 0 0 0 425.40 123.90Z" fill="#b48a00"/>
<path d="M424.75 131.69A51.55 51.55 0 0 1 423.66 131.77L423.21 124.08A43.85 43.85 0 0 0 424.14 124.01Z" fill="#b48a00"/>
<path d="M423.57 131.77A51.55 51.55 0 0 1 422.78 131.81L422.47 124.11A43.85 43.85 0 0 0 423.14 124.08Z" fill="#b48a00"/>
<path d="M422.37 131.82A51.55 51.55 0 0 1 421.39 131.85L421.29 124.15A43.85 43.85 0 0 0 422.12 124.13Z" fill="#b48a00"/>
<path d="M421.01 131.85A51.55 51.55 0 0 1 419.94 131.84L420.05 124.15A43.85 43.85 0 0 0 420.96 124.15Z" fill="#f7d873"/>
<path d="M419.71 131.84A51.55 51.55 0 0 1 418.69 131.81L418.99 124.12A43.85 43.85 0 0 0 419.86 124.14Z" fill="#f4cd4c"/>
<path d="M418.51 131.80A51.55 51.55 0 0 1 417.86 131.77L418.28 124.08A43.85 43.85 0 0 0 418.84 124.11Z" fill="#fbedbf"/>
<path d="M417.77 131.77A51.55 51.55 0 0 1 416.76 131.70L417.34 124.02A43.85 43.85 0 0 0 418.21 124.08Z" fill="#f0b800"/>
<path d="M416.45 131.67A51.55 51.55 0 0 1 415.20 131.56L416.02 123.90A43.85 43.85 0 0 0 417.09 124.00Z" fill="#f2c326"/>
<path d="M414.06 131.42A51.55 51.55 0 0 1 413.49 131.34L414.57 123.72A43.85 43.85 0 0 0 415.05 123.78Z" fill="#f2c326"/>
<text x="419.61" y="136.99" font-size="4.5" text-anchor="middle" fill="#000" transform="rotate(-88.9 419.61 136.99)" dy="1.5">9</text>
<path d="M412.15 131.39A51.8 51.8 0 0 1 400.46 127.98L403.66 120.43A43.6 43.6 0 0 0 413.50 123.30Z" fill="#faf9cc" stroke="#b0b0b0" stroke-width="0.3"/>
<path d="M412.06 131.12A51.55 51.55 0 0 1 411.39 131.00L412.78 123.43A43.85 43.85 0 0 0 413.35 123.53Z" fill="#f7f4a6"/>
<path d="M411.19 130.97A51.55 51.55 0 0 1 410.63 130.86L412.14 123.31A43.85 43.85 0 0 0 412.61 123.40Z" fill="#f7f4a6"/>
<path d="M410.28 130.79A51.55 51.55 0 0 1 409.00 130.51L410.75 123.01A43.85 43.85 0 0 0 411.84 123.25Z" fill="#f1ec66"/>
<path d="M408.93 130.49A51.55 51.55 0 0 1 408.50 130.39L410.32 122.90A43.85 43.85 0 0 0 410.69 122.99Z" fill="#f4f080"/>
<path d="M408.21 130.31A51.55 51.55 0 0 1 407.27 130.07L409.27 122.64A43.85 43.85 0 0 0 410.07 122.84Z" fill="#fdfce6"/>
<path d="M406.91 129.97A51.55 51.55 0 0 1 405.85 129.67L408.07 122.29A43.85 43.85 0 0 0 408.97 122.55Z" fill="#aea800"/>
<path d="M405.72 129.62A51.55 51.55 0 0 1 404.61 129.28L407.02 121.96A43.85 43.85 0 0 0 407.96 122.26Z" fill="#f9f7bf"/>
<path d="M404.60 129.27A51.55 51.55 0 0 1 404.03 129.08L406.52 121.79A43.85 43.85 0 0 0 407.01 121.96Z" fill="#f7f4a6"/>
<path d="M403.77 128.99A51.55 51.55 0 0 1 402.72 128.61L405.40 121.40A43.85 43.85 0 0 0 406.30 121.72Z" fill="#f7f4a6"/>
<path d="M402.54 128.55A51.55 51.55 0 0 1 401.63 128.19L404.48 121.04A43.85 43.85 0 0 0 405.26 121.34Z" fill="#f6f399"/>
<path d="M401.33 128.07A51.55 51.55 0 0 1 400.64 127.79L403.64 120.70A43.85 43.85 0 0 0 404.22 120.94Z" fill="#e8e000"/>
<text x="404.83" y="134.73" font-size="4.5" text-anchor="middle" fill="#000" transform="rotate(-73.8 404.83 134.73)" dy="1.5">10</text>
<path d="M399.63 127.62A51.8 51.8 0 0 1 388.03 120.50L393.20 114.14A43.6 43.6 0 0 0 402.97 120.13Z" fill="#f4f9cc" stroke="#b0b0b0" stroke-width="0.3"/>
<path d="M398.33 126.74A51.55 51.55 0 0 1 397.25 126.21L400.75 119.35A43.85 43.85 0 0 0 401.67 119.81Z" fill="#fafce6"/>
<path d="M396.93 126.04A51.55 51.55 0 0 1 396.42 125.78L400.05 118.98A43.85 43.85 0 0 0 400.48 119.21Z" fill="#deec66"/>
<path d="M396.22 125.67A51.55 51.55 0 0 1 395.86 125.47L399.57 118.72A43.85 43.85 0 0 0 399.88 118.89Z" fill="#e9f399"/>
<path d="M395.50 125.27A51.55 51.55 0 0 1 395.08 125.03L398.91 118.35A43.85 43.85 0 0 0 399.26 118.55Z" fill="#f1f7bf"/>
<path d="M394.77 124.85A51.55 51.55 0 0 1 393.89 124.33L397.90 117.75A43.85 43.85 0 0 0 398.64 118.20Z" fill="#e4f080"/>
<path d="M393.66 124.19A51.55 51.55 0 0 1 392.56 123.49L396.77 117.04A43.85 43.85 0 0 0 397.70 117.63Z" fill="#ecf4a6"/>
<path d="M392.33 123.34A51.55 51.55 0 0 1 391.45 122.74L395.82 116.40A43.85 43.85 0 0 0 396.57 116.91Z" fill="#e4f080"/>
<path d="M391.29 122.64A51.55 51.55 0 0 1 390.26 121.91L394.81 115.69A43.85 43.85 0 0 0 395.68 116.31Z" fill="#ecf4a6"/>
<path d="M389.94 121.67A51.55 51.55 0 0 1 389.07 121.00L393.79 114.92A43.85 43.85 0 0 0 394.53 115.49Z" fill="#ecf4a6"/>
<path d="M388.91 120.88A51.55 51.55 0 0 1 388.26 120.36L393.10 114.38A43.85 43.85 0 0 0 393.66 114.82Z" fill="#96a800"/>
<text x="391.03" y="128.62" font-size="4.5" text-anchor="middle" fill="#000" transform="rotate(-58.4 391.03 128.62)" dy="1.5">11</text>
<path d="M387.33 119.92A51.8 51.8 0 0 1 378.16 109.86L384.90 105.18A43.6 43.6 0 0 0 392.62 113.65Z" fill="#e2f2d6" stroke="#b0b0b0" stroke-width="0.3"/>
<path d="M387.39 119.64A51.55 51.55 0 0 1 386.54 118.91L391.64 113.14A43.85 43.85 0 0 0 392.37 113.77Z" fill="#cce9b7"/>
<path d="M386.33 118.72A51.55 51.55 0 0 1 385.86 118.29L391.06 112.62A43.85 43.85 0 0 0 391.46 112.98Z" fill="#f0f9ea"/>
<path d="M385.62 118.08A51.55 51.55 0 0 1 385.19 117.67L390.50 112.09A43.85 43.85 0 0 0 390.86 112.43Z" fill="#98d36e"/>
<path d="M385.09 117.57A51.55 51.55 0 0 1 384.45 116.95L389.86 111.47A43.85 43.85 0 0 0 390.41 112.00Z" fill="#daefcb"/>
<path d="M384.40 116.90A51.55 51.55 0 0 1 383.88 116.38L389.38 110.99A43.85 43.85 0 0 0 389.82 111.43Z" fill="#daefcb"/>
<path d="M383.66 116.15A51.55 51.55 0 0 1 383.36 115.84L388.94 110.53A43.85 43.85 0 0 0 389.19 110.79Z" fill="#6cc030"/>
<path d="M382.64 115.07A51.55 51.55 0 0 1 382.12 114.49L387.88 109.38A43.85 43.85 0 0 0 388.32 109.87Z" fill="#82c94f"/>
<path d="M381.84 114.17A51.55 51.55 0 0 1 381.59 113.88L387.43 108.87A43.85 43.85 0 0 0 387.64 109.11Z" fill="#82c94f"/>
<path d="M381.48 113.75A51.55 51.55 0 0 1 381.24 113.47L387.14 108.52A43.85 43.85 0 0 0 387.34 108.76Z" fill="#98d36e"/>
<path d="M381.16 113.37A51.55 51.55 0 0 1 380.68 112.80L386.66 107.94A43.85 43.85 0 0 0 387.06 108.43Z" fill="#6cc030"/>
<path d="M380.53 112.61A51.55 51.55 0 0 1 379.86 111.75L385.96 107.05A43.85 43.85 0 0 0 386.53 107.78Z" fill="#82c94f"/>
<path d="M379.61 111.43A51.55 51.55 0 0 1 379.11 110.76L385.32 106.21A43.85 43.85 0 0 0 385.75 106.78Z" fill="#aedc8d"/>
<path d="M378.99 110.60A51.55 51.55 0 0 1 378.77 110.28L385.03 105.80A43.85 43.85 0 0 0 385.22 106.07Z" fill="#98d36e"/>
<path d="M378.59 110.04A51.55 51.55 0 0 1 378.42 109.79L384.74 105.39A43.85 43.85 0 0 0 384.88 105.59Z" fill="#a7d983"/>
<text x="378.80" y="118.50" font-size="4.5" text-anchor="middle" fill="#000" transform="rotate(-42.4 378.80 118.50)" dy="1.5">12</text>
<path d="M377.66 109.12A51.8 51.8 0 0 1 372.67 99.70L380.27 96.63A43.6 43.6 0 0 0 384.47 104.55Z" fill="#d7e6cc" stroke="#b0b0b0" stroke-width="0.3"/>
<path d="M377.79 108.86A51.55 51.55 0 0 1 377.34 108.18L383.81 104.01A43.85 43.85 0 0 0 384.20 104.60Z" fill="#ccdfbf"/>
<path d="M377.10 107.80A51.55 51.55 0 0 1 376.63 107.05L383.22 103.05A43.85 43.85 0 0 0 383.61 103.70Z" fill="#358000"/>
<path d="M376.50 106.82A51.55 51.55 0 0 1 375.98 105.94L382.66 102.11A43.85 43.85 0 0 0 383.10 102.86Z" fill="#ebf2e6"/>
<path d="M375.84 105.69A51.55 51.55 0 0 1 375.60 105.26L382.33 101.53A43.85 43.85 0 0 0 382.54 101.90Z" fill="#b8d3a6"/>
<path d="M375.56 105.19A51.55 51.55 0 0 1 375.26 104.65L382.05 101.01A43.85 43.85 0 0 0 382.30 101.47Z" fill="#72a64c"/>
<path d="M375.22 104.56A51.55 51.55 0 0 1 374.90 103.96L381.74 100.43A43.85 43.85 0 0 0 382.01 100.94Z" fill="#358000"/>
<path d="M374.84 103.85A51.55 51.55 0 0 1 374.26 102.68L381.20 99.34A43.85 43.85 0 0 0 381.69 100.33Z" fill="#358000"/>
<path d="M373.88 101.88A51.55 51.55 0 0 1 373.71 101.50L380.73 98.34A43.85 43.85 0 0 0 380.88 98.65Z" fill="#72a64c"/>
<path d="M373.67 101.41A51.55 51.55 0 0 1 373.50 101.02L380.55 97.92A43.85 43.85 0 0 0 380.70 98.26Z" fill="#286000"/>
<path d="M373.49 101.00A51.55 51.55 0 0 1 373.33 100.64L380.41 97.61A43.85 43.85 0 0 0 380.54 97.91Z" fill="#aecc99"/>
<path d="M373.30 100.56A51.55 51.55 0 0 1 373.15 100.21L380.25 97.24A43.85 43.85 0 0 0 380.38 97.54Z" fill="#ccdfbf"/>
<path d="M373.11 100.11A51.55 51.55 0 0 1 372.94 99.69L380.07 96.80A43.85 43.85 0 0 0 380.22 97.15Z" fill="#ebf2e6"/>
<text x="370.59" y="106.83" font-size="4.5" text-anchor="middle" fill="#000" transform="rotate(-27.9 370.59 106.83)" dy="1.5">13</text>
<path d="M372.34 98.86A51.8 51.8 0 0 1 369.54 88.40L377.64 87.12A43.6 43.6 0 0 0 380.00 95.92Z" fill="#dad7f0" stroke="#b0b0b0" stroke-width="0.3"/>
<path d="M372.53 98.65A51.55 51.55 0 0 1 372.32 98.11L379.55 95.45A43.85 43.85 0 0 0 379.72 95.91Z" fill="#8f88d2"/>
<path d="M372.28 98.00A51.55 51.55 0 0 1 372.04 97.32L379.31 94.78A43.85 43.85 0 0 0 379.52 95.36Z" fill="#6056bf"/>
<path d="M371.95 97.06A51.55 51.55 0 0 1 371.60 96.02L378.94 93.67A43.85 43.85 0 0 0 379.23 94.56Z" fill="#ecebf8"/>
<path d="M371.50 95.68A51.55 51.55 0 0 1 371.35 95.18L378.72 92.96A43.85 43.85 0 0 0 378.85 93.38Z" fill="#9892d6"/>
<path d="M371.33 95.14A51.55 51.55 0 0 1 371.22 94.77L378.61 92.61A43.85 43.85 0 0 0 378.71 92.92Z" fill="#9892d6"/>
<path d="M371.15 94.52A51.55 51.55 0 0 1 370.82 93.30L378.27 91.36A43.85 43.85 0 0 0 378.55 92.39Z" fill="#4438b4"/>
<path d="M370.77 93.13A51.55 51.55 0 0 1 370.52 92.10L378.01 90.33A43.85 43.85 0 0 0 378.23 91.22Z" fill="#ecebf8"/>
<path d="M370.46 91.84A51.55 51.55 0 0 1 370.21 90.68L377.75 89.13A43.85 43.85 0 0 0 377.96 90.11Z" fill="#b4afe1"/>
<path d="M370.20 90.64A51.55 51.55 0 0 1 369.98 89.53L377.56 88.15A43.85 43.85 0 0 0 377.74 89.09Z" fill="#332a87"/>
<path d="M369.94 89.27A51.55 51.55 0 0 1 369.85 88.79L377.45 87.52A43.85 43.85 0 0 0 377.52 87.93Z" fill="#6056bf"/>
<text x="365.93" y="94.98" font-size="4.5" text-anchor="middle" fill="#000" transform="rotate(-15.0 365.93 94.98)" dy="1.5">14</text>
<path d="M369.40 87.51A51.8 51.8 0 0 1 368.97 77.59L377.16 78.02A43.6 43.6 0 0 0 377.52 86.37Z" fill="#e2e9fa" stroke="#b0b0b0" stroke-width="0.3"/>
<path d="M369.63 87.34A51.55 51.55 0 0 1 369.54 86.64L377.18 85.70A43.85 43.85 0 0 0 377.26 86.29Z" fill="#6f8fe8"/>
<path d="M369.51 86.35A51.55 51.55 0 0 1 369.46 85.92L377.11 85.08A43.85 43.85 0 0 0 377.15 85.44Z" fill="#536bae"/>
<path d="M369.44 85.77A51.55 51.55 0 0 1 369.33 84.57L377.00 83.94A43.85 43.85 0 0 0 377.10 84.95Z" fill="#cdd8f7"/>
<path d="M369.32 84.53A51.55 51.55 0 0 1 369.23 83.22L376.92 82.78A43.85 43.85 0 0 0 377.00 83.90Z" fill="#536bae"/>
<path d="M369.21 82.82A51.55 51.55 0 0 1 369.18 82.00L376.87 81.75A43.85 43.85 0 0 0 376.90 82.44Z" fill="#dbe3f9"/>
<path d="M369.17 81.81A51.55 51.55 0 0 1 369.15 80.72L376.85 80.66A43.85 43.85 0 0 0 376.87 81.58Z" fill="#536bae"/>
<path d="M369.15 80.60A51.55 51.55 0 0 1 369.16 79.44L376.86 79.57A43.85 43.85 0 0 0 376.85 80.56Z" fill="#b7c7f4"/>
<path d="M369.16 79.09A51.55 51.55 0 0 1 369.19 78.27L376.88 78.58A43.85 43.85 0 0 0 376.86 79.27Z" fill="#a9bcf1"/>
<path d="M369.20 78.01A51.55 51.55 0 0 1 369.22 77.69L376.91 78.08A43.85 43.85 0 0 0 376.89 78.35Z" fill="#c5d2f6"/>
<text x="364.05" y="82.77" font-size="4.5" text-anchor="middle" fill="#000" transform="rotate(-2.5 364.05 82.77)" dy="1.5">15</text>
<path d="M369.03 76.69A51.8 51.8 0 0 1 370.40 67.94L378.36 69.90A43.6 43.6 0 0 0 377.21 77.26Z" fill="#ebf5ff" stroke="#b0b0b0" stroke-width="0.3"/>
<path d="M369.29 76.57A51.55 51.55 0 0 1 369.32 76.13L376.99 76.75A43.85 43.85 0 0 0 376.96 77.13Z" fill="#dbedff"/>
<path d="M369.33 76.02A51.55 51.55 0 0 1 369.40 75.20L377.07 75.96A43.85 43.85 0 0 0 377.00 76.66Z" fill="#a8d4ff"/>
<path d="M369.43 74.90A51.55 51.55 0 0 1 369.51 74.21L377.16 75.12A43.85 43.85 0 0 0 377.09 75.71Z" fill="#dbedff"/>
<path d="M369.56 73.83A51.55 51.55 0 0 1 369.63 73.30L377.26 74.34A43.85 43.85 0 0 0 377.20 74.80Z" fill="#d6ebff"/>
<path d="M369.65 73.14A51.55 51.55 0 0 1 369.74 72.53L377.35 73.69A43.85 43.85 0 0 0 377.28 74.21Z" fill="#c7e3ff"/>
<path d="M369.80 72.14A51.55 51.55 0 0 1 369.98 71.10L377.55 72.47A43.85 43.85 0 0 0 377.40 73.36Z" fill="#c7e3ff"/>
<path d="M370.02 70.85A51.55 51.55 0 0 1 370.19 70.00L377.73 71.54A43.85 43.85 0 0 0 377.59 72.26Z" fill="#d6ebff"/>
<path d="M370.20 69.96A51.55 51.55 0 0 1 370.42 68.91L377.93 70.61A43.85 43.85 0 0 0 377.74 71.51Z" fill="#dbedff"/>
<path d="M370.48 68.67A51.55 51.55 0 0 1 370.62 68.09L378.10 69.91A43.85 43.85 0 0 0 377.98 70.41Z" fill="#dbedff"/>
<text x="364.68" y="71.53" font-size="4.5" text-anchor="middle" fill="#000" transform="rotate(8.9 364.68 71.53)" dy="1.5">16</text>
<path d="M370.62 67.07A51.8 51.8 0 0 1 374.02 57.84L381.41 61.39A43.6 43.6 0 0 0 378.55 69.16Z" fill="#def4f8" stroke="#b0b0b0" stroke-width="0.3"/>
<path d="M371.13 66.15A51.55 51.55 0 0 1 371.29 65.59L378.67 67.79A43.85 43.85 0 0 0 378.54 68.26Z" fill="#9bdeea"/>
<path d="M371.32 65.48A51.55 51.55 0 0 1 371.63 64.51L378.96 66.87A43.85 43.85 0 0 0 378.70 67.70Z" fill="#8ad8e6"/>
<path d="M371.69 64.31A51.55 51.55 0 0 1 371.97 63.47L379.25 65.99A43.85 43.85 0 0 0 379.01 66.70Z" fill="#58c8dc"/>
<path d="M372.12 63.05A51.55 51.55 0 0 1 372.43 62.20L379.64 64.90A43.85 43.85 0 0 0 379.38 65.63Z" fill="#8ad8e6"/>
<path d="M372.54 61.90A51.55 51.55 0 0 1 372.77 61.32L379.93 64.15A43.85 43.85 0 0 0 379.74 64.65Z" fill="#a3e1ec"/>
<path d="M372.81 61.22A51.55 51.55 0 0 1 373.22 60.23L380.31 63.23A43.85 43.85 0 0 0 379.96 64.07Z" fill="#8ad8e6"/>
<path d="M373.24 60.18A51.55 51.55 0 0 1 373.59 59.36L380.63 62.49A43.85 43.85 0 0 0 380.33 63.18Z" fill="#9bdeea"/>
<path d="M373.63 59.29A51.55 51.55 0 0 1 373.86 58.76L380.86 61.98A43.85 43.85 0 0 0 380.66 62.43Z" fill="#c5ecf3"/>
<path d="M373.92 58.65A51.55 51.55 0 0 1 374.21 58.03L381.15 61.35A43.85 43.85 0 0 0 380.90 61.88Z" fill="#ace4ee"/>
<text x="367.50" y="60.68" font-size="4.5" text-anchor="middle" fill="#000" transform="rotate(20.2 367.50 60.68)" dy="1.5">17</text>
<path d="M374.42 57.03A51.8 51.8 0 0 1 378.01 50.96L384.77 55.60A43.6 43.6 0 0 0 381.75 60.71Z" fill="#ecf9f9" stroke="#b0b0b0" stroke-width="0.3"/>
<path d="M374.71 57.02A51.55 51.55 0 0 1 375.32 55.84L382.10 59.49A43.85 43.85 0 0 0 381.58 60.49Z" fill="#d9f3f3"/>
<path d="M375.39 55.72A51.55 51.55 0 0 1 375.73 55.09L382.45 58.86A43.85 43.85 0 0 0 382.16 59.39Z" fill="#cbeeee"/>
<path d="M375.74 55.09A51.55 51.55 0 0 1 376.18 54.32L382.83 58.20A43.85 43.85 0 0 0 382.45 58.85Z" fill="#cbeeee"/>
<path d="M376.19 54.30A51.55 51.55 0 0 1 376.40 53.94L383.02 57.88A43.85 43.85 0 0 0 382.84 58.18Z" fill="#cbeeee"/>
<path d="M376.56 53.67A51.55 51.55 0 0 1 376.81 53.26L383.37 57.30A43.85 43.85 0 0 0 383.15 57.65Z" fill="#def4f4"/>
<path d="M376.84 53.22A51.55 51.55 0 0 1 377.03 52.90L383.56 57.00A43.85 43.85 0 0 0 383.39 57.26Z" fill="#cbeeee"/>
<path d="M377.15 52.73A51.55 51.55 0 0 1 377.58 52.06L384.02 56.27A43.85 43.85 0 0 0 383.65 56.84Z" fill="#e7f7f7"/>
<path d="M377.82 51.69A51.55 51.55 0 0 1 378.16 51.19L384.51 55.54A43.85 43.85 0 0 0 384.22 55.97Z" fill="#def4f4"/>
<text x="371.90" y="51.44" font-size="4.5" text-anchor="middle" fill="#000" transform="rotate(30.6 371.90 51.44)" dy="1.5">18</text>
<path d="M378.53 50.22A51.8 51.8 0 0 1 381.90 45.98L388.05 51.41A43.6 43.6 0 0 0 385.20 54.98Z" fill="#ebccf5" stroke="#b0b0b0" stroke-width="0.3"/>
<path d="M378.81 50.25A51.55 51.55 0 0 1 379.06 49.91L385.28 54.45A43.85 43.85 0 0 0 385.07 54.74Z" fill="#dba6ed"/>
<path d="M379.71 49.04A51.55 51.55 0 0 1 380.42 48.13L386.44 52.93A43.85 43.85 0 0 0 385.83 53.71Z" fill="#c773e3"/>
<path d="M380.45 48.10A51.55 51.55 0 0 1 380.83 47.62L386.78 52.51A43.85 43.85 0 0 0 386.46 52.91Z" fill="#cc80e6"/>
<path d="M381.05 47.36A51.55 51.55 0 0 1 381.67 46.63L387.50 51.66A43.85 43.85 0 0 0 386.97 52.28Z" fill="#a826d4"/>
<path d="M381.73 46.55A51.55 51.55 0 0 1 382.03 46.21L387.81 51.30A43.85 43.85 0 0 0 387.55 51.59Z" fill="#dba6ed"/>
<text x="376.33" y="45.00" font-size="4.5" text-anchor="middle" fill="#000" transform="rotate(38.5 376.33 45.00)" dy="1.5">19</text>
<path d="M382.51 45.30A51.8 51.8 0 0 1 386.72 41.21L392.10 47.39A43.6 43.6 0 0 0 388.55 50.84Z" fill="#efd9f9" stroke="#b0b0b0" stroke-width="0.3"/>
<path d="M382.78 45.37A51.55 51.55 0 0 1 383.23 44.90L388.83 50.18A43.85 43.85 0 0 0 388.45 50.59Z" fill="#bc5de5"/>
<path d="M383.54 44.57A51.55 51.55 0 0 1 384.00 44.10L389.48 49.51A43.85 43.85 0 0 0 389.09 49.91Z" fill="#bc5de5"/>
<path d="M384.02 44.08A51.55 51.55 0 0 1 384.95 43.16L390.29 48.71A43.85 43.85 0 0 0 389.50 49.49Z" fill="#f7ecfc"/>
<path d="M385.26 42.86A51.55 51.55 0 0 1 385.67 42.48L390.90 48.13A43.85 43.85 0 0 0 390.55 48.46Z" fill="#dfb3f3"/>
<path d="M385.76 42.40A51.55 51.55 0 0 1 386.08 42.10L391.26 47.81A43.85 43.85 0 0 0 390.98 48.06Z" fill="#dfb3f3"/>
<path d="M386.60 41.64A51.55 51.55 0 0 1 386.81 41.45L391.87 47.26A43.85 43.85 0 0 0 391.70 47.41Z" fill="#e3bcf4"/>
<text x="381.14" y="39.69" font-size="4.5" text-anchor="middle" fill="#000" transform="rotate(45.8 381.14 39.69)" dy="1.5">20</text>
<path d="M387.40 40.62A51.8 51.8 0 0 1 391.36 37.61L396.00 44.37A43.6 43.6 0 0 0 392.67 46.90Z" fill="#f2e9fc" stroke="#b0b0b0" stroke-width="0.3"/>
<path d="M387.67 40.72A51.55 51.55 0 0 1 388.12 40.35L392.99 46.32A43.85 43.85 0 0 0 392.60 46.64Z" fill="#d9bcf6"/>
<path d="M388.22 40.27A51.55 51.55 0 0 1 389.17 39.52L393.88 45.61A43.85 43.85 0 0 0 393.07 46.25Z" fill="#f9f4fe"/>
<path d="M389.41 39.33A51.55 51.55 0 0 1 390.44 38.57L394.96 44.80A43.85 43.85 0 0 0 394.09 45.45Z" fill="#906cb4"/>
<path d="M390.65 38.41A51.55 51.55 0 0 1 391.43 37.87L395.80 44.21A43.85 43.85 0 0 0 395.14 44.67Z" fill="#e6d3f9"/>
<text x="386.38" y="35.17" font-size="4.5" text-anchor="middle" fill="#000" transform="rotate(52.8 386.38 35.17)" dy="1.5">21</text>
<path d="M392.11 37.10A51.8 51.8 0 0 1 396.78 34.35L400.57 41.63A43.6 43.6 0 0 0 396.64 43.94Z" fill="#e0e0e0" stroke="#b0b0b0" stroke-width="0.3"/>
<path d="M392.36 37.24A51.55 51.55 0 0 1 393.12 36.75L397.24 43.26A43.85 43.85 0 0 0 396.59 43.67Z" fill="#8c8c8c"/>
<path d="M393.17 36.72A51.55 51.55 0 0 1 393.70 36.39L397.73 42.95A43.85 43.85 0 0 0 397.28 43.23Z" fill="#d9d9d9"/>
<path d="M393.73 36.37A51.55 51.55 0 0 1 394.18 36.10L398.14 42.70A43.85 43.85 0 0 0 397.76 42.93Z" fill="#ababab"/>
<path d="M394.41 35.96A51.55 51.55 0 0 1 395.42 35.37L399.20 42.08A43.85 43.85 0 0 0 398.33 42.58Z" fill="#ababab"/>
<path d="M395.60 35.28A51.55 51.55 0 0 1 396.32 34.88L399.96 41.66A43.85 43.85 0 0 0 399.35 42.00Z" fill="#ababab"/>
<path d="M396.60 34.73A51.55 51.55 0 0 1 396.82 34.62L400.38 41.44A43.85 43.85 0 0 0 400.20 41.54Z" fill="#b2b2b2"/>
<text x="391.92" y="31.45" font-size="4.5" text-anchor="middle" fill="#000" transform="rotate(59.5 391.92 31.45)" dy="1.5">22</text>
<path d="M397.59 33.94A51.8 51.8 0 0 1 412.15 29.21L413.50 37.30A43.6 43.6 0 0 0 401.25 41.28Z" fill="#e7e7e7" stroke="#b0b0b0" stroke-width="0.3"/>
<path d="M397.82 34.11A51.55 51.55 0 0 1 398.53 33.76L401.84 40.71A43.85 43.85 0 0 0 401.24 41.01Z" fill="#a6a6a6"/>
<path d="M398.55 33.75A51.55 51.55 0 0 1 399.26 33.42L402.46 40.42A43.85 43.85 0 0 0 401.86 40.70Z" fill="#acacac"/>
<path d="M399.51 33.31A51.55 51.55 0 0 1 399.86 33.15L402.97 40.19A43.85 43.85 0 0 0 402.68 40.33Z" fill="#cfcfcf"/>
<path d="M400.26 32.98A51.55 51.55 0 0 1 401.35 32.52L404.24 39.66A43.85 43.85 0 0 0 403.31 40.04Z" fill="#a6a6a6"/>
<path d="M401.60 32.42A51.55 51.55 0 0 1 401.95 32.28L404.75 39.45A43.85 43.85 0 0 0 404.45 39.57Z" fill="#a6a6a6"/>
<path d="M402.30 32.15A51.55 51.55 0 0 1 403.17 31.82L405.79 39.06A43.85 43.85 0 0 0 405.05 39.34Z" fill="#e1e1e1"/>
<path d="M403.37 31.75A51.55 51.55 0 0 1 404.32 31.42L406.76 38.72A43.85 43.85 0 0 0 405.96 39.00Z" fill="#bebebe"/>
<path d="M404.40 31.40A51.55 51.55 0 0 1 405.29 31.11L407.59 38.46A43.85 43.85 0 0 0 406.83 38.70Z" fill="#a6a6a6"/>
<path d="M405.64 31.00A51.55 51.55 0 0 1 406.90 30.63L408.97 38.05A43.85 43.85 0 0 0 407.89 38.36Z" fill="#d5d5d5"/>
<path d="M407.06 30.59A51.55 51.55 0 0 1 407.72 30.41L409.66 37.86A43.85 43.85 0 0 0 409.09 38.01Z" fill="#a6a6a6"/>
<path d="M407.77 30.40A51.55 51.55 0 0 1 408.27 30.27L410.13 37.74A43.85 43.85 0 0 0 409.70 37.85Z" fill="#a6a6a6"/>
<path d="M408.57 30.20A51.55 51.55 0 0 1 409.20 30.05L410.92 37.55A43.85 43.85 0 0 0 410.39 37.68Z" fill="#a6a6a6"/>
<path d="M409.56 29.97A51.55 51.55 0 0 1 410.44 29.78L411.98 37.33A43.85 43.85 0 0 0 411.22 37.49Z" fill="#d5d5d5"/>
<path d="M410.48 29.77A51.55 51.55 0 0 1 411.08 29.66L412.52 37.22A43.85 43.85 0 0 0 412.01 37.32Z" fill="#f3f3f3"/>
<path d="M411.51 29.58A51.55 51.55 0 0 1 412.10 29.47L413.39 37.06A43.85 43.85 0 0 0 412.88 37.15Z" fill="#c4c4c4"/>
<text x="403.18" y="26.38" font-size="4.5" text-anchor="middle" fill="#000" transform="rotate(72.0 403.18 26.38)" dy="1.5">X</text>
<path d="M413.04 29.07A51.8 51.8 0 0 1 418.44 28.55L418.80 36.74A43.6 43.6 0 0 0 414.26 37.18Z" fill="#f2f2f2" stroke="#b0b0b0" stroke-width="0.3"/>
<path d="M413.21 29.30A51.55 51.55 0 0 1 413.57 29.25L414.64 36.87A43.85 43.85 0 0 0 414.33 36.91Z" fill="#e0e0e0"/>
<path d="M413.78 29.22A51.55 51.55 0 0 1 414.19 29.16L415.16 36.80A43.85 43.85 0 0 0 414.81 36.85Z" fill="#e0e0e0"/>
<path d="M414.35 29.14A51.55 51.55 0 0 1 415.45 29.02L416.23 36.68A43.85 43.85 0 0 0 415.30 36.78Z" fill="#d0d0d0"/>
<path d="M415.65 29.00A51.55 51.55 0 0 1 416.06 28.96L416.75 36.63A43.85 43.85 0 0 0 416.40 36.66Z" fill="#dcdcdc"/>
<path d="M416.30 28.94A51.55 51.55 0 0 1 417.58 28.84L418.04 36.53A43.85 43.85 0 0 0 416.96 36.61Z" fill="#e9e9e9"/>
<text x="415.27" y="23.86" font-size="4.5" text-anchor="middle" fill="#000" transform="rotate(84.5 415.27 23.86)" dy="1.5">Y</text>
<path d="M378.38 87.91Q419.20 80.30 390.67 49.53" fill="none" stroke="#d24a2c" stroke-width="0.85"/>
<path d="M378.38 87.91Q419.20 80.30 378.61 71.51" fill="none" stroke="#d24a2c" stroke-width="0.85"/>
<path d="M378.38 87.91Q419.20 80.30 397.79 116.69" fill="none" stroke="#d24a2c" stroke-width="0.85"/>
<text x="409.20" y="64.63" font-size="5.1" fill="#222"><tspan font-style="italic">IGH/MAFB</tspan> (EP8)</text>
<text x="404.20" y="83.33" font-size="5.1" fill="#222"><tspan font-style="italic">IGH/MAF</tspan> (EP11)</text>
<text x="410.90" y="100.63" font-size="5.1" fill="#222"><tspan font-style="italic">IGH/CCND1</tspan></text>
<text x="411.80" y="108.03" font-size="5.1" fill="#222"><tspan font-style="italic"></tspan>(EP2 &amp; EP4)</text>
<rect x="378.75" y="208.75" width="71.22" height="327.93" fill="#fff"/>
<path d="M378.75 208.75V536.68M385.23 208.75V536.68M391.70 208.75V536.68M398.18 208.75V536.68M404.65 208.75V536.68M411.12 208.75V536.68M417.60 208.75V536.68M424.07 208.75V536.68M430.55 208.75V536.68M437.02 208.75V536.68M443.50 208.75V536.68M449.98 208.75V536.68M378.75 208.75H449.98M378.75 215.18H449.98M378.75 221.61H449.98M378.75 228.04H449.98M378.75 234.47H449.98M378.75 240.90H449.98M378.75 247.33H449.98M378.75 253.76H449.98M378.75 260.19H449.98M378.75 266.62H449.98M378.75 273.05H449.98M378.75 279.48H449.98M378.75 285.91H449.98M378.75 292.34H449.98M378.75 298.77H449.98M378.75 305.20H449.98M378.75 311.63H449.98M378.75 318.06H449.98M378.75 324.49H449.98M378.75 330.92H449.98M378.75 337.35H449.98M378.75 343.78H449.98M378.75 350.21H449.98M378.75 356.64H449.98M378.75 363.07H449.98M378.75 369.50H449.98M378.75 375.93H449.98M378.75 382.36H449.98M378.75 388.79H449.98M378.75 395.22H449.98M378.75 401.65H449.98M378.75 408.08H449.98M378.75 414.51H449.98M378.75 420.94H449.98M378.75 427.37H449.98M378.75 433.80H449.98M378.75 440.23H449.98M378.75 446.66H449.98M378.75 453.09H449.98M378.75 459.52H449.98M378.75 465.95H449.98M378.75 472.38H449.98M378.75 478.81H449.98M378.75 485.24H449.98M378.75 491.67H449.98M378.75 498.10H449.98M378.75 504.53H449.98M378.75 510.96H449.98M378.75 517.39H449.98M378.75 523.82H449.98M378.75 530.25H449.98M378.75 536.68H449.98" stroke="#c2c2c2" stroke-width="0.5" fill="none"/>
<rect x="437.22" y="208.85" width="6.07" height="6.23" fill="#7b1a15"/>
<rect x="443.70" y="208.85" width="6.07" height="6.23" fill="#7b1a15"/>
<rect x="437.22" y="215.28" width="6.07" height="6.23" fill="#7b1a15"/>
<rect x="443.70" y="215.28" width="6.07" height="6.23" fill="#7b1a15"/>
<rect x="437.22" y="221.71" width="6.07" height="6.23" fill="#7b1a15"/>
<rect x="443.70" y="221.71" width="6.07" height="6.23" fill="#7b1a15"/>
<rect x="437.22" y="228.14" width="6.07" height="6.23" fill="#7b1a15"/>
<rect x="443.70" y="228.14" width="6.07" height="6.23" fill="#7b1a15"/>
<rect x="437.22" y="234.57" width="6.07" height="6.23" fill="#7b1a15"/>
<rect x="443.70" y="234.57" width="6.07" height="6.23" fill="#7b1a15"/>
<rect x="437.22" y="241.00" width="6.07" height="6.23" fill="#7b1a15"/>
<rect x="443.70" y="241.00" width="6.07" height="6.23" fill="#7b1a15"/>
<rect x="437.22" y="247.43" width="6.07" height="6.23" fill="#7b1a15"/>
<rect x="443.70" y="247.43" width="6.07" height="6.23" fill="#7b1a15"/>
<rect x="437.22" y="253.86" width="6.07" height="6.23" fill="#7b1a15"/>
<rect x="443.70" y="253.86" width="6.07" height="6.23" fill="#7b1a15"/>
<rect x="378.95" y="260.29" width="6.07" height="6.23" fill="#7b1a15"/>
<rect x="437.22" y="260.29" width="6.07" height="6.23" fill="#7b1a15"/>
<rect x="443.70" y="260.29" width="6.07" height="6.23" fill="#7b1a15"/>
<rect x="437.22" y="266.72" width="6.07" height="6.23" fill="#7b1a15"/>
<rect x="437.22" y="273.15" width="6.07" height="6.23" fill="#7b1a15"/>
<rect x="437.22" y="279.58" width="6.07" height="6.23" fill="#7b1a15"/>
<rect x="437.22" y="286.01" width="6.07" height="6.23" fill="#7b1a15"/>
<rect x="437.22" y="292.44" width="6.07" height="6.23" fill="#111111"/>
<rect x="437.22" y="298.87" width="6.07" height="6.23" fill="#7b1a15"/>
<rect x="437.22" y="305.30" width="6.07" height="6.23" fill="#7b1a15"/>
<rect x="443.70" y="311.73" width="6.07" height="6.23" fill="#7b1a15"/>
<rect x="443.70" y="318.16" width="6.07" height="6.23" fill="#7b1a15"/>
<rect x="378.95" y="324.59" width="6.07" height="6.23" fill="#27348b"/>
<rect x="404.85" y="324.59" width="6.07" height="6.23" fill="#27348b"/>
<rect x="437.22" y="324.59" width="6.07" height="6.23" fill="#27348b"/>
<rect x="378.95" y="331.02" width="6.07" height="6.23" fill="#27348b"/>
<rect x="417.80" y="331.02" width="6.07" height="6.23" fill="#27348b"/>
<rect x="378.95" y="337.45" width="6.07" height="6.23" fill="#27348b"/>
<rect x="443.70" y="337.45" width="6.07" height="6.23" fill="#27348b"/>
<rect x="378.95" y="343.88" width="6.07" height="6.23" fill="#7b1a15"/>
<rect x="378.95" y="350.31" width="6.07" height="6.23" fill="#111111"/>
<rect x="378.95" y="356.74" width="6.07" height="6.23" fill="#111111"/>
<rect x="378.95" y="363.17" width="6.07" height="6.23" fill="#111111"/>
<rect x="378.95" y="369.60" width="6.07" height="6.23" fill="#f4e41c"/>
<rect x="404.85" y="376.03" width="6.07" height="6.23" fill="#27348b"/>
<rect x="417.80" y="376.03" width="6.07" height="6.23" fill="#27348b"/>
<rect x="404.85" y="382.46" width="6.07" height="6.23" fill="#27348b"/>
<rect x="417.80" y="382.46" width="6.07" height="6.23" fill="#27348b"/>
<rect x="404.85" y="388.89" width="6.07" height="6.23" fill="#111111"/>
<rect x="411.32" y="388.89" width="6.07" height="6.23" fill="#111111"/>
<rect x="417.80" y="388.89" width="6.07" height="6.23" fill="#111111"/>
<rect x="443.70" y="388.89" width="6.07" height="6.23" fill="#111111"/>
<rect x="404.85" y="395.32" width="6.07" height="6.23" fill="#27348b"/>
<rect x="404.85" y="401.75" width="6.07" height="6.23" fill="#27348b"/>
<rect x="404.85" y="408.18" width="6.07" height="6.23" fill="#27348b"/>
<rect x="404.85" y="414.61" width="6.07" height="6.23" fill="#f4e41c"/>
<rect x="424.27" y="414.61" width="6.07" height="6.23" fill="#f4e41c"/>
<rect x="385.43" y="421.04" width="6.07" height="6.23" fill="#27348b"/>
<rect x="391.90" y="421.04" width="6.07" height="6.23" fill="#27348b"/>
<rect x="404.85" y="421.04" width="6.07" height="6.23" fill="#27348b"/>
<rect x="437.22" y="421.04" width="6.07" height="6.23" fill="#27348b"/>
<rect x="385.43" y="427.47" width="6.07" height="6.23" fill="#111111"/>
<rect x="404.85" y="427.47" width="6.07" height="6.23" fill="#111111"/>
<rect x="411.32" y="427.47" width="6.07" height="6.23" fill="#111111"/>
<rect x="411.32" y="433.90" width="6.07" height="6.23" fill="#111111"/>
<rect x="378.95" y="440.33" width="6.07" height="6.23" fill="#27348b"/>
<rect x="385.43" y="440.33" width="6.07" height="6.23" fill="#27348b"/>
<rect x="391.90" y="440.33" width="6.07" height="6.23" fill="#27348b"/>
<rect x="398.38" y="440.33" width="6.07" height="6.23" fill="#27348b"/>
<rect x="417.80" y="440.33" width="6.07" height="6.23" fill="#27348b"/>
<rect x="417.80" y="446.76" width="6.07" height="6.23" fill="#7b1a15"/>
<rect x="424.27" y="446.76" width="6.07" height="6.23" fill="#7b1a15"/>
<rect x="417.80" y="453.19" width="6.07" height="6.23" fill="#111111"/>
<rect x="424.27" y="453.19" width="6.07" height="6.23" fill="#111111"/>
<rect x="417.80" y="459.62" width="6.07" height="6.23" fill="#111111"/>
<rect x="417.80" y="466.05" width="6.07" height="6.23" fill="#111111"/>
<rect x="417.80" y="472.48" width="6.07" height="6.23" fill="#111111"/>
<rect x="417.80" y="478.91" width="6.07" height="6.23" fill="#111111"/>
<rect x="417.80" y="485.34" width="6.07" height="6.23" fill="#111111"/>
<rect x="417.80" y="491.77" width="6.07" height="6.23" fill="#f4e41c"/>
<rect x="385.43" y="498.20" width="6.07" height="6.23" fill="#111111"/>
<rect x="424.27" y="498.20" width="6.07" height="6.23" fill="#111111"/>
<rect x="424.27" y="504.63" width="6.07" height="6.23" fill="#111111"/>
<rect x="424.27" y="511.06" width="6.07" height="6.23" fill="#111111"/>
<rect x="398.38" y="517.49" width="6.07" height="6.23" fill="#111111"/>
<rect x="430.75" y="517.49" width="6.07" height="6.23" fill="#111111"/>
<rect x="424.27" y="523.92" width="6.07" height="6.23" fill="#111111"/>
<rect x="430.75" y="523.92" width="6.07" height="6.23" fill="#111111"/>
<rect x="430.75" y="530.35" width="6.07" height="6.23" fill="#111111"/>
<text x="453.20" y="214.03" font-size="5.5" fill="#111">3p</text>
<text x="453.20" y="220.46" font-size="5.5" fill="#111">3q</text>
<text x="453.20" y="226.89" font-size="5.5" fill="#111">5p</text>
<text x="453.20" y="233.32" font-size="5.5" fill="#111">5q</text>
<text x="453.20" y="239.75" font-size="5.5" fill="#111">9p gain</text>
<text x="453.20" y="246.18" font-size="5.5" fill="#111">11q</text>
<text x="453.20" y="252.61" font-size="5.5" fill="#111">15q</text>
<text x="453.20" y="259.04" font-size="5.5" fill="#111">19p</text>
<text x="453.20" y="265.47" font-size="5.5" fill="#111">9q</text>
<text x="453.20" y="271.90" font-size="5.5" fill="#111">7q</text>
<text x="453.20" y="278.33" font-size="5.5" fill="#111">7p</text>
<text x="453.20" y="284.76" font-size="5.5" fill="#111">2p</text>
<text x="453.20" y="291.19" font-size="5.5" fill="#111">2q</text>
<text x="453.20" y="297.62" font-size="5.5" fill="#111">MAML2</text>
<text x="453.20" y="304.05" font-size="5.5" fill="#111">18q</text>
<text x="453.20" y="310.48" font-size="5.5" fill="#111">18p</text>
<text x="453.20" y="316.91" font-size="5.5" fill="#111">11p</text>
<text x="453.20" y="323.34" font-size="5.5" fill="#111">19q</text>
<text x="453.20" y="329.77" font-size="5.5" fill="#111">16q</text>
<text x="453.20" y="336.20" font-size="5.5" fill="#111">9p loss</text>
<text x="453.20" y="342.63" font-size="5.5" fill="#111">8p</text>
<text x="453.20" y="349.06" font-size="5.5" fill="#111">8q</text>
<text x="453.20" y="355.49" font-size="5.5" fill="#111">ATM</text>
<text x="453.20" y="361.92" font-size="5.5" fill="#111">FAM46C</text>
<text x="453.20" y="368.35" font-size="5.5" fill="#111">NRAS</text>
<text x="453.20" y="374.78" font-size="5.5" fill="#111">t(14;16) - IGH/MAF</text>
<text x="453.20" y="381.21" font-size="5.5" fill="#111">4p</text>
<text x="453.20" y="387.64" font-size="5.5" fill="#111">4q</text>
<text x="453.20" y="394.07" font-size="5.5" fill="#111">KRAS</text>
<text x="453.20" y="400.50" font-size="5.5" fill="#111">1p</text>
<text x="453.20" y="406.93" font-size="5.5" fill="#111">1q loss</text>
<text x="453.20" y="413.36" font-size="5.5" fill="#111">16p</text>
<text x="453.20" y="419.79" font-size="5.5" fill="#111">t(11;14) - IGH/CCND1</text>
<text x="453.20" y="426.22" font-size="5.5" fill="#111">14q</text>
<text x="453.20" y="432.65" font-size="5.5" fill="#111">TRAF3</text>
<text x="453.20" y="439.08" font-size="5.5" fill="#111">HIST1H1E</text>
<text x="453.20" y="445.51" font-size="5.5" fill="#111">13q</text>
<text x="453.20" y="451.94" font-size="5.5" fill="#111">1q gain</text>
<text x="453.20" y="458.37" font-size="5.5" fill="#111">TET2</text>
<text x="453.20" y="464.80" font-size="5.5" fill="#111">CREBBP</text>
<text x="453.20" y="471.23" font-size="5.5" fill="#111">DIS3</text>
<text x="453.20" y="477.66" font-size="5.5" fill="#111">KMT2C</text>
<text x="453.20" y="484.09" font-size="5.5" fill="#111">PRDM1</text>
<text x="453.20" y="490.52" font-size="5.5" fill="#111">RB1</text>
<text x="453.20" y="496.95" font-size="5.5" fill="#111">t(14;20) - IGH/MAFB</text>
<text x="453.20" y="503.38" font-size="5.5" fill="#111">BRAF</text>
<text x="453.20" y="509.81" font-size="5.5" fill="#111">ARID1A</text>
<text x="453.20" y="516.24" font-size="5.5" fill="#111">MAX</text>
<text x="453.20" y="522.67" font-size="5.5" fill="#111">NFKBIA</text>
<text x="453.20" y="529.10" font-size="5.5" fill="#111">TP53</text>
<text x="453.20" y="535.53" font-size="5.5" fill="#111">UBR5</text>
<rect x="378.75" y="193.70" width="13.10" height="5.90" fill="#cc1a84"/>
<rect x="391.70" y="193.70" width="19.57" height="5.90" fill="#6cb0e6"/>
<rect x="411.12" y="193.70" width="19.57" height="5.90" fill="#cc1a84"/>
<rect x="430.55" y="193.70" width="19.42" height="5.90" fill="#6cb0e6"/>
<rect x="378.75" y="200.00" width="6.62" height="5.80" fill="#4f9a45"/>
<rect x="385.23" y="200.00" width="13.10" height="5.80" fill="#e8981e"/>
<rect x="398.18" y="200.00" width="13.10" height="5.80" fill="#4f9a45"/>
<rect x="411.12" y="200.00" width="6.62" height="5.80" fill="#e8981e"/>
<rect x="417.60" y="200.00" width="13.10" height="5.80" fill="#4f9a45"/>
<rect x="430.55" y="200.00" width="13.10" height="5.80" fill="#e8981e"/>
<rect x="443.50" y="200.00" width="6.47" height="5.80" fill="#4f9a45"/>
<text x="453.70" y="198.77" font-size="5.5" fill="#111">Tissue</text>
<text x="453.70" y="205.07" font-size="5.5" fill="#111">Marrow</text>
<text x="382.09" y="192.2" font-size="4.9" text-anchor="start" fill="#222" transform="rotate(-90 382.09 192.2)" dy="1.7">EP11</text>
<text x="388.56" y="192.2" font-size="4.9" text-anchor="start" fill="#222" transform="rotate(-90 388.56 192.2)" dy="1.7">EP1</text>
<text x="395.04" y="192.2" font-size="4.9" text-anchor="start" fill="#222" transform="rotate(-90 395.04 192.2)" dy="1.7">EP10</text>
<text x="401.51" y="192.2" font-size="4.9" text-anchor="start" fill="#222" transform="rotate(-90 401.51 192.2)" dy="1.7">EP9</text>
<text x="407.99" y="192.2" font-size="4.9" text-anchor="start" fill="#222" transform="rotate(-90 407.99 192.2)" dy="1.7">EP2</text>
<text x="414.46" y="192.2" font-size="4.9" text-anchor="start" fill="#222" transform="rotate(-90 414.46 192.2)" dy="1.7">EP7</text>
<text x="420.94" y="192.2" font-size="4.9" text-anchor="start" fill="#222" transform="rotate(-90 420.94 192.2)" dy="1.7">EP8</text>
<text x="427.41" y="192.2" font-size="4.9" text-anchor="start" fill="#222" transform="rotate(-90 427.41 192.2)" dy="1.7">EP4</text>
<text x="433.89" y="192.2" font-size="4.9" text-anchor="start" fill="#222" transform="rotate(-90 433.89 192.2)" dy="1.7">EP5</text>
<text x="440.36" y="192.2" font-size="4.9" text-anchor="start" fill="#222" transform="rotate(-90 440.36 192.2)" dy="1.7">EP3</text>
<text x="446.84" y="192.2" font-size="4.9" text-anchor="start" fill="#222" transform="rotate(-90 446.84 192.2)" dy="1.7">EP6</text>
<path d="M388.46 176.40V170.46M394.94 176.40V170.46M388.46 170.46H394.94M391.70 170.46V164.92M401.41 176.40V164.92M391.70 164.92H401.41M395.00 164.92V159.54M381.99 176.40V159.54M381.99 159.54H395.00M407.89 176.40V163.08M414.36 176.40V163.08M407.89 163.08H414.36M391.62 159.54V157.38M411.12 163.08V157.38M391.62 157.38H411.12M420.84 176.40V157.68M411.12 157.68H420.84M401.46 157.38V156.15M427.31 176.40V160.00M433.79 176.40V160.00M427.31 160.00H433.79M430.55 160.00V156.15M401.46 156.15H430.55M408.08 156.15V153.38M440.26 176.40V165.38M446.74 176.40V165.38M440.26 165.38H446.74M443.50 165.38V153.38M408.08 153.38H443.50" stroke="#666" stroke-width="0.5" fill="none"/>
<path d="M377.40 211.97V256.98M377.40 211.97H378.20M377.40 218.40H378.20M377.40 224.82H378.20M377.40 231.25H378.20M377.40 237.69H378.20M377.40 244.12H378.20M377.40 250.55H378.20M377.40 256.98H378.20M373.50 234.47V263.40M373.50 234.47H377.40M373.50 263.40H378.20M377.40 269.83V308.41M377.40 269.83H378.20M377.40 276.26H378.20M377.40 282.69H378.20M377.40 289.12H378.20M377.40 295.56H378.20M377.40 301.99H378.20M377.40 308.41H378.20M370.50 248.94V289.12M370.50 248.94H373.50M370.50 289.12H377.40M377.40 314.85V321.27M377.40 314.85H378.20M377.40 321.27H378.20M363.50 269.03V318.06M363.50 269.03H370.50M363.50 318.06H377.40M377.40 347.00V372.72M377.40 347.00H378.20M377.40 353.42H378.20M377.40 359.86H378.20M377.40 366.28H378.20M377.40 372.72H378.20M371.50 340.56V359.86M371.50 340.56H378.20M371.50 359.86H377.40M369.90 334.13V350.21M369.90 334.13H378.20M369.90 350.21H371.50M365.90 327.70V342.17M365.90 327.70H378.20M365.90 342.17H369.90M357.00 293.55V334.94M357.00 293.55H363.50M357.00 334.94H365.90M370.90 379.14V385.57M370.90 379.14H378.20M370.90 385.57H378.20M367.90 382.36V392.00M367.90 382.36H370.90M367.90 392.00H378.20M377.40 398.44V411.29M377.40 398.44H378.20M377.40 404.87H378.20M377.40 411.29H378.20M370.90 404.87V417.73M370.90 404.87H377.40M370.90 417.73H378.20M361.00 387.18V411.30M361.00 387.18H367.90M361.00 411.30H370.90M360.00 399.24V424.15M360.00 399.24H361.00M360.00 424.15H378.20M367.90 430.58V437.01M367.90 430.58H378.20M367.90 437.01H378.20M358.60 411.70V433.80M358.60 411.70H360.00M358.60 433.80H367.90M377.40 462.74V494.88M377.40 462.74H378.20M377.40 469.16H378.20M377.40 475.59H378.20M377.40 482.02H378.20M377.40 488.45H378.20M377.40 494.88H378.20M374.50 456.30V478.81M374.50 456.30H378.20M374.50 478.81H377.40M370.90 449.88V467.56M370.90 449.88H378.20M370.90 467.56H374.50M362.30 443.44V458.72M362.30 443.44H378.20M362.30 458.72H370.90M357.80 422.75V451.08M357.80 422.75H358.60M357.80 451.08H362.30M377.40 507.75V514.17M377.40 507.75H378.20M377.40 514.17H378.20M370.90 501.31V510.96M370.90 501.31H378.20M370.90 510.96H377.40M370.90 527.03V533.46M370.90 527.03H378.20M370.90 533.46H378.20M367.90 520.61V530.25M367.90 520.61H378.20M367.90 530.25H370.90M359.50 506.14V525.43M359.50 506.14H370.90M359.50 525.43H367.90M355.60 436.91V515.78M355.60 436.91H357.80M355.60 515.78H359.50M354.00 314.24V476.35M354.00 314.24H357.00M354.00 476.35H355.60" stroke="#666" stroke-width="0.45" fill="none"/>
<rect x="378.75" y="538.10" width="6.62" height="6.45" fill="#f6dfe2"/>
<rect x="378.75" y="544.40" width="6.62" height="6.40" fill="#d6d2ee"/>
<rect x="385.23" y="538.10" width="6.62" height="6.45" fill="#3a44b2"/>
<rect x="385.23" y="544.40" width="6.62" height="6.40" fill="#2f3cae"/>
<rect x="391.70" y="538.10" width="6.62" height="6.45" fill="#3f49b4"/>
<rect x="391.70" y="544.40" width="6.62" height="6.40" fill="#4650b8"/>
<rect x="398.18" y="538.10" width="6.62" height="6.45" fill="#4f58bc"/>
<rect x="398.18" y="544.40" width="6.62" height="6.40" fill="#5c64c0"/>
<rect x="404.65" y="538.10" width="6.62" height="6.45" fill="#5860c0"/>
<rect x="404.65" y="544.40" width="6.62" height="6.40" fill="#747cca"/>
<rect x="411.12" y="538.10" width="6.62" height="6.45" fill="#cf1020"/>
<rect x="411.12" y="544.40" width="6.62" height="6.40" fill="#cf1020"/>
<rect x="417.60" y="538.10" width="6.62" height="6.45" fill="#3b45b2"/>
<rect x="417.60" y="544.40" width="6.62" height="6.40" fill="#404ab4"/>
<rect x="424.07" y="538.10" width="6.62" height="6.45" fill="#6068c4"/>
<rect x="424.07" y="544.40" width="6.62" height="6.40" fill="#666ec4"/>
<rect x="430.55" y="538.10" width="6.62" height="6.45" fill="#f8e6e6"/>
<rect x="430.55" y="544.40" width="6.62" height="6.40" fill="#de5c60"/>
<rect x="437.02" y="538.10" width="6.62" height="6.45" fill="#4c55ba"/>
<rect x="437.02" y="544.40" width="6.62" height="6.40" fill="#dcd8f0"/>
<rect x="443.50" y="538.10" width="6.47" height="6.45" fill="#5a62c0"/>
<rect x="443.50" y="544.40" width="6.47" height="6.40" fill="#d2ceec"/>
<text x="453.20" y="543.47" font-size="5.5" fill="#111">miR-15a</text>
<text x="453.20" y="549.87" font-size="5.5" fill="#111">miR-16</text>
<rect x="360.20" y="555.80" width="6.30" height="6.10" fill="#111111"/>
<text x="368.40" y="561.00" font-size="5.6" fill="#111" textLength="23.60" lengthAdjust="spacingAndGlyphs">SNV-Indel</text>
<rect x="405.00" y="555.80" width="6.20" height="6.10" fill="#27348b"/>
<text x="413.00" y="561.00" font-size="5.6" fill="#111" textLength="9.90" lengthAdjust="spacingAndGlyphs">Loss</text>
<rect x="360.20" y="564.30" width="6.30" height="6.10" fill="#7b1a15"/>
<text x="368.40" y="569.50" font-size="5.6" fill="#111" textLength="11.20" lengthAdjust="spacingAndGlyphs">Gain</text>
<rect x="405.00" y="564.30" width="6.20" height="6.10" fill="#f4e41c"/>
<text x="413.00" y="569.50" font-size="5.6" fill="#111" textLength="6.20" lengthAdjust="spacingAndGlyphs">SV</text>
<text x="434.10" y="560.00" font-size="5.6" fill="#111" textLength="56.30" lengthAdjust="spacingAndGlyphs">Relative miR expression</text>
<defs><linearGradient id="mir" x1="0" x2="1" y1="0" y2="0"><stop offset="0" stop-color="#2a2ea8"/><stop offset="0.5" stop-color="#ffffff"/><stop offset="1" stop-color="#d0101c"/></linearGradient></defs>
<rect x="440.50" y="562.40" width="45.40" height="1.90" fill="url(#mir)"/>
<text x="430.10" y="569.80" font-size="5.6" fill="#111" textLength="20.50" lengthAdjust="spacingAndGlyphs">Row min</text>
<text x="475.30" y="569.80" font-size="5.6" fill="#111" textLength="22.30" lengthAdjust="spacingAndGlyphs">Row max</text>
<rect x="349.30" y="574.20" width="6.30" height="6.10" fill="#cc1a84"/>
<text x="358.00" y="579.60" font-size="5.6" fill="#111" textLength="40.60" lengthAdjust="spacingAndGlyphs">Soft tissue lesion</text>
<rect x="349.30" y="582.80" width="6.30" height="6.10" fill="#6cb0e6"/>
<text x="358.00" y="588.00" font-size="5.6" fill="#111" textLength="47.60" lengthAdjust="spacingAndGlyphs">Solitary bone lesion</text>
<rect x="435.10" y="574.30" width="6.30" height="6.10" fill="#d9592a"/>
<text x="442.90" y="579.80" font-size="5.6" fill="#111" textLength="57.60" lengthAdjust="spacingAndGlyphs">No marrow involvement</text>
<rect x="435.10" y="582.80" width="6.30" height="6.10" fill="#3f8f3f"/>
<text x="442.90" y="588.10" font-size="5.6" fill="#111" textLength="69.90" lengthAdjust="spacingAndGlyphs">Minimal marrow involvement</text>
<text x="7.6" y="17.1" font-size="11.4" font-weight="bold" fill="#000">A</text><text x="9.6" y="99.6" font-size="11.4" font-weight="bold" fill="#000">B</text><text x="8.3" y="325.9" font-size="11.4" font-weight="bold" fill="#000">C</text><text x="8.2" y="460.9" font-size="11.4" font-weight="bold" fill="#000">D</text><text x="179.2" y="460.9" font-size="11.4" font-weight="bold" fill="#000">E</text><text x="350.2" y="18.1" font-size="11.4" font-weight="bold" fill="#000">F</text><text x="349.8" y="164.7" font-size="11.4" font-weight="bold" fill="#000">G</text>
<rect x="0.5" y="0.5" width="519" height="628" fill="none" stroke="#000" stroke-width="1"/>
</svg>
</body></html>
